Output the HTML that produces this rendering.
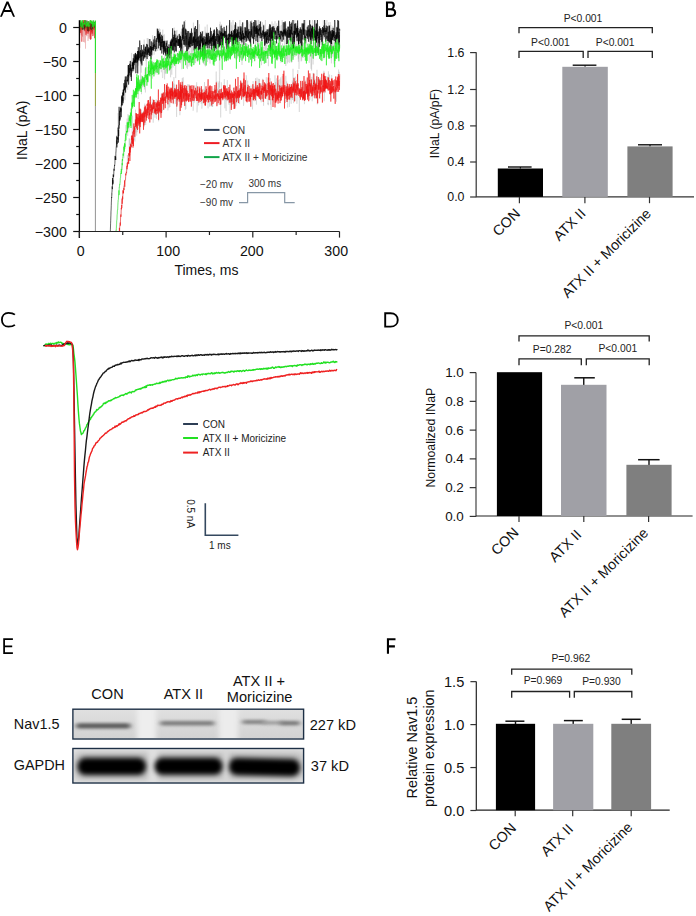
<!DOCTYPE html><html><head><meta charset="utf-8"><title>Figure</title><style>html,body{margin:0;padding:0;background:#fff;width:696px;height:916px;overflow:hidden;}*{font-family:"Liberation Sans", sans-serif;}</style></head><body><svg width="696" height="916" viewBox="0 0 696 916" style="display:block;font-family:&quot;Liberation Sans&quot;, sans-serif">
<rect width="696" height="916" fill="#fff"/>
<path d="M0 16.7 L6.5 1.6 L8.4 1.6 L15 16.7 L13.1 16.7 L11.02 11.95 L3.94 11.95 L1.9 16.7 Z M4.85 10 L10.1 10 L7.46 3.94 Z" fill="#000" fill-rule="evenodd"/>
<g fill="none" stroke-linejoin="round">
<path d="M110.3 231.6 L110.6 224.1 L110.9 214.5 L111.2 202.8 L111.5 197.9 L111.8 193 L112.1 195.4 L112.4 191.9 L112.7 183.9 L113 180.2 L113.3 178.8 L113.6 175.7 L113.9 172.2 L114.2 166.8 L114.5 166 L114.8 165.5 L115.1 156 L115.4 156.3 L115.7 147.4 L116 146.6 L116.3 140.3 L116.6 144.4 L116.9 135 L117.2 140.1 L117.5 130.4 L117.8 131.4 L118.1 113.1 L118.4 123.9 L118.7 125.2 L119 123.8 L119.3 110.3 L119.6 115.8 L119.9 110.2 L120.2 109.5 L120.5 120.4 L120.8 105.2 L121.1 108.4 L121.4 112.6 L121.7 100.5 L122 102.4 L122.3 102 L122.6 100.4 L122.9 89.9 L123.2 96.8 L123.5 104.2 L123.8 83.2 L124.1 98.8 L124.4 92.4 L124.7 85.9 L125 100.2 L125.3 93.4 L125.6 78.4 L125.9 86 L126.2 88.5 L126.5 82.6 L126.8 87.3 L127.1 75 L127.4 85.1 L127.7 89.9 L128 73.8 L128.3 79.3 L128.6 73.3 L128.9 76.3 L129.2 66.3 L129.5 69.9 L129.8 71.3 L130.1 77.7 L130.4 78.6 L130.7 60.4 L131 63.3 L131.3 70.5 L131.6 52.9 L131.9 63.1 L132.2 64.9 L132.5 73 L132.8 68.4 L133.1 60.8 L133.4 59.9 L133.7 59.6 L134 71.4 L134.3 57.5 L134.6 57.7 L134.9 60.7 L135.2 58.3 L135.5 57.8 L135.8 51.7 L136.1 59.1 L136.4 56.4 L136.7 67.5 L137 63.6 L137.3 54.5 L137.6 63.6 L137.9 56.4 L138.2 65.6 L138.5 57.5 L138.8 61.4 L139.1 47.9 L139.4 59.4 L139.7 45.6 L140 43.2 L140.3 55.1 L140.6 79.7 L140.9 57.7 L141.2 72.7 L141.5 51 L141.8 52.5 L142.1 58.2 L142.4 59.9 L142.7 53.9 L143 54.4 L143.3 60.7 L143.6 59.4 L143.9 48 L144.2 39.6 L144.5 55.7 L144.8 47.9 L145.1 56.9 L145.4 48.5 L145.7 60.8 L146 55.2 L146.3 53.9 L146.6 49.1 L146.9 52.1 L147.2 38 L147.5 43.7 L147.8 53.7 L148.1 38.2 L148.4 56.9 L148.7 39.2 L149 56.5 L149.3 45.1 L149.6 56.1 L149.9 51.3 L150.2 39.5 L150.5 58.4 L150.8 59.6 L151.1 48.7 L151.4 47.5 L151.7 47.9 L152 41.5 L152.3 55.9 L152.6 35.2 L152.9 47.2 L153.2 42 L153.5 42.6 L153.8 37.4 L154.1 54.8 L154.4 44.1 L154.7 51.2 L155 44.2 L155.3 38.9 L155.6 40.9 L155.9 38.7 L156.2 41.9 L156.5 39.4 L156.8 39 L157.1 33.5 L157.4 34.4 L157.7 51 L158 34.7 L158.3 31.6 L158.6 40.4 L158.9 47.9 L159.2 28.3 L159.5 40.8 L159.8 35.4 L160.1 29.2 L160.4 45.5 L160.7 40.3 L161 41.4 L161.3 35.7 L161.6 44.4 L161.9 37.8 L162.2 39.9 L162.5 34.2 L162.8 29.6 L163.1 51.8 L163.4 34.9 L163.7 45.8 L164 43.7 L164.3 34.3 L164.6 42.1 L164.9 60.6 L165.2 44.6 L165.5 46 L165.8 47.7 L166.1 56.6 L166.4 53.8 L166.7 51.8 L167 45.4 L167.3 40.2 L167.6 57.3 L167.9 58.2 L168.2 50.8 L168.5 56.2 L168.8 58.6 L169.1 59.3 L169.4 59.5 L169.7 48.8 L170 62 L170.3 41.7 L170.6 56 L170.9 52.4 L171.2 54.5 L171.5 60.9 L171.8 49.8 L172.1 37.9 L172.4 32.9 L172.7 50.3 L173 37.3 L173.3 43.9 L173.6 47.1 L173.9 31.3 L174.2 27.6 L174.5 43.1 L174.8 42 L175.1 40.2 L175.4 41.8 L175.7 35.8 L176 31 L176.3 40.6 L176.6 34.4 L176.9 29.9 L177.2 45 L177.5 40.9 L177.8 44.1 L178.1 34.6 L178.4 37.2 L178.7 34.7 L179 35.7 L179.3 43 L179.6 36.5 L179.9 44.4 L180.2 44 L180.5 55.6 L180.8 31.6 L181.1 47.2 L181.4 40.5 L181.7 41 L182 31.9 L182.3 37.4 L182.6 45.6 L182.9 39.6 L183.2 40.7 L183.5 37.8 L183.8 48.1 L184.1 39.8 L184.4 24.2 L184.7 34.4 L185 21.1 L185.3 20 L185.6 33.7 L185.9 46.8 L186.2 31.1 L186.5 29.5 L186.8 30.7 L187.1 45.2 L187.4 38.3 L187.7 37.6 L188 37.4 L188.3 38.5 L188.6 44.5 L188.9 42.6 L189.2 40.2 L189.5 31.7 L189.8 42.6 L190.1 34.3 L190.4 47.1 L190.7 31.3 L191 39.1 L191.3 40.4 L191.6 31.6 L191.9 52.5 L192.2 50.7 L192.5 37 L192.8 43.7 L193.1 42.9 L193.4 22.6 L193.7 37.5 L194 40.3 L194.3 40.7 L194.6 32.5 L194.9 38.3 L195.2 39 L195.5 48.3 L195.8 42.5 L196.1 40.2 L196.4 44.6 L196.7 35.6 L197 36.9 L197.3 26.8 L197.6 49.8 L197.9 45.8 L198.2 45.5 L198.5 43.9 L198.8 40.7 L199.1 41.6 L199.4 24.2 L199.7 37.7 L200 40 L200.3 47.9 L200.6 43.3 L200.9 38.7 L201.2 34.9 L201.5 34.9 L201.8 49.8 L202.1 41.7 L202.4 38.6 L202.7 35.8 L203 30.9 L203.3 38.3 L203.6 45.3 L203.9 36.5 L204.2 37.3 L204.5 37.2 L204.8 36.6 L205.1 26.7 L205.4 36.5 L205.7 31.7 L206 43.4 L206.3 32.1 L206.6 41.8 L206.9 48.3 L207.2 24.5 L207.5 34.4 L207.8 40.1 L208.1 39 L208.4 32.7 L208.7 43.1 L209 53.9 L209.3 37.9 L209.6 38.1 L209.9 31.9 L210.2 41.8 L210.5 30.9 L210.8 31.9 L211.1 57.1 L211.4 32.7 L211.7 46.8 L212 49.8 L212.3 40.7 L212.6 42.8 L212.9 52.8 L213.2 33.1 L213.5 34.1 L213.8 29 L214.1 38.7 L214.4 48 L214.7 44.3 L215 30.7 L215.3 31.6 L215.6 34.1 L215.9 39.5 L216.2 36 L216.5 38.5 L216.8 39.2 L217.1 34.9 L217.4 37.2 L217.7 38.7 L218 36.3 L218.3 40.2 L218.6 49 L218.9 39.9 L219.2 36.3 L219.5 24.1 L219.8 38.2 L220.1 21.7 L220.4 25.9 L220.7 41.6 L221 40.7 L221.3 34.6 L221.6 24.2 L221.9 34 L222.2 32 L222.5 41.4 L222.8 52.8 L223.1 38.5 L223.4 31 L223.7 28.4 L224 36.5 L224.3 35.8 L224.6 29.4 L224.9 38.8 L225.2 29.5 L225.5 45.1 L225.8 41.8 L226.1 45.4 L226.4 34.3 L226.7 41 L227 36.2 L227.3 33.8 L227.6 33.3 L227.9 26.4 L228.2 25.3 L228.5 40.6 L228.8 33.5 L229.1 36.4 L229.4 42.3 L229.7 22.9 L230 29.7 L230.3 36 L230.6 37.2 L230.9 31.6 L231.2 22.3 L231.5 35.3 L231.8 25.4 L232.1 27.1 L232.4 38.8 L232.7 33.4 L233 20.1 L233.3 43.2 L233.6 37.7 L233.9 42.7 L234.2 30.4 L234.5 31.1 L234.8 25.4 L235.1 51.1 L235.4 36.6 L235.7 44.5 L236 29.1 L236.3 35.4 L236.6 23.1 L236.9 32 L237.2 42 L237.5 26.4 L237.8 42.8 L238.1 37.4 L238.4 29.3 L238.7 31.5 L239 31.7 L239.3 34.2 L239.6 31 L239.9 20 L240.2 32.9 L240.5 28.2 L240.8 26.3 L241.1 34.7 L241.4 40.8 L241.7 24.1 L242 34.5 L242.3 29.8 L242.6 27.6 L242.9 40.1 L243.2 30.1 L243.5 54.7 L243.8 27.6 L244.1 35.7 L244.4 31.7 L244.7 28.1 L245 37.3 L245.3 29.3 L245.6 38.4 L245.9 33.7 L246.2 26.1 L246.5 32.7 L246.8 33.8 L247.1 40.3 L247.4 27.7 L247.7 30.8 L248 22.5 L248.3 39.3 L248.6 26.9 L248.9 21.4 L249.2 34 L249.5 42.4 L249.8 24.2 L250.1 27.7 L250.4 27.8 L250.7 26.7 L251 38 L251.3 20.3 L251.6 20 L251.9 39.4 L252.2 30.4 L252.5 38.9 L252.8 28.4 L253.1 26.4 L253.4 21.7 L253.7 44.4 L254 31.5 L254.3 23.8 L254.6 33.3 L254.9 34.7 L255.2 34.5 L255.5 47.3 L255.8 26.5 L256.1 22.8 L256.4 26.8 L256.7 24.6 L257 31.9 L257.3 39.3 L257.6 26.6 L257.9 20 L258.2 20 L258.5 42.7 L258.8 20 L259.1 37.5 L259.4 27 L259.7 41.9 L260 27.4 L260.3 32.7 L260.6 24.2 L260.9 21.4 L261.2 44.7 L261.5 41.2 L261.8 33 L262.1 29.5 L262.4 22.2 L262.7 33 L263 35.5 L263.3 35.6 L263.6 35.9 L263.9 24.1 L264.2 36.5 L264.5 43.8 L264.8 45.8 L265.1 49.6 L265.4 20 L265.7 30.8 L266 35.2 L266.3 31.7 L266.6 30.9 L266.9 36 L267.2 29.1 L267.5 40.4 L267.8 35.3 L268.1 38 L268.4 35.1 L268.7 26.4 L269 29.5 L269.3 34.5 L269.6 31.9 L269.9 37.2 L270.2 35 L270.5 25.5 L270.8 36 L271.1 26.4 L271.4 32 L271.7 33.5 L272 21.5 L272.3 36.2 L272.6 36.6 L272.9 32.7 L273.2 23.7 L273.5 31.6 L273.8 27.5 L274.1 32.8 L274.4 30.8 L274.7 35.5 L275 21.2 L275.3 36.1 L275.6 36.3 L275.9 34.2 L276.2 32.3 L276.5 38.8 L276.8 23.3 L277.1 38.8 L277.4 37.3 L277.7 38.2 L278 38.7 L278.3 31.4 L278.6 34.3 L278.9 40.3 L279.2 39.4 L279.5 38 L279.8 26.1 L280.1 40.2 L280.4 44.7 L280.7 43.3 L281 37.9 L281.3 25 L281.6 41.9 L281.9 34 L282.2 20 L282.5 37.7 L282.8 24 L283.1 24.4 L283.4 28.5 L283.7 41.6 L284 30 L284.3 35.2 L284.6 44.9 L284.9 43.9 L285.2 32.3 L285.5 31.2 L285.8 23.8 L286.1 28.1 L286.4 35.7 L286.7 35.4 L287 33.4 L287.3 39.7 L287.6 27.5 L287.9 32.5 L288.2 42.8 L288.5 39 L288.8 41.3 L289.1 36.7 L289.4 32.3 L289.7 37 L290 27 L290.3 22 L290.6 38 L290.9 33.5 L291.2 35.4 L291.5 21.3 L291.8 30.9 L292.1 29.2 L292.4 26.9 L292.7 20 L293 31.5 L293.3 40.3 L293.6 36.9 L293.9 30.5 L294.2 34.9 L294.5 39.9 L294.8 20 L295.1 33.7 L295.4 37.7 L295.7 39.1 L296 46.8 L296.3 43.4 L296.6 32 L296.9 37.7 L297.2 41.9 L297.5 21.5 L297.8 36.4 L298.1 42.3 L298.4 58.7 L298.7 34.2 L299 34.9 L299.3 36.4 L299.6 43.9 L299.9 34 L300.2 44.4 L300.5 28.1 L300.8 33.7 L301.1 33.8 L301.4 41.5 L301.7 42.5 L302 24.4 L302.3 32 L302.6 37 L302.9 29.7 L303.2 22.9 L303.5 40.5 L303.8 37.1 L304.1 37.2 L304.4 30.5 L304.7 41.4 L305 32.6 L305.3 41.7 L305.6 20 L305.9 29.2 L306.2 36.7 L306.5 42.7 L306.8 39.3 L307.1 36.3 L307.4 27.9 L307.7 35.2 L308 32.3 L308.3 41.1 L308.6 30.5 L308.9 31.8 L309.2 43.3 L309.5 50.3 L309.8 48 L310.1 34.5 L310.4 35.4 L310.7 44.8 L311 33.6 L311.3 27.6 L311.6 34.7 L311.9 36.3 L312.2 27.4 L312.5 20 L312.8 23.7 L313.1 44.5 L313.4 28.7 L313.7 32.6 L314 25.7 L314.3 37.9 L314.6 30.7 L314.9 37.2 L315.2 26.9 L315.5 31.9 L315.8 27.6 L316.1 42.7 L316.4 34.8 L316.7 29.5 L317 30 L317.3 33.3 L317.6 40 L317.9 24.4 L318.2 28.1 L318.5 32.3 L318.8 51.4 L319.1 42 L319.4 33.8 L319.7 39.6 L320 44.9 L320.3 32.9 L320.6 29.6 L320.9 43.2 L321.2 37.6 L321.5 39 L321.8 37.4 L322.1 47.5 L322.4 44.2 L322.7 38.7 L323 39.5 L323.3 20.2 L323.6 38.9 L323.9 32.8 L324.2 37.4 L324.5 39.2 L324.8 32.4 L325.1 22.9 L325.4 37.7 L325.7 30 L326 34.8 L326.3 30.5 L326.6 32.1 L326.9 20 L327.2 43.4 L327.5 35.7 L327.8 42.7 L328.1 45.1 L328.4 35.1 L328.7 22.3 L329 29.2 L329.3 27.4 L329.6 32.6 L329.9 36.7 L330.2 22.1 L330.5 38.5 L330.8 25 L331.1 38 L331.4 35.6 L331.7 27.9 L332 36.5 L332.3 33.8 L332.6 31 L332.9 25.9 L333.2 37.1 L333.5 50.2 L333.8 51 L334.1 46.7 L334.4 42 L334.7 32.3 L335 46.4 L335.3 36.2 L335.6 36.1 L335.9 34.7 L336.2 37.2 L336.5 32.9 L336.8 35.7 L337.1 28.6 L337.4 32.8 L337.7 49.1 L338 38.6 L338.3 33.6 L338.6 39.4 L338.9 40.6 L339.2 28 L339.5 34.8" stroke="#aaa" stroke-width="0.45" opacity="0.6"/>
<path d="M116 231.3 L116.3 224.2 L116.6 224.4 L116.9 218.3 L117.2 214.3 L117.5 210.1 L117.8 207 L118.1 200.4 L118.4 199.6 L118.7 195.3 L119 191.6 L119.3 189.8 L119.6 186.3 L119.9 184.5 L120.2 183.7 L120.5 177.2 L120.8 177.5 L121.1 175.6 L121.4 171.4 L121.7 166.6 L122 159.6 L122.3 170.1 L122.6 160.1 L122.9 154 L123.2 154.4 L123.5 149.5 L123.8 158.2 L124.1 150.3 L124.4 144.7 L124.7 146.1 L125 143 L125.3 148.7 L125.6 133 L125.9 125.1 L126.2 135 L126.5 131.3 L126.8 129.3 L127.1 118.6 L127.4 131 L127.7 135.9 L128 114.1 L128.3 128.8 L128.6 117.8 L128.9 132.1 L129.2 120.6 L129.5 115.6 L129.8 121.4 L130.1 116.9 L130.4 119.8 L130.7 116.3 L131 108.5 L131.3 109.1 L131.6 119.4 L131.9 104.8 L132.2 101.4 L132.5 105.2 L132.8 94.3 L133.1 94.5 L133.4 97.9 L133.7 96.4 L134 99.1 L134.3 103.9 L134.6 94.4 L134.9 98.8 L135.2 93.2 L135.5 88.1 L135.8 89.6 L136.1 86.2 L136.4 95.5 L136.7 91.3 L137 87.7 L137.3 79.2 L137.6 86.5 L137.9 81.7 L138.2 99 L138.5 84.3 L138.8 79.6 L139.1 88.1 L139.4 86.3 L139.7 79 L140 88.7 L140.3 81.6 L140.6 79 L140.9 80.8 L141.2 75.3 L141.5 94.2 L141.8 78.2 L142.1 87.5 L142.4 87 L142.7 76.7 L143 86.5 L143.3 77.2 L143.6 79.1 L143.9 81.2 L144.2 77.8 L144.5 89.4 L144.8 77.1 L145.1 68.7 L145.4 92.5 L145.7 71.8 L146 71.5 L146.3 56.7 L146.6 78 L146.9 79.7 L147.2 76.4 L147.5 76.6 L147.8 80.7 L148.1 70.5 L148.4 75.7 L148.7 66.4 L149 68.2 L149.3 75.4 L149.6 72 L149.9 61.6 L150.2 70.5 L150.5 74.2 L150.8 53.5 L151.1 70.3 L151.4 65.9 L151.7 60.4 L152 62.6 L152.3 78.6 L152.6 60.9 L152.9 70.4 L153.2 72 L153.5 72.7 L153.8 68.5 L154.1 67 L154.4 69.8 L154.7 73.3 L155 65.4 L155.3 62.8 L155.6 73.7 L155.9 74.5 L156.2 70.5 L156.5 64.7 L156.8 70.5 L157.1 68.6 L157.4 72.9 L157.7 61.2 L158 74.8 L158.3 67.2 L158.6 65.1 L158.9 73.9 L159.2 68.5 L159.5 65.8 L159.8 70.1 L160.1 59.9 L160.4 66.7 L160.7 69.1 L161 64 L161.3 72.2 L161.6 59.9 L161.9 59.6 L162.2 67.8 L162.5 77.9 L162.8 78 L163.1 70.1 L163.4 61.2 L163.7 69.8 L164 66.8 L164.3 57.4 L164.6 79.4 L164.9 66.6 L165.2 73.2 L165.5 67.7 L165.8 74.1 L166.1 66.6 L166.4 70.3 L166.7 58.2 L167 56.9 L167.3 71.4 L167.6 71.5 L167.9 65.4 L168.2 63.7 L168.5 63.3 L168.8 58.8 L169.1 71.2 L169.4 66.3 L169.7 65.4 L170 64.5 L170.3 68.1 L170.6 77.3 L170.9 67.1 L171.2 56.9 L171.5 65.3 L171.8 74.7 L172.1 60.3 L172.4 62.3 L172.7 67 L173 67.5 L173.3 65.3 L173.6 53.4 L173.9 64.7 L174.2 55.4 L174.5 57.1 L174.8 64.2 L175.1 58.9 L175.4 65 L175.7 78.1 L176 64.7 L176.3 63.7 L176.6 54.3 L176.9 55.8 L177.2 53.2 L177.5 55.4 L177.8 52.8 L178.1 54.5 L178.4 57.4 L178.7 53.1 L179 50.5 L179.3 50.6 L179.6 52.1 L179.9 59 L180.2 63.4 L180.5 62.8 L180.8 55.8 L181.1 61.3 L181.4 49.2 L181.7 69.2 L182 63.4 L182.3 56.1 L182.6 50.5 L182.9 58.4 L183.2 46 L183.5 52.7 L183.8 60.5 L184.1 56.7 L184.4 53.2 L184.7 61.5 L185 50.8 L185.3 58.2 L185.6 53.6 L185.9 51.4 L186.2 59.5 L186.5 51.8 L186.8 67.8 L187.1 54.6 L187.4 69.1 L187.7 52 L188 61.6 L188.3 51.8 L188.6 51.2 L188.9 66.5 L189.2 61.5 L189.5 50.8 L189.8 64.7 L190.1 54.1 L190.4 58.9 L190.7 60.2 L191 48 L191.3 48.1 L191.6 66.8 L191.9 60.7 L192.2 54.8 L192.5 50.7 L192.8 46.3 L193.1 47.2 L193.4 57.8 L193.7 45.4 L194 48.7 L194.3 52 L194.6 63.3 L194.9 53.4 L195.2 52.4 L195.5 63.1 L195.8 56.1 L196.1 55.3 L196.4 52 L196.7 46.5 L197 48.7 L197.3 52.6 L197.6 55.9 L197.9 61.7 L198.2 58.8 L198.5 60.4 L198.8 57.1 L199.1 50.7 L199.4 43.6 L199.7 52.6 L200 59.5 L200.3 55 L200.6 53.5 L200.9 47.8 L201.2 51 L201.5 53.7 L201.8 54.7 L202.1 51.3 L202.4 57.6 L202.7 53.7 L203 49.3 L203.3 54.5 L203.6 64.1 L203.9 50.2 L204.2 60.1 L204.5 62 L204.8 65.3 L205.1 50.6 L205.4 66.4 L205.7 55.5 L206 52.8 L206.3 53.4 L206.6 58.2 L206.9 55.6 L207.2 53.9 L207.5 62 L207.8 51 L208.1 48.7 L208.4 58.5 L208.7 57.9 L209 60.2 L209.3 33.9 L209.6 60.2 L209.9 63.4 L210.2 63.4 L210.5 46.7 L210.8 54.3 L211.1 51.1 L211.4 44.1 L211.7 57.1 L212 59.9 L212.3 50.8 L212.6 49 L212.9 54.3 L213.2 64.2 L213.5 58.2 L213.8 48 L214.1 51.9 L214.4 58.4 L214.7 49.1 L215 48.8 L215.3 57.1 L215.6 61.5 L215.9 46.8 L216.2 38.7 L216.5 45.3 L216.8 47.9 L217.1 53 L217.4 57.5 L217.7 53 L218 49.9 L218.3 55.9 L218.6 48.8 L218.9 54.1 L219.2 50.9 L219.5 87.6 L219.8 74.3 L220.1 42.3 L220.4 48.7 L220.7 52 L221 47.5 L221.3 49.2 L221.6 49.9 L221.9 59 L222.2 51.6 L222.5 49.1 L222.8 52.3 L223.1 46.9 L223.4 52.9 L223.7 52 L224 59.4 L224.3 52 L224.6 59.5 L224.9 54.7 L225.2 53 L225.5 41.9 L225.8 46.2 L226.1 57.6 L226.4 61.4 L226.7 54.1 L227 57.8 L227.3 51.3 L227.6 50.7 L227.9 48.7 L228.2 57.8 L228.5 54.1 L228.8 54.7 L229.1 49.5 L229.4 54.1 L229.7 52.8 L230 46.2 L230.3 59.1 L230.6 50.7 L230.9 49.7 L231.2 57.1 L231.5 54.4 L231.8 47.6 L232.1 50.6 L232.4 41.9 L232.7 44.5 L233 35.5 L233.3 54.5 L233.6 37.9 L233.9 52.8 L234.2 37.2 L234.5 56.4 L234.8 48 L235.1 51.2 L235.4 53 L235.7 59.3 L236 51.9 L236.3 54.6 L236.6 46.9 L236.9 53.9 L237.2 51.6 L237.5 58.4 L237.8 50.8 L238.1 50.9 L238.4 55.6 L238.7 53.9 L239 49.2 L239.3 48.3 L239.6 56.1 L239.9 41.6 L240.2 47.4 L240.5 59.7 L240.8 48.3 L241.1 50.3 L241.4 54.5 L241.7 32 L242 65 L242.3 37.2 L242.6 59 L242.9 59.4 L243.2 56.1 L243.5 49.8 L243.8 53.4 L244.1 46.7 L244.4 55.6 L244.7 44.9 L245 49.8 L245.3 56.2 L245.6 40.6 L245.9 49.7 L246.2 52.8 L246.5 44.4 L246.8 49.3 L247.1 53.4 L247.4 43.9 L247.7 52.8 L248 49 L248.3 49.4 L248.6 53.6 L248.9 49.3 L249.2 58 L249.5 48.9 L249.8 57.5 L250.1 51.1 L250.4 56.3 L250.7 48.4 L251 48.8 L251.3 45.9 L251.6 54.8 L251.9 57 L252.2 62.7 L252.5 58.1 L252.8 52.3 L253.1 50 L253.4 53.2 L253.7 50 L254 57.7 L254.3 54.9 L254.6 45.4 L254.9 46.5 L255.2 57.7 L255.5 51.9 L255.8 49.1 L256.1 57.9 L256.4 55.9 L256.7 54.4 L257 47.9 L257.3 39.2 L257.6 55.2 L257.9 43.7 L258.2 47.9 L258.5 47.6 L258.8 56.4 L259.1 51.9 L259.4 52 L259.7 42.8 L260 51.8 L260.3 44.3 L260.6 54.4 L260.9 60.7 L261.2 53.6 L261.5 65.2 L261.8 57.1 L262.1 57.3 L262.4 55 L262.7 53.2 L263 59.6 L263.3 60.3 L263.6 46.9 L263.9 59.5 L264.2 56.6 L264.5 58.3 L264.8 55.6 L265.1 45.6 L265.4 46.1 L265.7 63.2 L266 54.1 L266.3 44.6 L266.6 53.8 L266.9 48.6 L267.2 40.5 L267.5 38.1 L267.8 41.3 L268.1 35.3 L268.4 66.2 L268.7 48.8 L269 51.5 L269.3 53.4 L269.6 39 L269.9 48.9 L270.2 45.9 L270.5 44.2 L270.8 47.2 L271.1 49.5 L271.4 48.9 L271.7 41.9 L272 47.6 L272.3 61.6 L272.6 44.7 L272.9 41.5 L273.2 51.5 L273.5 53.1 L273.8 52.4 L274.1 43.6 L274.4 55.5 L274.7 45.6 L275 44.1 L275.3 47.5 L275.6 51.7 L275.9 54.4 L276.2 53.6 L276.5 49.6 L276.8 55.2 L277.1 58.9 L277.4 55.1 L277.7 42.6 L278 41.7 L278.3 54.1 L278.6 42.6 L278.9 59.3 L279.2 50 L279.5 49.7 L279.8 48 L280.1 58.4 L280.4 36.6 L280.7 55.7 L281 62.7 L281.3 50.1 L281.6 49.5 L281.9 53.7 L282.2 59.7 L282.5 43.4 L282.8 50.3 L283.1 48.6 L283.4 52.8 L283.7 50.3 L284 53 L284.3 47.3 L284.6 49.8 L284.9 46.1 L285.2 46.7 L285.5 49.7 L285.8 66 L286.1 54.9 L286.4 59.1 L286.7 50.1 L287 43.3 L287.3 63.5 L287.6 46.6 L287.9 53.7 L288.2 62.2 L288.5 52.3 L288.8 52.2 L289.1 48.7 L289.4 51.4 L289.7 62.8 L290 39.1 L290.3 51.5 L290.6 53.6 L290.9 45.4 L291.2 43.7 L291.5 62.6 L291.8 49.1 L292.1 62.2 L292.4 44.3 L292.7 50.2 L293 58.2 L293.3 53.3 L293.6 55.9 L293.9 52 L294.2 53.5 L294.5 50.6 L294.8 56.9 L295.1 54 L295.4 44.2 L295.7 45.9 L296 51.9 L296.3 46.8 L296.6 47.9 L296.9 44.3 L297.2 48.2 L297.5 52 L297.8 55.1 L298.1 49.8 L298.4 61.8 L298.7 50.6 L299 69 L299.3 57.2 L299.6 54.2 L299.9 48.4 L300.2 35.5 L300.5 50.2 L300.8 52.2 L301.1 61.4 L301.4 44.5 L301.7 60.7 L302 47.7 L302.3 52.7 L302.6 42 L302.9 49.6 L303.2 47 L303.5 57.8 L303.8 50.5 L304.1 43.2 L304.4 54.5 L304.7 52.9 L305 52.2 L305.3 54.5 L305.6 54.8 L305.9 48.5 L306.2 40.9 L306.5 41.1 L306.8 55.8 L307.1 52.5 L307.4 49.9 L307.7 53.3 L308 50 L308.3 51.6 L308.6 49.2 L308.9 47.2 L309.2 62.9 L309.5 51.9 L309.8 46.8 L310.1 43.6 L310.4 46.3 L310.7 53.9 L311 68.8 L311.3 52.1 L311.6 70.6 L311.9 49.7 L312.2 45.2 L312.5 58.2 L312.8 53 L313.1 64.5 L313.4 49.9 L313.7 49.7 L314 55.5 L314.3 48.7 L314.6 42.4 L314.9 45.2 L315.2 51 L315.5 52.5 L315.8 49.8 L316.1 55.4 L316.4 55.2 L316.7 52.5 L317 50.6 L317.3 48.6 L317.6 52.7 L317.9 54.2 L318.2 49.3 L318.5 51.8 L318.8 47.7 L319.1 41.9 L319.4 41.5 L319.7 53.3 L320 51.5 L320.3 57.8 L320.6 48.9 L320.9 53.2 L321.2 55.2 L321.5 56.1 L321.8 45.1 L322.1 47.1 L322.4 49.4 L322.7 42.3 L323 50.8 L323.3 54.2 L323.6 46.1 L323.9 59.6 L324.2 47.3 L324.5 47.6 L324.8 47.8 L325.1 44.6 L325.4 51.3 L325.7 48.8 L326 57.3 L326.3 51.2 L326.6 51.9 L326.9 47.7 L327.2 41.5 L327.5 48.7 L327.8 44.6 L328.1 54.1 L328.4 48.5 L328.7 58.6 L329 53 L329.3 53.1 L329.6 50.1 L329.9 49.8 L330.2 52.5 L330.5 54.2 L330.8 45 L331.1 52.1 L331.4 63.4 L331.7 49 L332 48.3 L332.3 46.8 L332.6 42.6 L332.9 56.7 L333.2 49.7 L333.5 51.4 L333.8 59.8 L334.1 63.8 L334.4 44.6 L334.7 54.3 L335 52.3 L335.3 50.7 L335.6 50.9 L335.9 48.4 L336.2 57.6 L336.5 52 L336.8 50.4 L337.1 55.1 L337.4 53.7 L337.7 51.5 L338 50.7 L338.3 57.8 L338.6 50.5 L338.9 47.5 L339.2 43.7 L339.5 46.6 L339.8 42.6" stroke="#aaa" stroke-width="0.45" opacity="0.6"/>
<path d="M119.3 232 L119.6 227.3 L119.9 224.8 L120.2 224.6 L120.5 220 L120.8 214.9 L121.1 214.6 L121.4 210.2 L121.7 206.2 L122 203.6 L122.3 199.1 L122.6 196.5 L122.9 194 L123.2 193.2 L123.5 188.6 L123.8 185.9 L124.1 190.5 L124.4 184.5 L124.7 183.1 L125 181 L125.3 179.4 L125.6 179.8 L125.9 175.4 L126.2 171.2 L126.5 173.6 L126.8 167.5 L127.1 170.1 L127.4 155 L127.7 159.7 L128 164.4 L128.3 158.2 L128.6 154 L128.9 156.5 L129.2 138.3 L129.5 151.4 L129.8 138.9 L130.1 145.1 L130.4 142.5 L130.7 146.7 L131 146.8 L131.3 135.5 L131.6 148.3 L131.9 133.8 L132.2 123.5 L132.5 115.7 L132.8 144.5 L133.1 132.8 L133.4 128.5 L133.7 127.1 L134 123.7 L134.3 140.2 L134.6 129 L134.9 141.5 L135.2 126.5 L135.5 109.7 L135.8 132.6 L136.1 123 L136.4 122.9 L136.7 135.7 L137 122.5 L137.3 132.1 L137.6 123 L137.9 117.1 L138.2 125.9 L138.5 116.4 L138.8 129.2 L139.1 127.1 L139.4 119.8 L139.7 123.4 L140 122.6 L140.3 115.8 L140.6 124 L140.9 115.1 L141.2 120.9 L141.5 109.6 L141.8 116.8 L142.1 119.3 L142.4 120.1 L142.7 113.2 L143 112.2 L143.3 121.2 L143.6 110.6 L143.9 118.7 L144.2 126.6 L144.5 118.4 L144.8 103.6 L145.1 115.9 L145.4 122.3 L145.7 125 L146 121.6 L146.3 117.6 L146.6 115.4 L146.9 118 L147.2 108.4 L147.5 110.2 L147.8 112.6 L148.1 115.7 L148.4 114.9 L148.7 110.1 L149 112.4 L149.3 114.8 L149.6 96.9 L149.9 106.2 L150.2 114.1 L150.5 109.5 L150.8 109 L151.1 108.7 L151.4 104.1 L151.7 115.5 L152 112.7 L152.3 98.8 L152.6 111.1 L152.9 102.6 L153.2 122.7 L153.5 106.2 L153.8 105.6 L154.1 108.2 L154.4 106 L154.7 106.1 L155 117.7 L155.3 101.8 L155.6 112 L155.9 114.3 L156.2 99.4 L156.5 118.8 L156.8 111.9 L157.1 114 L157.4 100.3 L157.7 112.4 L158 109.1 L158.3 101.6 L158.6 121.3 L158.9 109.3 L159.2 103.1 L159.5 106.4 L159.8 111.7 L160.1 113.5 L160.4 108.7 L160.7 113.3 L161 114.4 L161.3 93.7 L161.6 98.7 L161.9 94.8 L162.2 101.9 L162.5 111.3 L162.8 105.1 L163.1 92.4 L163.4 97.6 L163.7 106.4 L164 94.8 L164.3 97.4 L164.6 89.5 L164.9 84.2 L165.2 102.9 L165.5 99.9 L165.8 101.5 L166.1 89.8 L166.4 91.2 L166.7 92.4 L167 98.9 L167.3 89.2 L167.6 98.6 L167.9 110.4 L168.2 106.3 L168.5 91.2 L168.8 90.9 L169.1 107.9 L169.4 93.2 L169.7 105.8 L170 107 L170.3 91.8 L170.6 93.4 L170.9 95.7 L171.2 88.4 L171.5 94.3 L171.8 87.6 L172.1 100.4 L172.4 90.8 L172.7 92.1 L173 90.3 L173.3 83.3 L173.6 104.2 L173.9 77 L174.2 89.3 L174.5 98.3 L174.8 84.4 L175.1 99.2 L175.4 103.9 L175.7 88.6 L176 96.5 L176.3 87.1 L176.6 116.9 L176.9 90.2 L177.2 96.9 L177.5 105.2 L177.8 98.8 L178.1 99.1 L178.4 100 L178.7 87 L179 97.1 L179.3 98.6 L179.6 84.2 L179.9 115.2 L180.2 94.2 L180.5 96 L180.8 86.8 L181.1 93.6 L181.4 95.1 L181.7 90.5 L182 94 L182.3 78.1 L182.6 102.8 L182.9 85.1 L183.2 77.3 L183.5 86.2 L183.8 84.9 L184.1 97.3 L184.4 87 L184.7 97 L185 86.9 L185.3 109.9 L185.6 98.2 L185.9 108.9 L186.2 87.9 L186.5 100.5 L186.8 88.1 L187.1 99.4 L187.4 100.3 L187.7 84.3 L188 87.2 L188.3 86.5 L188.6 84.5 L188.9 90.1 L189.2 88.2 L189.5 84.6 L189.8 96.2 L190.1 99.9 L190.4 86.3 L190.7 91.5 L191 96.3 L191.3 94.3 L191.6 91 L191.9 101.3 L192.2 101.8 L192.5 100.4 L192.8 94.9 L193.1 110.8 L193.4 108.8 L193.7 86.1 L194 94.5 L194.3 102.6 L194.6 90.3 L194.9 99 L195.2 96.9 L195.5 91.7 L195.8 95.2 L196.1 85.4 L196.4 92.7 L196.7 82.3 L197 112.4 L197.3 106.9 L197.6 105 L197.9 98.6 L198.2 103.3 L198.5 105.4 L198.8 103.5 L199.1 102.8 L199.4 89.7 L199.7 99.5 L200 92.9 L200.3 88.1 L200.6 87.8 L200.9 99.6 L201.2 103.8 L201.5 86.4 L201.8 108.6 L202.1 106.7 L202.4 93.3 L202.7 92.6 L203 96 L203.3 103.9 L203.6 94 L203.9 88.8 L204.2 99.5 L204.5 82.1 L204.8 98 L205.1 105 L205.4 98.6 L205.7 100.1 L206 100.3 L206.3 102 L206.6 98.1 L206.9 91.1 L207.2 95.7 L207.5 96.6 L207.8 106.3 L208.1 108.4 L208.4 99.9 L208.7 91.7 L209 91.5 L209.3 95.2 L209.6 106.6 L209.9 99.3 L210.2 96.1 L210.5 90.5 L210.8 106.2 L211.1 98.2 L211.4 95.3 L211.7 96.3 L212 107 L212.3 93.7 L212.6 107 L212.9 103.6 L213.2 96.2 L213.5 100.8 L213.8 93.4 L214.1 88.7 L214.4 92.8 L214.7 88.3 L215 98.8 L215.3 94.7 L215.6 98.4 L215.9 94.4 L216.2 71.5 L216.5 96.3 L216.8 81.2 L217.1 95.9 L217.4 88.7 L217.7 95.9 L218 105.1 L218.3 82.7 L218.6 96.7 L218.9 94.6 L219.2 81.2 L219.5 99.6 L219.8 95.2 L220.1 90.9 L220.4 89.4 L220.7 117.5 L221 91.6 L221.3 82.3 L221.6 88.6 L221.9 92.8 L222.2 92.8 L222.5 97 L222.8 95.6 L223.1 99.2 L223.4 92.3 L223.7 85.5 L224 89.6 L224.3 79.2 L224.6 101.7 L224.9 108.3 L225.2 91.7 L225.5 96.2 L225.8 97.8 L226.1 111 L226.4 91.8 L226.7 99.6 L227 101.2 L227.3 80.1 L227.6 97.5 L227.9 97.4 L228.2 92.7 L228.5 100.2 L228.8 104 L229.1 104.8 L229.4 94.8 L229.7 98.1 L230 113.9 L230.3 89 L230.6 98.6 L230.9 103.4 L231.2 98.2 L231.5 107.7 L231.8 97.3 L232.1 101.8 L232.4 104.9 L232.7 94.6 L233 97.4 L233.3 95.6 L233.6 92.8 L233.9 95.5 L234.2 87.1 L234.5 100.6 L234.8 107.3 L235.1 107.4 L235.4 104.1 L235.7 88.3 L236 106.1 L236.3 101.2 L236.6 94 L236.9 103.4 L237.2 86.9 L237.5 101 L237.8 97.4 L238.1 94 L238.4 89.5 L238.7 98.8 L239 92.4 L239.3 102.9 L239.6 104.1 L239.9 85 L240.2 91.5 L240.5 92.7 L240.8 86.3 L241.1 86.3 L241.4 94.7 L241.7 92.3 L242 81.9 L242.3 91.8 L242.6 98.3 L242.9 85.6 L243.2 87.5 L243.5 105.8 L243.8 103.9 L244.1 81.8 L244.4 83.6 L244.7 95.9 L245 84.7 L245.3 91.6 L245.6 90.3 L245.9 97.9 L246.2 75.2 L246.5 77.3 L246.8 84.4 L247.1 100.5 L247.4 92.1 L247.7 80.6 L248 96.7 L248.3 98.1 L248.6 90.9 L248.9 90.1 L249.2 95.3 L249.5 100.9 L249.8 93.2 L250.1 96.4 L250.4 92.4 L250.7 88.3 L251 85.6 L251.3 94.8 L251.6 90.3 L251.9 90.8 L252.2 99.6 L252.5 109.4 L252.8 98.8 L253.1 81.1 L253.4 95 L253.7 86.1 L254 86.3 L254.3 86.1 L254.6 101.2 L254.9 98.6 L255.2 87.6 L255.5 78.2 L255.8 92.5 L256.1 89.5 L256.4 104.6 L256.7 82 L257 77.6 L257.3 90.3 L257.6 92.1 L257.9 92.8 L258.2 96.7 L258.5 94.1 L258.8 78.7 L259.1 88 L259.4 79.1 L259.7 93.6 L260 98.5 L260.3 90.2 L260.6 100.4 L260.9 91.7 L261.2 102.3 L261.5 93.5 L261.8 83.6 L262.1 86.5 L262.4 80.1 L262.7 78.8 L263 93.3 L263.3 97.5 L263.6 105.8 L263.9 91.4 L264.2 90.5 L264.5 84.3 L264.8 98.9 L265.1 97.8 L265.4 87.4 L265.7 96.2 L266 94.7 L266.3 77.2 L266.6 96.3 L266.9 91.9 L267.2 88.6 L267.5 88.7 L267.8 104.4 L268.1 102.9 L268.4 105.2 L268.7 83.4 L269 87.5 L269.3 98.6 L269.6 83.1 L269.9 86.2 L270.2 78.2 L270.5 104.6 L270.8 99.3 L271.1 110 L271.4 86.4 L271.7 89.5 L272 90.1 L272.3 97.2 L272.6 97.4 L272.9 100.2 L273.2 89.4 L273.5 99.8 L273.8 102.2 L274.1 91.4 L274.4 96 L274.7 89.1 L275 75.3 L275.3 95.8 L275.6 81.9 L275.9 99.6 L276.2 80.4 L276.5 78.4 L276.8 94.2 L277.1 93.3 L277.4 92.4 L277.7 82.9 L278 97.5 L278.3 80 L278.6 87 L278.9 84.4 L279.2 87.1 L279.5 95.8 L279.8 79.3 L280.1 96.5 L280.4 93 L280.7 77.4 L281 80.9 L281.3 86.3 L281.6 85.2 L281.9 92 L282.2 76.1 L282.5 95.7 L282.8 95.8 L283.1 89.4 L283.4 80.7 L283.7 90.8 L284 87.1 L284.3 95.6 L284.6 91.3 L284.9 97.2 L285.2 89.1 L285.5 103 L285.8 75.8 L286.1 85.2 L286.4 96 L286.7 81.4 L287 97.7 L287.3 83.9 L287.6 107.6 L287.9 85.6 L288.2 89 L288.5 92.7 L288.8 95.4 L289.1 88.5 L289.4 106.9 L289.7 91.3 L290 84.4 L290.3 98.1 L290.6 96.6 L290.9 99.7 L291.2 103.8 L291.5 84 L291.8 98.7 L292.1 99.4 L292.4 80.6 L292.7 100.1 L293 68.8 L293.3 86.2 L293.6 103.2 L293.9 77 L294.2 85.5 L294.5 91.8 L294.8 93.6 L295.1 100.9 L295.4 76.7 L295.7 89.8 L296 95.6 L296.3 80.2 L296.6 89.4 L296.9 103.8 L297.2 99.3 L297.5 93.2 L297.8 70 L298.1 87.9 L298.4 91.9 L298.7 86.9 L299 88.9 L299.3 112 L299.6 88.3 L299.9 94.2 L300.2 93 L300.5 88.9 L300.8 89 L301.1 91 L301.4 96.8 L301.7 92.8 L302 82.3 L302.3 89.8 L302.6 94.1 L302.9 86.6 L303.2 98.5 L303.5 95.6 L303.8 82.9 L304.1 92.1 L304.4 104.2 L304.7 101.8 L305 90.4 L305.3 97.2 L305.6 85.5 L305.9 79.8 L306.2 94.2 L306.5 91.6 L306.8 93.4 L307.1 89.6 L307.4 91.7 L307.7 95.8 L308 92.4 L308.3 94.9 L308.6 88.6 L308.9 95 L309.2 76.2 L309.5 83.8 L309.8 99.8 L310.1 95.8 L310.4 90.6 L310.7 87.7 L311 79.1 L311.3 90.5 L311.6 93.3 L311.9 76.8 L312.2 101.3 L312.5 85.7 L312.8 90.2 L313.1 73.1 L313.4 95.5 L313.7 72.9 L314 97.7 L314.3 88.2 L314.6 78.7 L314.9 96.4 L315.2 95.2 L315.5 81.9 L315.8 91.2 L316.1 79 L316.4 98.3 L316.7 95.2 L317 69.8 L317.3 104.3 L317.6 86.7 L317.9 86.5 L318.2 79 L318.5 89.4 L318.8 78.9 L319.1 80.2 L319.4 83.7 L319.7 78.3 L320 98.7 L320.3 77.3 L320.6 81.2 L320.9 80.3 L321.2 86.9 L321.5 92.8 L321.8 80.1 L322.1 84.2 L322.4 84.3 L322.7 86.5 L323 92.4 L323.3 90.9 L323.6 81.7 L323.9 70.8 L324.2 101.2 L324.5 92.8 L324.8 88.2 L325.1 88.4 L325.4 82.6 L325.7 79.2 L326 83.7 L326.3 84.4 L326.6 82 L326.9 76.1 L327.2 84.2 L327.5 90.4 L327.8 82.7 L328.1 86.6 L328.4 71.3 L328.7 85.4 L329 85.9 L329.3 77.8 L329.6 74.5 L329.9 89.6 L330.2 80.7 L330.5 90 L330.8 83.4 L331.1 91.1 L331.4 83.6 L331.7 75.1 L332 81.8 L332.3 83.2 L332.6 90.3 L332.9 82.5 L333.2 82.6 L333.5 91.4 L333.8 93.8 L334.1 90.9 L334.4 92.6 L334.7 88.2 L335 90.4 L335.3 99.7 L335.6 88.1 L335.9 85.5 L336.2 85.9 L336.5 101.7 L336.8 83.9 L337.1 81.8 L337.4 81.3 L337.7 83.4 L338 86.1 L338.3 76.2 L338.6 69.5 L338.9 81.3 L339.2 71.7 L339.5 85.7" stroke="#aaa" stroke-width="0.45" opacity="0.6"/>
<path d="M110.3 232 L110.4 229.3 L110.6 223.2 L110.7 220.3 L110.9 215.2 L111 211.2 L111.1 210.2 L111.3 205.4 L111.4 202.1 L111.6 197 L111.7 197.7 L111.8 192.5 L112 191.1 L112.1 186.5 L112.3 187.7 L112.4 189.1 L112.5 178 L112.7 184.6 L112.8 180 L113 183.7 L113.1 180.5 L113.2 174.4 L113.4 177.1 L113.5 175.5 L113.7 176.3 L113.8 173 L113.9 168.8 L114.1 169.4 L114.2 170.7 L114.4 168.2 L114.5 165.3 L114.6 166 L114.8 163.8 L114.9 163.5 L115.1 155.9 L115.2 157.4 L115.3 160 L115.5 156.6 L115.6 157 L115.8 160 L115.9 152.5 L116 152.6 L116.2 148.5 L116.3 146.9 L116.5 145.2 L116.6 140.4 L116.7 136.4 L116.9 147.4 L117 140.4 L117.2 143.9 L117.3 138.5 L117.4 137.2 L117.6 138.8 L117.7 138.1 L117.9 139.9 L118 138.8 L118.1 127.6 L118.3 131.7 L118.4 142.6 L118.6 129.8 L118.7 136.1 L118.8 125.3 L119 128.6 L119.1 106.8 L119.3 125.3 L119.4 117.9 L119.5 116.1 L119.7 121 L119.8 110.9 L120 113.6 L120.1 119.5 L120.2 112.5 L120.4 110 L120.5 107.4 L120.7 112.1 L120.8 108.9 L120.9 110.6 L121.1 108.2 L121.2 117.2 L121.4 104.9 L121.5 96.4 L121.6 105.5 L121.8 104 L121.9 104.2 L122.1 95.2 L122.2 105.4 L122.3 101.1 L122.5 100.4 L122.6 92.5 L122.8 101.1 L122.9 97.4 L123 102.9 L123.2 92.8 L123.3 89.5 L123.5 95.2 L123.6 89.8 L123.7 95.5 L123.9 87.6 L124 83.2 L124.2 90.2 L124.3 90.3 L124.4 87.6 L124.6 85.7 L124.7 90.2 L124.9 79.8 L125 88.9 L125.1 86.2 L125.3 76.5 L125.4 86.1 L125.6 92.6 L125.7 86.7 L125.8 87.4 L126 86.1 L126.1 81.3 L126.3 76.5 L126.4 86.3 L126.5 87.2 L126.7 84.4 L126.8 83.2 L127 82.6 L127.1 80.1 L127.2 81.2 L127.4 79.7 L127.5 81.4 L127.7 74.8 L127.8 75.7 L127.9 80.7 L128.1 75.9 L128.2 65.2 L128.4 76.6 L128.5 65 L128.6 84.6 L128.8 78.7 L128.9 77.9 L129.1 71 L129.2 68 L129.3 72.5 L129.5 72.9 L129.6 63.8 L129.8 72.8 L129.9 75.4 L130 74.3 L130.2 66.5 L130.3 61 L130.5 70.6 L130.6 67.2 L130.7 64.7 L130.9 76.9 L131 76.5 L131.2 69.5 L131.3 73.1 L131.4 81 L131.6 67.7 L131.7 68.4 L131.9 71.3 L132 66.6 L132.1 64.5 L132.3 61.8 L132.4 66 L132.6 62.7 L132.7 69.1 L132.8 63.2 L133 71.2 L133.1 70.2 L133.3 58.2 L133.4 68.6 L133.5 61.2 L133.7 69.3 L133.8 65 L134 54.2 L134.1 65.2 L134.2 59.5 L134.4 63.1 L134.5 63.1 L134.7 60.2 L134.8 62.3 L134.9 55.5 L135.1 62.7 L135.2 53.4 L135.4 62 L135.5 53 L135.6 62.4 L135.8 56.2 L135.9 73.2 L136.1 57.6 L136.2 58.9 L136.3 54.7 L136.5 56 L136.6 56.1 L136.8 62.9 L136.9 53.9 L137 59.7 L137.2 56.5 L137.3 62.1 L137.5 56.2 L137.6 51.1 L137.7 73.4 L137.9 51.2 L138 52 L138.2 59.7 L138.3 47.2 L138.4 59.2 L138.6 53.6 L138.7 50.7 L138.9 60.6 L139 57.3 L139.1 51.5 L139.3 53.4 L139.4 58.1 L139.6 57.6 L139.7 40.5 L139.8 45 L140 49.4 L140.1 51.1 L140.3 57.4 L140.4 57.1 L140.5 50.2 L140.7 61.4 L140.8 53.3 L141 53 L141.1 53.1 L141.2 63.6 L141.4 45 L141.5 56 L141.7 56.8 L141.8 54.7 L141.9 65.4 L142.1 60 L142.2 58.1 L142.4 49.7 L142.5 56.1 L142.6 52.2 L142.8 53.7 L142.9 54.1 L143.1 50.9 L143.2 56.1 L143.3 60.8 L143.5 58.3 L143.6 54.3 L143.8 44.6 L143.9 58.4 L144 58.8 L144.2 52.9 L144.3 51.7 L144.5 56.7 L144.6 55.5 L144.7 57.5 L144.9 48.8 L145 49.6 L145.2 53.7 L145.3 46.6 L145.4 49.5 L145.6 50.9 L145.7 47.1 L145.9 57.3 L146 50.4 L146.1 54.9 L146.3 53.2 L146.4 49.7 L146.6 49 L146.7 43.9 L146.8 48.4 L147 54 L147.1 59.1 L147.3 55.7 L147.4 44.6 L147.5 54.3 L147.7 52 L147.8 49.5 L148 53.4 L148.1 55 L148.2 48.8 L148.4 50.1 L148.5 52.2 L148.7 47.2 L148.8 52.9 L148.9 51.8 L149.1 49 L149.2 48 L149.4 53.4 L149.5 56 L149.6 53.2 L149.8 39 L149.9 54.4 L150.1 51.6 L150.2 53.3 L150.3 56.1 L150.5 46.3 L150.6 49.7 L150.8 47.6 L150.9 46.1 L151 59.2 L151.2 54 L151.3 41.4 L151.5 51.8 L151.6 47.1 L151.7 54.8 L151.9 49.7 L152 48.3 L152.2 49.5 L152.3 50.4 L152.4 48.5 L152.6 47 L152.7 47.2 L152.9 50 L153 42.5 L153.1 47.8 L153.3 46.8 L153.4 45.2 L153.6 50.6 L153.7 40.7 L153.8 39.5 L154 42.5 L154.1 49 L154.3 44.3 L154.4 45.9 L154.5 46.7 L154.7 37.4 L154.8 36 L155 40.4 L155.1 42.9 L155.2 43.3 L155.4 46.9 L155.5 46.4 L155.7 51.3 L155.8 44.1 L155.9 40.6 L156.1 40.2 L156.2 45.1 L156.4 49.1 L156.5 43 L156.6 38.2 L156.8 41.8 L156.9 41.9 L157.1 41 L157.2 36.2 L157.3 28.6 L157.5 37.9 L157.6 38.4 L157.8 38.6 L157.9 29.4 L158 39.6 L158.2 31 L158.3 48.4 L158.5 40.2 L158.6 33.8 L158.7 42.8 L158.9 35.4 L159 41.7 L159.2 39.7 L159.3 33.9 L159.4 42.4 L159.6 33.6 L159.7 45.7 L159.9 39.6 L160 35.8 L160.1 32.2 L160.3 50.3 L160.4 48.9 L160.6 36.7 L160.7 50.1 L160.8 43.7 L161 41.8 L161.1 42.4 L161.3 42 L161.4 47.1 L161.5 44.2 L161.7 34.8 L161.8 53.5 L162 47.7 L162.1 39.1 L162.2 42.9 L162.4 40.6 L162.5 36.2 L162.7 47.1 L162.8 45.9 L162.9 42 L163.1 41.2 L163.2 48.6 L163.4 44.3 L163.5 54.6 L163.6 40.9 L163.8 48.5 L163.9 45.2 L164.1 41.8 L164.2 51.8 L164.3 46.2 L164.5 41.4 L164.6 44.2 L164.8 51.1 L164.9 40.7 L165 53 L165.2 50.2 L165.3 46.2 L165.5 53.7 L165.6 54.5 L165.7 50.2 L165.9 48.2 L166 56 L166.2 54.2 L166.3 42.8 L166.4 46 L166.6 46.5 L166.7 45.7 L166.9 40.7 L167 51.9 L167.1 49.9 L167.3 48.4 L167.4 54.9 L167.6 46.2 L167.7 58.6 L167.8 50.6 L168 47.4 L168.1 49.2 L168.3 53.2 L168.4 50.3 L168.5 56.4 L168.7 47.2 L168.8 52 L169 44.4 L169.1 50.8 L169.2 47.7 L169.4 54.9 L169.5 49.6 L169.7 52.9 L169.8 58.3 L169.9 56.5 L170.1 52.7 L170.2 45.2 L170.4 41.6 L170.5 48.2 L170.6 42.6 L170.8 45.1 L170.9 46.2 L171.1 39.8 L171.2 53.6 L171.3 41.4 L171.5 43.5 L171.6 49 L171.8 38.7 L171.9 49.8 L172 49.7 L172.2 43.5 L172.3 39.9 L172.5 42.2 L172.6 28.3 L172.7 50.5 L172.9 44.5 L173 40.4 L173.2 39.5 L173.3 46.4 L173.4 50.4 L173.6 37 L173.7 40.3 L173.9 34.8 L174 45.8 L174.1 43.1 L174.3 52.5 L174.4 40.9 L174.6 39.8 L174.7 30.7 L174.8 45.8 L175 34.4 L175.1 47.1 L175.3 43.3 L175.4 39.8 L175.5 38 L175.7 47.1 L175.8 50.9 L176 40.6 L176.1 45.9 L176.2 51.6 L176.4 40.3 L176.5 42.1 L176.7 37.6 L176.8 42.7 L176.9 43.1 L177.1 41.6 L177.2 35.7 L177.4 36.1 L177.5 36.8 L177.6 38.1 L177.8 45.9 L177.9 40.5 L178.1 39.2 L178.2 46 L178.3 45.7 L178.5 39.4 L178.6 40.1 L178.8 45.9 L178.9 44.7 L179 39.1 L179.2 43.6 L179.3 33.9 L179.5 47.8 L179.6 38.3 L179.7 46.5 L179.9 40.5 L180 35.6 L180.2 47.2 L180.3 46.9 L180.4 36.1 L180.6 51.4 L180.7 36.8 L180.9 37.4 L181 40.1 L181.1 45.4 L181.3 44.4 L181.4 39.4 L181.6 48.6 L181.7 43.5 L181.8 47.8 L182 53.9 L182.1 33.2 L182.3 28.6 L182.4 38.5 L182.5 35.1 L182.7 40.3 L182.8 24.7 L183 33.6 L183.1 33.9 L183.2 37.8 L183.4 38.8 L183.5 27.5 L183.7 44.7 L183.8 40.1 L183.9 40 L184.1 41.3 L184.2 21.5 L184.4 39.8 L184.5 44.8 L184.6 44.8 L184.8 41.9 L184.9 38.5 L185.1 36.2 L185.2 46.5 L185.3 37.9 L185.5 37.7 L185.6 28.7 L185.8 34.8 L185.9 29.8 L186 44.8 L186.2 39.6 L186.3 35.2 L186.5 37.4 L186.6 51.5 L186.7 45.2 L186.9 33 L187 39.1 L187.2 33 L187.3 31.1 L187.4 40 L187.6 51.2 L187.7 47.3 L187.9 40.7 L188 38.9 L188.1 41.3 L188.3 45.1 L188.4 33 L188.6 31.1 L188.7 49.4 L188.8 41.6 L189 47.5 L189.1 41.2 L189.3 46.6 L189.4 36.8 L189.5 41.7 L189.7 47 L189.8 34.9 L190 32.9 L190.1 44.1 L190.2 36.6 L190.4 33.2 L190.5 43 L190.7 47.4 L190.8 44.5 L190.9 33.9 L191.1 44 L191.2 43.5 L191.4 35.2 L191.5 28.5 L191.6 45.7 L191.8 45 L191.9 43.4 L192.1 32.8 L192.2 34.1 L192.3 46 L192.5 45 L192.6 43.5 L192.8 39.9 L192.9 42.8 L193 38.6 L193.2 39.8 L193.3 37.4 L193.5 42.7 L193.6 36.4 L193.7 45.4 L193.9 44.2 L194 36.9 L194.2 50.4 L194.3 35.6 L194.4 27.7 L194.6 46.6 L194.7 48.2 L194.9 31.8 L195 46.9 L195.1 48.1 L195.3 49.3 L195.4 26 L195.6 39.3 L195.7 42 L195.8 39.3 L196 49 L196.1 39.1 L196.3 48.3 L196.4 44.6 L196.5 29 L196.7 36.8 L196.8 39.6 L197 37.6 L197.1 46.3 L197.2 40.6 L197.4 46.1 L197.5 33.6 L197.7 20.1 L197.8 39.4 L197.9 43.7 L198.1 39.2 L198.2 36.6 L198.4 43.2 L198.5 50.6 L198.6 40.4 L198.8 37.2 L198.9 36.5 L199.1 48.7 L199.2 40.4 L199.3 47.4 L199.5 49.6 L199.6 46.6 L199.8 35.4 L199.9 46.1 L200 45.1 L200.2 43.7 L200.3 46.5 L200.5 31.9 L200.6 54.2 L200.7 37.9 L200.9 36.3 L201 38.3 L201.2 43.3 L201.3 33.6 L201.4 40.8 L201.6 39.5 L201.7 40.5 L201.9 41.8 L202 40.4 L202.1 40.1 L202.3 31.4 L202.4 47 L202.6 38.3 L202.7 55.7 L202.8 37.6 L203 47.1 L203.1 37.7 L203.3 44.5 L203.4 42.9 L203.5 50.4 L203.7 48.1 L203.8 44.9 L204 36.2 L204.1 48.4 L204.2 48.4 L204.4 46.4 L204.5 46.1 L204.7 42.4 L204.8 39.2 L204.9 56.2 L205.1 47.7 L205.2 36.8 L205.4 45.7 L205.5 41.9 L205.6 44.6 L205.8 41.9 L205.9 46.1 L206.1 45.4 L206.2 44.2 L206.3 33.3 L206.5 44.3 L206.6 40.8 L206.8 34.8 L206.9 43.6 L207 33.5 L207.2 44.3 L207.3 48.3 L207.5 37.6 L207.6 44.5 L207.7 41.9 L207.9 42.5 L208 32.8 L208.2 42.2 L208.3 39.6 L208.4 33 L208.6 39.9 L208.7 45.2 L208.9 40.7 L209 42.5 L209.1 48.2 L209.3 39.7 L209.4 43.3 L209.6 39.8 L209.7 41.1 L209.8 36.2 L210 42 L210.1 44.1 L210.3 38.1 L210.4 42.7 L210.5 27.7 L210.7 33.9 L210.8 41.1 L211 46 L211.1 37.3 L211.2 31.1 L211.4 40.8 L211.5 37.4 L211.7 49.7 L211.8 40 L211.9 40.5 L212.1 37.8 L212.2 41.8 L212.4 37.6 L212.5 35.7 L212.6 39.6 L212.8 35.9 L212.9 45.9 L213.1 34.1 L213.2 39 L213.3 36.2 L213.5 33.2 L213.6 48.2 L213.8 30.4 L213.9 47.6 L214 33.6 L214.2 41.1 L214.3 51.2 L214.5 29.6 L214.6 33.3 L214.7 46.4 L214.9 41.1 L215 47.6 L215.2 39.8 L215.3 36.1 L215.4 37.5 L215.6 48 L215.7 39 L215.9 41.6 L216 46.2 L216.1 49.4 L216.3 36.7 L216.4 40.9 L216.6 27.4 L216.7 36.4 L216.8 36.8 L217 35.2 L217.1 30.1 L217.3 29.2 L217.4 34.9 L217.5 33.7 L217.7 44.2 L217.8 35.9 L218 37.8 L218.1 42.1 L218.2 34.6 L218.4 34.2 L218.5 38.5 L218.7 47.5 L218.8 37 L218.9 36 L219.1 30.4 L219.2 40.2 L219.4 36.6 L219.5 46.6 L219.6 35.5 L219.8 40.9 L219.9 41.9 L220.1 45.2 L220.2 31.4 L220.3 45.3 L220.5 37.3 L220.6 33 L220.8 35.6 L220.9 35.1 L221 27.1 L221.2 25.7 L221.3 39 L221.5 36.7 L221.6 31.9 L221.7 36.3 L221.9 47.5 L222 35.8 L222.2 28.3 L222.3 45.1 L222.4 33.1 L222.6 35.8 L222.7 34.2 L222.9 36.2 L223 40.4 L223.1 39.4 L223.3 33.1 L223.4 35.7 L223.6 36.5 L223.7 33.8 L223.8 35.2 L224 31.7 L224.1 26.9 L224.3 36 L224.4 30.8 L224.5 37.8 L224.7 33.6 L224.8 31.6 L225 33 L225.1 33.7 L225.2 35.3 L225.4 36.9 L225.5 35.2 L225.7 31 L225.8 43.2 L225.9 40.7 L226.1 35 L226.2 40.3 L226.4 37.7 L226.5 25.7 L226.6 36.6 L226.8 49.2 L226.9 41.3 L227.1 41.2 L227.2 34.6 L227.3 39.4 L227.5 47.3 L227.6 38.3 L227.8 41.8 L227.9 42.5 L228 39.6 L228.2 44 L228.3 37.7 L228.5 38.9 L228.6 33.8 L228.7 48.8 L228.9 38 L229 37.3 L229.2 43.4 L229.3 33.7 L229.4 36.7 L229.6 20.1 L229.7 36.9 L229.9 35.2 L230 39.3 L230.1 36 L230.3 34.1 L230.4 35.9 L230.6 34.8 L230.7 34.7 L230.8 41.8 L231 40.4 L231.1 37.8 L231.3 31.6 L231.4 39.6 L231.5 30.9 L231.7 37.5 L231.8 36.5 L232 34.1 L232.1 32.7 L232.2 33.3 L232.4 46.3 L232.5 35 L232.7 34.9 L232.8 40.3 L232.9 37.8 L233.1 41.1 L233.2 30.4 L233.4 30.9 L233.5 51.4 L233.6 35.4 L233.8 34.3 L233.9 36.7 L234.1 40.3 L234.2 30.7 L234.3 38 L234.5 29.1 L234.6 39.8 L234.8 30.1 L234.9 33.7 L235 32.1 L235.2 24.7 L235.3 41 L235.5 22.3 L235.6 34.2 L235.7 44 L235.9 34.1 L236 39 L236.2 34.5 L236.3 38.7 L236.4 35.2 L236.6 33.1 L236.7 42.2 L236.9 34.1 L237 28.9 L237.1 33.3 L237.3 38 L237.4 30 L237.6 39 L237.7 38.9 L237.8 45 L238 32 L238.1 38.3 L238.3 26.7 L238.4 32.6 L238.5 35.7 L238.7 37.3 L238.8 34.8 L239 34.9 L239.1 32.5 L239.2 31.8 L239.4 37.3 L239.5 38.5 L239.7 39.1 L239.8 35.6 L239.9 40.9 L240.1 26.4 L240.2 32.5 L240.4 34.3 L240.5 32.1 L240.6 39.9 L240.8 28.4 L240.9 34.6 L241.1 26.6 L241.2 41.2 L241.3 33.9 L241.5 34.2 L241.6 40.1 L241.8 35 L241.9 42.4 L242 37.3 L242.2 38.9 L242.3 32.9 L242.5 30.8 L242.6 34.7 L242.7 22.4 L242.9 36.9 L243 39 L243.2 34.5 L243.3 33 L243.4 39.4 L243.6 34.3 L243.7 39 L243.9 44.9 L244 41.6 L244.1 36.7 L244.3 37.6 L244.4 36.1 L244.6 36.6 L244.7 35.8 L244.8 39.8 L245 27.1 L245.1 33.3 L245.3 37.9 L245.4 31.4 L245.5 34.7 L245.7 27.7 L245.8 37.6 L246 39.5 L246.1 41.8 L246.2 36.9 L246.4 30.9 L246.5 35.7 L246.7 37 L246.8 40.8 L246.9 20.3 L247.1 36 L247.2 20 L247.4 37.4 L247.5 35.8 L247.6 36 L247.8 38 L247.9 35.8 L248.1 30.5 L248.2 35.1 L248.3 39.1 L248.5 33.3 L248.6 34.5 L248.8 28.9 L248.9 40.6 L249 32.9 L249.2 32.2 L249.3 33.2 L249.5 31.3 L249.6 34.1 L249.7 41.2 L249.9 39.2 L250 42 L250.2 42.4 L250.3 31.2 L250.4 37.3 L250.6 42.4 L250.7 46.4 L250.9 21.4 L251 27.9 L251.1 37.1 L251.3 32.3 L251.4 29.2 L251.6 35.4 L251.7 29.6 L251.8 22.9 L252 33.7 L252.1 34.6 L252.3 37.2 L252.4 38.2 L252.5 34.8 L252.7 32.8 L252.8 30.6 L253 26.4 L253.1 32.1 L253.2 38.4 L253.4 37.2 L253.5 43.7 L253.7 33.3 L253.8 22 L253.9 38 L254.1 39.2 L254.2 28.4 L254.4 25.8 L254.5 34.1 L254.6 36.9 L254.8 20 L254.9 31.5 L255.1 29.5 L255.2 27.5 L255.3 26.9 L255.5 33.9 L255.6 31.3 L255.8 29.7 L255.9 20.4 L256 41.1 L256.2 28.3 L256.3 31.8 L256.5 26.6 L256.6 34 L256.7 25.8 L256.9 33.3 L257 31.7 L257.2 37.5 L257.3 28.2 L257.4 29.9 L257.6 31.2 L257.7 42.2 L257.9 25.4 L258 33.6 L258.1 29.3 L258.3 34 L258.4 35.7 L258.6 33 L258.7 34.9 L258.8 32.9 L259 29.1 L259.1 31.4 L259.3 24.1 L259.4 30.1 L259.5 28.3 L259.7 31.1 L259.8 35.9 L260 34.3 L260.1 35.4 L260.2 38.2 L260.4 21.5 L260.5 34.4 L260.7 32.2 L260.8 32.5 L260.9 26.8 L261.1 35.6 L261.2 38.2 L261.4 37.7 L261.5 32.8 L261.6 35.9 L261.8 37.6 L261.9 41.2 L262.1 38.7 L262.2 34 L262.3 34.3 L262.5 34.4 L262.6 34.7 L262.8 31.1 L262.9 36.9 L263 30.2 L263.2 29.8 L263.3 35.4 L263.5 31.6 L263.6 33.8 L263.7 25.4 L263.9 38.9 L264 35.1 L264.2 34.6 L264.3 37.7 L264.4 36.8 L264.6 31.9 L264.7 45.8 L264.9 33.8 L265 40.3 L265.1 44.6 L265.3 33.4 L265.4 36.6 L265.6 32.3 L265.7 33.7 L265.8 35 L266 31.1 L266.1 42.8 L266.3 41.1 L266.4 32.7 L266.5 42.4 L266.7 37.5 L266.8 41.2 L267 44 L267.1 29.5 L267.2 34.8 L267.4 32.1 L267.5 36.8 L267.7 36.3 L267.8 40.1 L267.9 36.9 L268.1 29.5 L268.2 32.5 L268.4 42.9 L268.5 41.6 L268.6 35.3 L268.8 35.7 L268.9 35.3 L269.1 33.9 L269.2 28.6 L269.3 40.7 L269.5 33.1 L269.6 36.6 L269.8 24.1 L269.9 36.9 L270 33.2 L270.2 24.8 L270.3 50.8 L270.5 37.7 L270.6 31.9 L270.7 28.2 L270.9 41.2 L271 36.8 L271.2 38.1 L271.3 33.9 L271.4 31.4 L271.6 38.8 L271.7 30 L271.9 36.7 L272 27 L272.1 30.3 L272.3 27.8 L272.4 40.7 L272.6 26.5 L272.7 29.4 L272.8 38.1 L273 35.9 L273.1 45 L273.3 43.3 L273.4 37.8 L273.5 38 L273.7 26.3 L273.8 30.8 L274 33.2 L274.1 33.8 L274.2 27.9 L274.4 29.9 L274.5 30.4 L274.7 39.1 L274.8 36.1 L274.9 32.3 L275.1 32.3 L275.2 34.7 L275.4 30.5 L275.5 32.7 L275.6 31.3 L275.8 37.4 L275.9 39.4 L276.1 36.4 L276.2 36.6 L276.3 36 L276.5 43.4 L276.6 34.7 L276.8 27.5 L276.9 28.9 L277 37.4 L277.2 39.3 L277.3 37.8 L277.5 38 L277.6 35.4 L277.7 26.2 L277.9 30.8 L278 25.9 L278.2 32.7 L278.3 28.6 L278.4 35.2 L278.6 33.6 L278.7 20.6 L278.9 38.5 L279 38.6 L279.1 35.6 L279.3 36.1 L279.4 38.9 L279.6 33.7 L279.7 38.9 L279.8 36.1 L280 40.4 L280.1 30.9 L280.3 34.6 L280.4 37.8 L280.5 38.8 L280.7 36.1 L280.8 32.9 L281 30.8 L281.1 32.9 L281.2 31.8 L281.4 35.4 L281.5 35.1 L281.7 33.8 L281.8 30.9 L281.9 34.9 L282.1 41.6 L282.2 39.8 L282.4 31.9 L282.5 36.6 L282.6 33 L282.8 33.9 L282.9 33.2 L283.1 31 L283.2 27.5 L283.3 22.2 L283.5 34.8 L283.6 39.7 L283.8 29.8 L283.9 36.2 L284 31.7 L284.2 34.4 L284.3 29.4 L284.5 32.9 L284.6 33.1 L284.7 22.4 L284.9 34.6 L285 32.6 L285.2 21.4 L285.3 36.4 L285.4 30.4 L285.6 34.7 L285.7 35.3 L285.9 31.5 L286 28.5 L286.1 31.4 L286.3 31.6 L286.4 44.1 L286.6 42.5 L286.7 31.5 L286.8 32.4 L287 36.3 L287.1 37.6 L287.3 31.3 L287.4 29.9 L287.5 43.7 L287.7 39.6 L287.8 27.4 L288 26.5 L288.1 31.1 L288.2 36.1 L288.4 37.4 L288.5 32.8 L288.7 26.9 L288.8 35.5 L288.9 37.9 L289.1 34.9 L289.2 32.8 L289.4 37.6 L289.5 21.3 L289.6 29.8 L289.8 35.4 L289.9 29.2 L290.1 40.1 L290.2 37.7 L290.3 30 L290.5 36 L290.6 40.4 L290.8 23.9 L290.9 33.4 L291 41.6 L291.2 26.4 L291.3 28.3 L291.5 27.2 L291.6 34 L291.7 22.7 L291.9 26.4 L292 31.6 L292.2 34.9 L292.3 32.9 L292.4 44.4 L292.6 40.3 L292.7 37.6 L292.9 37.4 L293 20 L293.1 32.9 L293.3 49 L293.4 44.8 L293.6 48 L293.7 36.8 L293.8 38 L294 31 L294.1 42.5 L294.3 31.4 L294.4 30.8 L294.5 44.1 L294.7 23.8 L294.8 35.1 L295 25.3 L295.1 23.8 L295.2 33.2 L295.4 31.7 L295.5 34.5 L295.7 30.3 L295.8 23.3 L295.9 28.4 L296.1 32.1 L296.2 27.8 L296.4 37.6 L296.5 28.3 L296.6 30.8 L296.8 30.3 L296.9 33.9 L297.1 40.9 L297.2 35.4 L297.3 25.8 L297.5 36.7 L297.6 20.4 L297.8 35.4 L297.9 32.7 L298 28.1 L298.2 35.3 L298.3 33.2 L298.5 44.3 L298.6 32.9 L298.7 44.5 L298.9 41.9 L299 32 L299.2 30.9 L299.3 41.2 L299.4 35.8 L299.6 36 L299.7 33.8 L299.9 29.3 L300 33 L300.1 30.3 L300.3 27.3 L300.4 33.4 L300.6 43.2 L300.7 42.7 L300.8 34.5 L301 29.1 L301.1 36.9 L301.3 41.1 L301.4 49.7 L301.5 31.7 L301.7 29.9 L301.8 39.2 L302 46.4 L302.1 28.4 L302.2 23.3 L302.4 32.7 L302.5 33 L302.7 34.5 L302.8 39.5 L302.9 33.8 L303.1 27.2 L303.2 24 L303.4 35 L303.5 28.2 L303.6 33.7 L303.8 23.3 L303.9 31.3 L304.1 26.1 L304.2 20 L304.3 31.1 L304.5 36.1 L304.6 39.8 L304.8 32.8 L304.9 29.5 L305 43.4 L305.2 35.8 L305.3 36.6 L305.5 36.9 L305.6 40.9 L305.7 38.9 L305.9 37.5 L306 37.9 L306.2 30.3 L306.3 31.7 L306.4 34.5 L306.6 34.9 L306.7 34.4 L306.9 36 L307 34.8 L307.1 32.7 L307.3 26.7 L307.4 38.7 L307.6 37.4 L307.7 30.4 L307.8 37.1 L308 36.4 L308.1 35 L308.3 25.3 L308.4 28.5 L308.5 31.1 L308.7 41.8 L308.8 29.9 L309 31.9 L309.1 28.6 L309.2 31.9 L309.4 36.1 L309.5 24.2 L309.7 20.2 L309.8 37.3 L309.9 34 L310.1 31.4 L310.2 39.4 L310.4 39.4 L310.5 24.5 L310.6 33.8 L310.8 40.3 L310.9 31.7 L311.1 44.2 L311.2 39.6 L311.3 33.3 L311.5 29 L311.6 31.5 L311.8 28.1 L311.9 37.2 L312 25.8 L312.2 38.5 L312.3 25.7 L312.5 34.1 L312.6 26.9 L312.7 33 L312.9 39.2 L313 39.2 L313.2 40.9 L313.3 34 L313.4 35 L313.6 28.9 L313.7 37.5 L313.9 33.1 L314 40.5 L314.1 36.8 L314.3 29.1 L314.4 37.7 L314.6 33.3 L314.7 20.7 L314.8 20.1 L315 29.4 L315.1 34.2 L315.3 35 L315.4 40.4 L315.5 30.6 L315.7 52.6 L315.8 36.1 L316 42.4 L316.1 41.2 L316.2 23.8 L316.4 31.7 L316.5 42.5 L316.7 23.5 L316.8 39 L316.9 30.4 L317.1 32.7 L317.2 36 L317.4 20 L317.5 36.3 L317.6 32.4 L317.8 32.2 L317.9 39 L318.1 53.1 L318.2 36.9 L318.3 38 L318.5 34.8 L318.6 31.5 L318.8 36.2 L318.9 42.7 L319 36 L319.2 28.7 L319.3 37.9 L319.5 46.9 L319.6 26.4 L319.7 37.4 L319.9 37.1 L320 40 L320.2 29 L320.3 28.9 L320.4 33.3 L320.6 34.9 L320.7 28.1 L320.9 29 L321 37 L321.1 33.5 L321.3 30.7 L321.4 30.4 L321.6 29.9 L321.7 41.7 L321.8 36.3 L322 33.8 L322.1 38.9 L322.3 45.4 L322.4 39.9 L322.5 27 L322.7 33.5 L322.8 32.1 L323 32.3 L323.1 28.3 L323.2 32.4 L323.4 28.4 L323.5 35.3 L323.7 34.2 L323.8 27.2 L323.9 25.6 L324.1 32 L324.2 37.2 L324.4 36.7 L324.5 34 L324.6 20 L324.8 31.9 L324.9 30.4 L325.1 32.4 L325.2 27.8 L325.3 31.9 L325.5 30.4 L325.6 41.7 L325.8 36.9 L325.9 32.6 L326 33.7 L326.2 33.5 L326.3 25.6 L326.5 31.8 L326.6 28.4 L326.7 38.7 L326.9 37.9 L327 35.8 L327.2 40.8 L327.3 35.4 L327.4 30.1 L327.6 26.3 L327.7 31.6 L327.9 34.8 L328 37.4 L328.1 40.9 L328.3 32.3 L328.4 31.8 L328.6 39.6 L328.7 41.4 L328.8 33.6 L329 25.7 L329.1 42.6 L329.3 37.6 L329.4 35.6 L329.5 25.7 L329.7 42.3 L329.8 39.3 L330 36.7 L330.1 34.5 L330.2 30.7 L330.4 36.4 L330.5 36.6 L330.7 42.5 L330.8 31.5 L330.9 49.8 L331.1 38.2 L331.2 44 L331.4 33.6 L331.5 39.8 L331.6 44 L331.8 38.6 L331.9 30.4 L332.1 35.9 L332.2 40.2 L332.3 30.5 L332.5 30 L332.6 38.3 L332.8 32.2 L332.9 40 L333 31.1 L333.2 27.8 L333.3 31.9 L333.5 36.7 L333.6 31.2 L333.7 35 L333.9 36.6 L334 31 L334.2 41 L334.3 36.9 L334.4 38.1 L334.6 27.6 L334.7 20 L334.9 22.4 L335 35.2 L335.1 35 L335.3 40.2 L335.4 43.6 L335.6 35.4 L335.7 35.2 L335.8 39.1 L336 43.9 L336.1 32.3 L336.3 39.1 L336.4 34.6 L336.5 34 L336.7 39.7 L336.8 31.7 L337 26.9 L337.1 38.8 L337.2 27.9 L337.4 34.1 L337.5 34.4 L337.7 36.8 L337.8 20 L337.9 38.3 L338.1 36.3 L338.2 41.7 L338.4 44.5 L338.5 38.8 L338.6 20.8 L338.8 35.4 L338.9 32 L339.1 49.4 L339.2 35 L339.3 38.5 L339.5 42.3 L339.6 28.8 L339.8 30.6" stroke="#000" stroke-width="0.55"/>
<path d="M116 231.7 L116.1 230 L116.3 230.1 L116.4 228.4 L116.6 224.7 L116.7 220.8 L116.8 220.2 L117 219.2 L117.1 214.9 L117.3 214.1 L117.4 210.8 L117.5 209.9 L117.7 210 L117.8 205.9 L118 202.4 L118.1 202 L118.2 199.9 L118.4 199.4 L118.5 194.7 L118.7 194 L118.8 193.7 L118.9 190.4 L119.1 195.1 L119.2 187 L119.4 187.2 L119.5 185 L119.6 184.6 L119.8 185 L119.9 183.2 L120.1 182.2 L120.2 180.5 L120.3 178.2 L120.5 177.3 L120.6 173.2 L120.8 173.6 L120.9 172.7 L121 171.3 L121.2 171.6 L121.3 168.9 L121.5 173.9 L121.6 171.8 L121.7 168.3 L121.9 166.5 L122 165.7 L122.2 163.1 L122.3 165.2 L122.4 159 L122.6 160.7 L122.7 158.7 L122.9 157 L123 157 L123.1 153.5 L123.3 155.8 L123.4 154.3 L123.6 154.5 L123.7 152 L123.8 146.9 L124 149.7 L124.1 145.8 L124.3 145.5 L124.4 151.7 L124.5 143.2 L124.7 145.5 L124.8 144.1 L125 147 L125.1 140 L125.2 140.6 L125.4 137.3 L125.5 134.8 L125.7 133.6 L125.8 133.7 L125.9 140.4 L126.1 135.9 L126.2 133.7 L126.4 133.7 L126.5 130.9 L126.6 132.3 L126.8 131 L126.9 132.6 L127.1 132.6 L127.2 122.4 L127.3 128.7 L127.5 132 L127.6 122.6 L127.8 124.4 L127.9 125.1 L128 128.2 L128.2 125.5 L128.3 121.8 L128.5 123.4 L128.6 124.9 L128.7 122.4 L128.9 127.4 L129 121.4 L129.2 115.4 L129.3 116 L129.4 120.9 L129.6 117.3 L129.7 119.9 L129.9 118.9 L130 123.2 L130.1 119.6 L130.3 121.3 L130.4 112.5 L130.6 113 L130.7 125.8 L130.8 113.4 L131 128 L131.1 115.3 L131.3 108.6 L131.4 116.1 L131.5 113.3 L131.7 102.7 L131.8 105.4 L132 106.8 L132.1 108.6 L132.2 95 L132.4 99.6 L132.5 106.9 L132.7 102.4 L132.8 107.3 L132.9 103.7 L133.1 105.9 L133.2 104.6 L133.4 89.8 L133.5 98.9 L133.6 103.6 L133.8 99.9 L133.9 93.5 L134.1 96.5 L134.2 96.1 L134.3 98.7 L134.5 106.8 L134.6 91.6 L134.8 97.8 L134.9 94.8 L135 90.8 L135.2 97.1 L135.3 90.7 L135.5 88.5 L135.6 94.9 L135.7 94.5 L135.9 88.2 L136 94.2 L136.2 94.2 L136.3 88.2 L136.4 97.5 L136.6 77 L136.7 90.2 L136.9 74.2 L137 91.3 L137.1 86.3 L137.3 90.1 L137.4 81.7 L137.6 92.2 L137.7 92.7 L137.8 94.2 L138 77.8 L138.1 89.2 L138.3 87.8 L138.4 75.4 L138.5 84 L138.7 86.1 L138.8 91.4 L139 82.7 L139.1 90.5 L139.2 85.3 L139.4 86.7 L139.5 84.1 L139.7 88.9 L139.8 89.2 L139.9 80.2 L140.1 88.6 L140.2 81.6 L140.4 83.3 L140.5 87.8 L140.6 84.2 L140.8 85.4 L140.9 86.1 L141.1 91.9 L141.2 81.1 L141.3 79.5 L141.5 85.6 L141.6 85.9 L141.8 84.2 L141.9 81.5 L142 84.8 L142.2 81.5 L142.3 76.2 L142.5 82.3 L142.6 82.7 L142.7 83.3 L142.9 76.9 L143 77.3 L143.2 81 L143.3 78 L143.4 78.8 L143.6 82.2 L143.7 80.2 L143.9 85.5 L144 79.5 L144.1 84.5 L144.3 81.9 L144.4 87.1 L144.6 77.8 L144.7 77.2 L144.8 82.1 L145 75.2 L145.1 74.9 L145.3 77.3 L145.4 77.8 L145.5 71.3 L145.7 67.4 L145.8 75.3 L146 76.4 L146.1 76.7 L146.2 75.1 L146.4 79.8 L146.5 77 L146.7 74.5 L146.8 75.4 L146.9 85.7 L147.1 77.8 L147.2 79.2 L147.4 74 L147.5 74.9 L147.6 81.8 L147.8 74.1 L147.9 82.2 L148.1 76 L148.2 70.6 L148.3 66.9 L148.5 74.2 L148.6 61.4 L148.8 68.5 L148.9 64.7 L149 75.2 L149.2 70.7 L149.3 70.6 L149.5 72.2 L149.6 71.2 L149.7 74.2 L149.9 76.3 L150 68.9 L150.2 60.1 L150.3 71.8 L150.4 70.1 L150.6 68.2 L150.7 74.1 L150.9 65 L151 57.5 L151.1 73.8 L151.3 88.7 L151.4 61.4 L151.6 65.9 L151.7 69.6 L151.8 62.8 L152 71.1 L152.1 75.1 L152.3 72.3 L152.4 67.5 L152.5 69.1 L152.7 64.4 L152.8 68.1 L153 66.2 L153.1 63.7 L153.2 62.2 L153.4 73.8 L153.5 66.9 L153.7 74.1 L153.8 65.6 L153.9 76.4 L154.1 73.5 L154.2 65.4 L154.4 68.3 L154.5 70.9 L154.6 66.3 L154.8 62.9 L154.9 63.6 L155.1 67.4 L155.2 64.2 L155.3 62.2 L155.5 65.9 L155.6 69.5 L155.8 68.4 L155.9 65 L156 72.4 L156.2 62.7 L156.3 65.5 L156.5 60.9 L156.6 68.8 L156.7 64.9 L156.9 59.3 L157 62.6 L157.2 72.8 L157.3 68.7 L157.4 66.2 L157.6 66.9 L157.7 59.8 L157.9 62.5 L158 60.4 L158.1 62.2 L158.3 63.5 L158.4 66.8 L158.6 68.3 L158.7 68.1 L158.8 74.4 L159 62.5 L159.1 64.1 L159.3 66.3 L159.4 68.1 L159.5 63.3 L159.7 65.6 L159.8 64.1 L160 66.2 L160.1 68.6 L160.2 60.3 L160.4 61.3 L160.5 65.2 L160.7 61 L160.8 65.6 L160.9 63.4 L161.1 66.3 L161.2 69 L161.4 65 L161.5 63.4 L161.6 60.7 L161.8 55.8 L161.9 57.5 L162.1 62.8 L162.2 67.4 L162.3 62.8 L162.5 62.9 L162.6 59.7 L162.8 59.8 L162.9 59 L163 67.2 L163.2 57.9 L163.3 67.6 L163.5 61.4 L163.6 66.7 L163.7 65.8 L163.9 67.8 L164 69.7 L164.2 61.9 L164.3 60.8 L164.4 62.6 L164.6 61.6 L164.7 67.1 L164.9 64.4 L165 64.6 L165.1 66.3 L165.3 63.3 L165.4 68.4 L165.6 58.1 L165.7 65.7 L165.8 66.4 L166 61.8 L166.1 61 L166.3 67.8 L166.4 62.8 L166.5 56.6 L166.7 58.6 L166.8 67.1 L167 53.9 L167.1 68.1 L167.2 73.6 L167.4 63.2 L167.5 65.9 L167.7 61.1 L167.8 62.3 L167.9 61.1 L168.1 66.2 L168.2 59 L168.4 63.2 L168.5 63.3 L168.6 65 L168.8 48 L168.9 50.1 L169.1 59.3 L169.2 61.8 L169.3 63.4 L169.5 63.6 L169.6 70.2 L169.8 65.3 L169.9 64.7 L170 61.3 L170.2 69.4 L170.3 65.6 L170.5 65.5 L170.6 62.1 L170.7 64.6 L170.9 68.2 L171 59.5 L171.2 46 L171.3 65.1 L171.4 64.7 L171.6 60.4 L171.7 60.1 L171.9 64.4 L172 59.4 L172.1 56.8 L172.3 59.3 L172.4 63 L172.6 59.1 L172.7 60 L172.8 62.7 L173 60.1 L173.1 62.2 L173.3 61.1 L173.4 57 L173.5 60.7 L173.7 56.7 L173.8 64.2 L174 57.2 L174.1 59.6 L174.2 53.6 L174.4 58.5 L174.5 55.8 L174.7 65.8 L174.8 60.2 L174.9 62.1 L175.1 53.8 L175.2 55.6 L175.4 59.4 L175.5 55 L175.6 63.9 L175.8 58.3 L175.9 60.3 L176.1 64.1 L176.2 59.4 L176.3 62.7 L176.5 57.2 L176.6 61.2 L176.8 63.8 L176.9 59.8 L177 59.7 L177.2 57.8 L177.3 58.9 L177.5 61.4 L177.6 58.1 L177.7 53 L177.9 59.7 L178 58.4 L178.2 60.6 L178.3 58.8 L178.4 64.1 L178.6 53.8 L178.7 55.2 L178.9 60.2 L179 59.3 L179.1 58.9 L179.3 57.7 L179.4 51.1 L179.6 60.1 L179.7 62.5 L179.8 58.1 L180 52.3 L180.1 60.1 L180.3 54 L180.4 57 L180.5 58.7 L180.7 59.7 L180.8 50.7 L181 56.2 L181.1 59.7 L181.2 53.2 L181.4 53.3 L181.5 58.9 L181.7 55.9 L181.8 54.7 L181.9 53.7 L182.1 56.3 L182.2 56.1 L182.4 55.1 L182.5 50.5 L182.6 54.3 L182.8 53.8 L182.9 56.3 L183.1 60.5 L183.2 61.7 L183.3 68.8 L183.5 56.4 L183.6 54.7 L183.8 56.8 L183.9 53.7 L184 54.3 L184.2 52.8 L184.3 55.2 L184.5 55.1 L184.6 60.5 L184.7 59.1 L184.9 52.7 L185 57.9 L185.2 53.3 L185.3 58.4 L185.4 57.8 L185.6 65.2 L185.7 50.9 L185.9 54.8 L186 54.8 L186.1 59.9 L186.3 57.8 L186.4 55.2 L186.6 52.9 L186.7 57 L186.8 59.6 L187 52.6 L187.1 51 L187.3 60.8 L187.4 59.6 L187.5 60.3 L187.7 52.6 L187.8 55.9 L188 57.6 L188.1 58.5 L188.2 56.6 L188.4 62.7 L188.5 60.9 L188.7 55.5 L188.8 54.7 L188.9 55.2 L189.1 55 L189.2 57.5 L189.4 56.3 L189.5 55.6 L189.6 62.6 L189.8 58.8 L189.9 56.4 L190.1 62.3 L190.2 56.1 L190.3 58.4 L190.5 57.7 L190.6 56.1 L190.8 56.8 L190.9 58.6 L191 53.1 L191.2 65.9 L191.3 58.9 L191.5 59.1 L191.6 59.3 L191.7 66.5 L191.9 60.4 L192 57.8 L192.2 57.7 L192.3 58.5 L192.4 60 L192.6 56.9 L192.7 63 L192.9 53.3 L193 59.8 L193.1 58.8 L193.3 53.2 L193.4 59.4 L193.6 59 L193.7 54.7 L193.8 65.1 L194 59.1 L194.1 55.7 L194.3 55 L194.4 54.1 L194.5 49.1 L194.7 57.3 L194.8 52.2 L195 53.4 L195.1 54.5 L195.2 55.7 L195.4 55.8 L195.5 54.3 L195.7 58.6 L195.8 54.3 L195.9 56.1 L196.1 48.2 L196.2 55 L196.4 58.1 L196.5 55.8 L196.6 57.4 L196.8 56.4 L196.9 51 L197.1 47.3 L197.2 58.4 L197.3 61.2 L197.5 57.6 L197.6 54.8 L197.8 55.5 L197.9 60.2 L198 51.1 L198.2 54.8 L198.3 51.2 L198.5 55.3 L198.6 56.7 L198.7 57.4 L198.9 55.4 L199 50.5 L199.2 56.2 L199.3 58.6 L199.4 59.1 L199.6 64.6 L199.7 58 L199.9 52.4 L200 53.9 L200.1 55.7 L200.3 59.3 L200.4 49.1 L200.6 58.2 L200.7 57.2 L200.8 52.1 L201 56.9 L201.1 53.9 L201.3 54.5 L201.4 53.6 L201.5 56 L201.7 51.2 L201.8 57 L202 47.5 L202.1 53.8 L202.2 53.1 L202.4 60.3 L202.5 56.2 L202.7 53 L202.8 51.4 L202.9 54.7 L203.1 61.8 L203.2 62.6 L203.4 45.3 L203.5 55.2 L203.6 46.6 L203.8 59 L203.9 52.7 L204.1 61.1 L204.2 52.7 L204.3 59.1 L204.5 55.8 L204.6 59.3 L204.8 55.6 L204.9 44.6 L205 52.3 L205.2 49.1 L205.3 57.8 L205.5 56.4 L205.6 54.4 L205.7 56.1 L205.9 55.3 L206 53.2 L206.2 65.5 L206.3 55.5 L206.4 54.2 L206.6 49.7 L206.7 52.4 L206.9 58.5 L207 53.8 L207.1 52.9 L207.3 54.4 L207.4 50.2 L207.6 54 L207.7 48.8 L207.8 51.2 L208 55.1 L208.1 57.5 L208.3 56.3 L208.4 55 L208.5 50.4 L208.7 53.1 L208.8 57 L209 58.4 L209.1 48.5 L209.2 52.2 L209.4 53.7 L209.5 54.2 L209.7 53.2 L209.8 55.8 L209.9 50.6 L210.1 59.2 L210.2 50.1 L210.4 54.7 L210.5 56.3 L210.6 58.1 L210.8 57.7 L210.9 57.8 L211.1 59.3 L211.2 54.3 L211.3 57.3 L211.5 59.9 L211.6 51.7 L211.8 49.3 L211.9 50 L212 59 L212.2 58.8 L212.3 53.4 L212.5 59.9 L212.6 56.3 L212.7 58.6 L212.9 48.6 L213 53 L213.2 54.2 L213.3 64.5 L213.4 55.5 L213.6 53.7 L213.7 56 L213.9 45.7 L214 65.7 L214.1 58 L214.3 58.2 L214.4 52.6 L214.6 56.4 L214.7 62.1 L214.8 61.6 L215 55.7 L215.1 53.5 L215.3 56.1 L215.4 54.7 L215.5 58.7 L215.7 51.1 L215.8 55.9 L216 56.3 L216.1 60.1 L216.2 60.8 L216.4 50.5 L216.5 50.3 L216.7 53.2 L216.8 57.1 L216.9 53.3 L217.1 52.2 L217.2 50.5 L217.4 55 L217.5 55.4 L217.6 54.8 L217.8 53.5 L217.9 44.2 L218.1 54.6 L218.2 50.7 L218.3 51.9 L218.5 52.1 L218.6 54.7 L218.8 54.7 L218.9 50.5 L219 52.3 L219.2 54.6 L219.3 57.3 L219.5 54.5 L219.6 60.4 L219.7 53.5 L219.9 56.1 L220 52.2 L220.2 50.1 L220.3 54.2 L220.4 55.8 L220.6 55.2 L220.7 54.5 L220.9 52.6 L221 51 L221.1 52.9 L221.3 55.8 L221.4 57.5 L221.6 42.3 L221.7 56.4 L221.8 58.4 L222 59.2 L222.1 68.5 L222.3 69.9 L222.4 52.9 L222.5 54.3 L222.7 56.5 L222.8 50.5 L223 51.6 L223.1 55 L223.2 49.6 L223.4 54.4 L223.5 36.6 L223.7 55.7 L223.8 54.5 L223.9 52.4 L224.1 51.3 L224.2 52.9 L224.4 46.6 L224.5 59.2 L224.6 61.6 L224.8 58.6 L224.9 52.9 L225.1 53.8 L225.2 59.7 L225.3 60.6 L225.5 52.6 L225.6 57.8 L225.8 58.1 L225.9 55.1 L226 49.3 L226.2 49.6 L226.3 54.8 L226.5 61.1 L226.6 52.6 L226.7 58.9 L226.9 59.7 L227 48.4 L227.2 50.3 L227.3 57.9 L227.4 55.8 L227.6 40 L227.7 52.1 L227.9 54.1 L228 49.6 L228.1 60.4 L228.3 47.6 L228.4 44.9 L228.6 51.7 L228.7 56.7 L228.8 49.9 L229 58.7 L229.1 48.1 L229.3 52.1 L229.4 48.9 L229.5 48.8 L229.7 46.8 L229.8 49.8 L230 58.2 L230.1 51.1 L230.2 52 L230.4 59.4 L230.5 49.2 L230.7 48.2 L230.8 53.4 L230.9 46.6 L231.1 51.7 L231.2 54.8 L231.4 46.9 L231.5 48.8 L231.6 56 L231.8 46.6 L231.9 37.1 L232.1 50.9 L232.2 48.7 L232.3 46.9 L232.5 54.8 L232.6 46.9 L232.8 50.5 L232.9 47.9 L233 48.4 L233.2 44.2 L233.3 52.5 L233.5 47.5 L233.6 53.5 L233.7 45.1 L233.9 47.5 L234 51.4 L234.2 49.9 L234.3 47.6 L234.4 49.5 L234.6 44.9 L234.7 58.2 L234.9 40.1 L235 50 L235.1 53.8 L235.3 52 L235.4 51.5 L235.6 47.2 L235.7 50.9 L235.8 48.1 L236 49.4 L236.1 49.6 L236.3 37.7 L236.4 68.7 L236.5 50.9 L236.7 52.7 L236.8 46.7 L237 52.5 L237.1 51.6 L237.2 41.9 L237.4 44 L237.5 50.9 L237.7 48.3 L237.8 51.4 L237.9 48.6 L238.1 56.3 L238.2 44 L238.4 46.2 L238.5 47.9 L238.6 46.5 L238.8 49.2 L238.9 51.4 L239.1 41.5 L239.2 52.8 L239.3 56.3 L239.5 62 L239.6 58.6 L239.8 55.5 L239.9 51.1 L240 57.7 L240.2 53.7 L240.3 51.9 L240.5 50.8 L240.6 44 L240.7 47.2 L240.9 52 L241 53.5 L241.2 51.1 L241.3 55.1 L241.4 47.2 L241.6 48.2 L241.7 54.1 L241.9 50.9 L242 60.6 L242.1 55.3 L242.3 54.3 L242.4 47.7 L242.6 51.1 L242.7 44.5 L242.8 50.8 L243 52.5 L243.1 45.1 L243.3 56.9 L243.4 58.4 L243.5 52.9 L243.7 54.3 L243.8 56.7 L244 50.9 L244.1 55.3 L244.2 52.9 L244.4 45.9 L244.5 48.2 L244.7 49.5 L244.8 55.3 L244.9 51.7 L245.1 54.8 L245.2 49.8 L245.4 46.6 L245.5 58.9 L245.6 61.1 L245.8 43.2 L245.9 50.9 L246.1 55.9 L246.2 47.4 L246.3 50.6 L246.5 46.4 L246.6 53.1 L246.8 52.4 L246.9 50.1 L247 49.2 L247.2 46.5 L247.3 49.1 L247.5 56.9 L247.6 51.1 L247.7 56.8 L247.9 49.5 L248 52.1 L248.2 50.5 L248.3 51.3 L248.4 55 L248.6 44.8 L248.7 54.5 L248.9 62.6 L249 60.8 L249.1 51.8 L249.3 50.5 L249.4 54 L249.6 51.7 L249.7 48.3 L249.8 52.5 L250 55 L250.1 53.1 L250.3 54.9 L250.4 59.6 L250.5 49.4 L250.7 43.8 L250.8 44.7 L251 50.9 L251.1 55.1 L251.2 50.6 L251.4 48.4 L251.5 66.3 L251.7 52.1 L251.8 52 L251.9 53.1 L252.1 54.3 L252.2 51.6 L252.4 48.8 L252.5 58.4 L252.6 52.2 L252.8 49.1 L252.9 52.4 L253.1 56.1 L253.2 47.1 L253.3 56.7 L253.5 51.6 L253.6 58.9 L253.8 54.1 L253.9 51.6 L254 56.8 L254.2 56.7 L254.3 51.1 L254.5 53.2 L254.6 50.6 L254.7 61.2 L254.9 47.8 L255 51.7 L255.2 45.1 L255.3 54.6 L255.4 44.7 L255.6 48.7 L255.7 53.7 L255.9 51.5 L256 50.9 L256.1 48.7 L256.3 51 L256.4 46.5 L256.6 53.9 L256.7 55.2 L256.8 54.6 L257 51.4 L257.1 56 L257.3 53.7 L257.4 55.3 L257.5 53.8 L257.7 56.2 L257.8 49.6 L258 42.9 L258.1 54.5 L258.2 51.6 L258.4 58.5 L258.5 44.7 L258.7 54.9 L258.8 48.8 L258.9 52.1 L259.1 48.8 L259.2 52.7 L259.4 51.7 L259.5 55 L259.6 67.9 L259.8 54.5 L259.9 56 L260.1 53.5 L260.2 54.3 L260.3 56.4 L260.5 61.3 L260.6 53.1 L260.8 50.5 L260.9 49.6 L261 41.6 L261.2 54.8 L261.3 48.5 L261.5 55 L261.6 58.4 L261.7 47.1 L261.9 55.4 L262 52.2 L262.2 53.7 L262.3 41.5 L262.4 52.5 L262.6 53.1 L262.7 57.9 L262.9 60.9 L263 54.3 L263.1 51.5 L263.3 60.6 L263.4 52 L263.6 52.5 L263.7 53 L263.8 53.9 L264 55 L264.1 50.3 L264.3 63.7 L264.4 59.1 L264.5 57.8 L264.7 53.9 L264.8 53.5 L265 51.7 L265.1 56.7 L265.2 50.9 L265.4 53.5 L265.5 51.6 L265.7 51.2 L265.8 62.8 L265.9 53.3 L266.1 51.1 L266.2 53.3 L266.4 53.6 L266.5 51.4 L266.6 50.8 L266.8 52.2 L266.9 55 L267.1 56 L267.2 52.3 L267.3 50.9 L267.5 51.7 L267.6 58.6 L267.8 54.3 L267.9 48 L268 51.5 L268.2 49.6 L268.3 50 L268.5 45 L268.6 46.8 L268.7 46 L268.9 48.5 L269 56 L269.2 54.2 L269.3 47.8 L269.4 46.9 L269.6 47.8 L269.7 44.3 L269.9 50.5 L270 50.1 L270.1 47.4 L270.3 54 L270.4 50.8 L270.6 48.9 L270.7 56.7 L270.8 52.8 L271 50.4 L271.1 56.5 L271.3 54.1 L271.4 47.2 L271.5 50.3 L271.7 39.9 L271.8 63.2 L272 56.5 L272.1 64 L272.2 45.3 L272.4 51.6 L272.5 42.7 L272.7 58.5 L272.8 49.9 L272.9 48.9 L273.1 54.9 L273.2 50.3 L273.4 49.3 L273.5 53.7 L273.6 49.7 L273.8 32.3 L273.9 50.5 L274.1 53.8 L274.2 52.8 L274.3 53.6 L274.5 51.5 L274.6 57.8 L274.8 50.3 L274.9 57 L275 41 L275.2 68.3 L275.3 50.7 L275.5 55.1 L275.6 49.8 L275.7 52.6 L275.9 46 L276 49.9 L276.2 52.4 L276.3 51.5 L276.4 46 L276.6 59.6 L276.7 48.8 L276.9 58.9 L277 51.4 L277.1 60.4 L277.3 54.9 L277.4 54.7 L277.6 51.2 L277.7 52.3 L277.8 54.2 L278 45.6 L278.1 56.1 L278.3 48.3 L278.4 51.7 L278.5 43 L278.7 54.6 L278.8 45.2 L279 53.7 L279.1 53.8 L279.2 37 L279.4 52.8 L279.5 56.5 L279.7 50.7 L279.8 54.2 L279.9 55.1 L280.1 51.3 L280.2 53 L280.4 52.5 L280.5 57.4 L280.6 61.1 L280.8 51 L280.9 59 L281.1 56.4 L281.2 45.4 L281.3 54 L281.5 56.7 L281.6 56 L281.8 49.4 L281.9 61.9 L282 48 L282.2 48.4 L282.3 51 L282.5 52.3 L282.6 62.1 L282.7 53.4 L282.9 55.8 L283 47.9 L283.2 48 L283.3 47.3 L283.4 57.8 L283.6 47.1 L283.7 45.9 L283.9 51.2 L284 55.6 L284.1 45.4 L284.3 50.5 L284.4 55.9 L284.6 56.1 L284.7 53.3 L284.8 64 L285 51 L285.1 50.4 L285.3 51.7 L285.4 49.3 L285.5 48.7 L285.7 51.7 L285.8 52.1 L286 49.3 L286.1 55.4 L286.2 44.9 L286.4 54.1 L286.5 53.9 L286.7 56.1 L286.8 50.7 L286.9 45.9 L287.1 47.7 L287.2 54.8 L287.4 49.6 L287.5 49 L287.6 48.4 L287.8 50.3 L287.9 49.6 L288.1 44.9 L288.2 47.8 L288.3 53.6 L288.5 55.1 L288.6 40.2 L288.8 47.9 L288.9 54.2 L289 48.9 L289.2 45.3 L289.3 49.2 L289.5 52 L289.6 55.1 L289.7 48.1 L289.9 51.8 L290 49 L290.2 52.4 L290.3 53.4 L290.4 51.4 L290.6 46.9 L290.7 49.4 L290.9 49.1 L291 37.5 L291.1 53.7 L291.3 61.5 L291.4 48.9 L291.6 47.9 L291.7 49.1 L291.8 49.8 L292 44.5 L292.1 49.6 L292.3 55.7 L292.4 49.5 L292.5 44.3 L292.7 48.9 L292.8 44.8 L293 59.8 L293.1 54.2 L293.2 52.9 L293.4 48.9 L293.5 48.4 L293.7 48 L293.8 51.5 L293.9 48.1 L294.1 48.8 L294.2 41.8 L294.4 47.7 L294.5 47.6 L294.6 48.7 L294.8 55.1 L294.9 45.7 L295.1 46.2 L295.2 52.7 L295.3 47 L295.5 50 L295.6 50.9 L295.8 50.3 L295.9 47.5 L296 53.3 L296.2 55.5 L296.3 46.4 L296.5 48.9 L296.6 53.2 L296.7 49 L296.9 46.3 L297 48.4 L297.2 53 L297.3 46.4 L297.4 51.4 L297.6 51.9 L297.7 48.2 L297.9 52.6 L298 52.6 L298.1 54 L298.3 53.4 L298.4 44.5 L298.6 52.9 L298.7 51.8 L298.8 53.4 L299 46.8 L299.1 52.9 L299.3 50.9 L299.4 45.1 L299.5 54.3 L299.7 47 L299.8 48.4 L300 50.9 L300.1 53.6 L300.2 50.8 L300.4 48.9 L300.5 50.7 L300.7 52.8 L300.8 49.4 L300.9 52.1 L301.1 52.3 L301.2 45.9 L301.4 52 L301.5 51.6 L301.6 50.6 L301.8 53.9 L301.9 56.1 L302.1 53 L302.2 44.9 L302.3 57.3 L302.5 49.7 L302.6 49.2 L302.8 51.3 L302.9 48.9 L303 55.8 L303.2 51.5 L303.3 50.5 L303.5 53.2 L303.6 53.2 L303.7 54.4 L303.9 53 L304 50.1 L304.2 50.8 L304.3 42.7 L304.4 45.3 L304.6 54 L304.7 49.1 L304.9 57 L305 57.1 L305.1 38.1 L305.3 51.6 L305.4 60.7 L305.6 47.5 L305.7 51.8 L305.8 49.6 L306 49.6 L306.1 51.7 L306.3 50.5 L306.4 63.5 L306.5 47.5 L306.7 52.6 L306.8 48.6 L307 53.3 L307.1 60.9 L307.2 48.7 L307.4 51.2 L307.5 47.6 L307.7 47.3 L307.8 54.5 L307.9 43.7 L308.1 52.3 L308.2 53.3 L308.4 48.3 L308.5 54.4 L308.6 53.8 L308.8 45.7 L308.9 52.7 L309.1 52.3 L309.2 48.2 L309.3 53 L309.5 53.7 L309.6 48.6 L309.8 44.1 L309.9 52.8 L310 48.5 L310.2 44.9 L310.3 49.9 L310.5 50.1 L310.6 50 L310.7 56.4 L310.9 40.7 L311 52.7 L311.2 45.2 L311.3 49.3 L311.4 47.2 L311.6 52.5 L311.7 50.3 L311.9 48 L312 45.7 L312.1 48.3 L312.3 54.1 L312.4 45.9 L312.6 51.6 L312.7 51.3 L312.8 48.1 L313 54 L313.1 50.3 L313.3 58.7 L313.4 57.1 L313.5 49.7 L313.7 27.2 L313.8 46.5 L314 48.9 L314.1 52.7 L314.2 49.2 L314.4 48.3 L314.5 49.1 L314.7 51.1 L314.8 52.8 L314.9 49.2 L315.1 48 L315.2 48.9 L315.4 56.1 L315.5 40.7 L315.6 43.9 L315.8 50 L315.9 48.8 L316.1 52.9 L316.2 53.4 L316.3 55.9 L316.5 45.9 L316.6 51.1 L316.8 49 L316.9 52.7 L317 50 L317.2 52.8 L317.3 47.3 L317.5 51.1 L317.6 48.7 L317.7 49.6 L317.9 49.1 L318 47.4 L318.2 55.3 L318.3 52 L318.4 55 L318.6 47.7 L318.7 44.2 L318.9 49 L319 54.9 L319.1 54.7 L319.3 55.5 L319.4 56.3 L319.6 58.8 L319.7 54.4 L319.8 52.6 L320 49.2 L320.1 54.2 L320.3 50.2 L320.4 49.2 L320.5 53.9 L320.7 52.6 L320.8 60.2 L321 49.4 L321.1 56.5 L321.2 53.2 L321.4 51.5 L321.5 49.4 L321.7 47.9 L321.8 46.6 L321.9 61.1 L322.1 46.2 L322.2 53.5 L322.4 50.1 L322.5 48.9 L322.6 49.1 L322.8 41.6 L322.9 53.9 L323.1 52.7 L323.2 50.3 L323.3 45.3 L323.5 44 L323.6 58 L323.8 46.6 L323.9 44 L324 53.6 L324.2 44.1 L324.3 52 L324.5 57.7 L324.6 49.9 L324.7 52.5 L324.9 43.5 L325 43.5 L325.2 47.1 L325.3 47.8 L325.4 51.1 L325.6 49.4 L325.7 44.5 L325.9 39.8 L326 49.4 L326.1 47.2 L326.3 50.8 L326.4 65.3 L326.6 48.3 L326.7 50.1 L326.8 45 L327 51.4 L327.1 50 L327.3 49.5 L327.4 52.1 L327.5 44.7 L327.7 50.9 L327.8 50.7 L328 54.8 L328.1 42.5 L328.2 49 L328.4 57.3 L328.5 47.7 L328.7 47.8 L328.8 56.3 L328.9 58.7 L329.1 50.1 L329.2 46.9 L329.4 46.7 L329.5 58.4 L329.6 45.7 L329.8 46.3 L329.9 50.4 L330.1 49.7 L330.2 51.3 L330.3 49.7 L330.5 45.4 L330.6 52.2 L330.8 50.5 L330.9 51.4 L331 49.1 L331.2 58.2 L331.3 50.8 L331.5 50.1 L331.6 53.6 L331.7 54.4 L331.9 49.4 L332 54 L332.2 46.2 L332.3 49.9 L332.4 51.8 L332.6 53.3 L332.7 52 L332.9 49.5 L333 47 L333.1 50.3 L333.3 45.7 L333.4 50.1 L333.6 49.9 L333.7 46.4 L333.8 50.7 L334 48.3 L334.1 51.6 L334.3 50.3 L334.4 53.6 L334.5 54.9 L334.7 67.2 L334.8 51.9 L335 61 L335.1 47.9 L335.2 42.8 L335.4 49.3 L335.5 45.9 L335.7 58.6 L335.8 42.3 L335.9 46.5 L336.1 50.3 L336.2 50.9 L336.4 43.6 L336.5 47.9 L336.6 58.8 L336.8 51.9 L336.9 49.4 L337.1 39.1 L337.2 45.6 L337.3 50.9 L337.5 49.7 L337.6 50.6 L337.8 52.7 L337.9 49.7 L338 52.5 L338.2 42.6 L338.3 58.2 L338.5 48.4 L338.6 46.9 L338.7 53.5 L338.9 61.2 L339 52.6 L339.2 46.5 L339.3 49.9 L339.4 51.4 L339.6 44.6 L339.7 48.3" stroke="#19ef19" stroke-width="0.55"/>
<path d="M119.3 230.6 L119.4 227.9 L119.6 232 L119.7 227.4 L119.9 226.2 L120 224.6 L120.1 223.3 L120.3 222.5 L120.4 225.6 L120.6 216.2 L120.7 216.5 L120.8 214.5 L121 216.7 L121.1 211.8 L121.3 208 L121.4 209.3 L121.5 206.5 L121.7 205 L121.8 208.1 L122 201.2 L122.1 198.6 L122.2 203.8 L122.4 198.8 L122.5 196.4 L122.7 199.3 L122.8 198.4 L122.9 190.3 L123.1 193.3 L123.2 193.6 L123.4 190.7 L123.5 193 L123.6 188.2 L123.8 188.3 L123.9 188.2 L124.1 189.9 L124.2 186.8 L124.3 184.5 L124.5 184.3 L124.6 180.4 L124.8 186.8 L124.9 181.4 L125 180.7 L125.2 180.7 L125.3 180.2 L125.5 179 L125.6 176.3 L125.7 173.7 L125.9 175.3 L126 173.4 L126.2 172.8 L126.3 172.9 L126.4 172.4 L126.6 173.2 L126.7 169.6 L126.9 165.8 L127 169.1 L127.1 168.9 L127.3 162.8 L127.4 166.7 L127.6 164.9 L127.7 162.3 L127.8 162.9 L128 162.7 L128.1 162.4 L128.3 162.8 L128.4 159 L128.5 158.1 L128.7 164 L128.8 153.2 L129 154.7 L129.1 153.6 L129.2 156.2 L129.4 156.2 L129.5 147.6 L129.7 155.3 L129.8 146.6 L129.9 161 L130.1 146.9 L130.2 152.5 L130.4 146.8 L130.5 149.6 L130.6 143.8 L130.8 146.4 L130.9 145.3 L131.1 144.9 L131.2 147.2 L131.3 147.1 L131.5 140.8 L131.6 135.7 L131.8 139.8 L131.9 138.2 L132 143.4 L132.2 141.8 L132.3 135.5 L132.5 140.2 L132.6 143.9 L132.7 136.7 L132.9 131.6 L133 147.6 L133.2 138.7 L133.3 138.6 L133.4 146 L133.6 130.3 L133.7 131.9 L133.9 123.4 L134 134.2 L134.1 133.5 L134.3 127.2 L134.4 126.4 L134.6 129.4 L134.7 128.6 L134.8 136.8 L135 127.2 L135.1 127.1 L135.3 127 L135.4 119.5 L135.5 124.5 L135.7 121.8 L135.8 127 L136 114.9 L136.1 113 L136.2 126 L136.4 113.7 L136.5 116 L136.7 128.4 L136.8 116.6 L136.9 122.9 L137.1 124.1 L137.2 117.3 L137.4 114.1 L137.5 130 L137.6 124.3 L137.8 124 L137.9 117.6 L138.1 122.9 L138.2 114.2 L138.3 113.8 L138.5 115 L138.6 116.9 L138.8 125.5 L138.9 118.1 L139 121.1 L139.2 102 L139.3 123.9 L139.5 115.7 L139.6 122.4 L139.7 133.4 L139.9 121 L140 108.6 L140.2 127.1 L140.3 109.4 L140.4 122.1 L140.6 118.1 L140.7 119.6 L140.9 112.6 L141 122.1 L141.1 120.7 L141.3 114.2 L141.4 113.8 L141.6 120.9 L141.7 121.7 L141.8 120.1 L142 114.5 L142.1 116.7 L142.3 121.4 L142.4 113.9 L142.5 122.1 L142.7 116.9 L142.8 112.8 L143 117.3 L143.1 117.9 L143.2 112.9 L143.4 117.6 L143.5 129.8 L143.7 116.2 L143.8 111.7 L143.9 125.3 L144.1 120.5 L144.2 115.3 L144.4 107.3 L144.5 107.8 L144.6 117.3 L144.8 112.9 L144.9 122.6 L145.1 105.7 L145.2 105.6 L145.3 114.1 L145.5 113.6 L145.6 106.6 L145.8 108.9 L145.9 116.5 L146 110.3 L146.2 115.4 L146.3 120.6 L146.5 113.4 L146.6 112.1 L146.7 108.8 L146.9 117.8 L147 104.3 L147.2 105.8 L147.3 103.5 L147.4 103.5 L147.6 115.4 L147.7 107.4 L147.9 113 L148 100.4 L148.1 108.6 L148.3 110 L148.4 100 L148.6 107 L148.7 107.3 L148.8 119.2 L149 113.8 L149.1 112.9 L149.3 103.9 L149.4 113.6 L149.5 115.3 L149.7 113 L149.8 122.5 L150 102.4 L150.1 103.9 L150.2 107.8 L150.4 96.4 L150.5 109.2 L150.7 111.4 L150.8 108.8 L150.9 109.3 L151.1 119.3 L151.2 112.4 L151.4 105.2 L151.5 104.9 L151.6 114.5 L151.8 108.9 L151.9 104.5 L152.1 109.9 L152.2 106.7 L152.3 109.2 L152.5 108.5 L152.6 111.7 L152.8 112.8 L152.9 104 L153 102.6 L153.2 108.9 L153.3 106 L153.5 101.7 L153.6 99.8 L153.7 109.2 L153.9 105.7 L154 100 L154.2 104.2 L154.3 103.5 L154.4 113.4 L154.6 109.5 L154.7 108.3 L154.9 102 L155 107.5 L155.1 111.8 L155.3 109.4 L155.4 113.7 L155.6 108.5 L155.7 111.5 L155.8 110 L156 103.6 L156.1 114.7 L156.3 110 L156.4 111 L156.5 102.6 L156.7 102.5 L156.8 107.1 L157 103.6 L157.1 110.7 L157.2 109.4 L157.4 113.5 L157.5 109.8 L157.7 100.7 L157.8 110.6 L157.9 102.4 L158.1 102 L158.2 105.8 L158.4 89.5 L158.5 110.5 L158.6 119.8 L158.8 107.7 L158.9 112.3 L159.1 103.8 L159.2 106.2 L159.3 101.9 L159.5 102.4 L159.6 111.2 L159.8 106.7 L159.9 106.2 L160 100.1 L160.2 112.5 L160.3 103.4 L160.5 100.9 L160.6 97.9 L160.7 106.8 L160.9 107.1 L161 117.8 L161.2 97.2 L161.3 100.1 L161.4 109.9 L161.6 113 L161.7 98.7 L161.9 101.1 L162 93.5 L162.1 96.6 L162.3 96 L162.4 99.9 L162.6 93.7 L162.7 103.9 L162.8 98.9 L163 97.8 L163.1 103.5 L163.3 97.3 L163.4 92.6 L163.5 95.3 L163.7 109.8 L163.8 99.4 L164 101.1 L164.1 97.3 L164.2 97.1 L164.4 100.4 L164.5 84.1 L164.7 90.6 L164.8 93.7 L164.9 95 L165.1 103.4 L165.2 108.2 L165.4 98.8 L165.5 96.4 L165.6 98.9 L165.8 103 L165.9 97.5 L166.1 92.5 L166.2 95.1 L166.3 95.8 L166.5 85 L166.6 96.7 L166.8 86.6 L166.9 98.4 L167 98.2 L167.2 83.4 L167.3 97.1 L167.5 95.1 L167.6 91.3 L167.7 102.4 L167.9 104.3 L168 96.5 L168.2 88.6 L168.3 86.7 L168.4 88.6 L168.6 89.3 L168.7 99.9 L168.9 92.2 L169 93.9 L169.1 98.3 L169.3 94 L169.4 94.1 L169.6 89.4 L169.7 90.2 L169.8 93.5 L170 87.6 L170.1 101.6 L170.3 94 L170.4 90.5 L170.5 98.4 L170.7 88.5 L170.8 99.2 L171 94.1 L171.1 103.1 L171.2 91.2 L171.4 91.7 L171.5 89.6 L171.7 87.8 L171.8 95.5 L171.9 89.1 L172.1 96.3 L172.2 91.3 L172.4 99.5 L172.5 81.5 L172.6 96.5 L172.8 94.5 L172.9 94.3 L173.1 91.4 L173.2 103.4 L173.3 92.6 L173.5 92.5 L173.6 93.7 L173.8 93.5 L173.9 96 L174 98.7 L174.2 89.9 L174.3 92.8 L174.5 88.3 L174.6 97.1 L174.7 90.8 L174.9 91.6 L175 98.7 L175.2 95.1 L175.3 97.1 L175.4 94.5 L175.6 88.7 L175.7 96.3 L175.9 90.2 L176 96.5 L176.1 93.6 L176.3 92.7 L176.4 96.4 L176.6 84.7 L176.7 89.3 L176.8 106.6 L177 102.8 L177.1 92.6 L177.3 100.3 L177.4 96.4 L177.5 89.3 L177.7 90.2 L177.8 92.9 L178 98.6 L178.1 98 L178.2 93.8 L178.4 88.9 L178.5 98.9 L178.7 89.3 L178.8 80.1 L178.9 99 L179.1 98.2 L179.2 101.6 L179.4 95 L179.5 90.8 L179.6 99.9 L179.8 93.9 L179.9 93.8 L180.1 92.2 L180.2 111 L180.3 82.3 L180.5 97 L180.6 84.6 L180.8 98.8 L180.9 87.1 L181 98.6 L181.2 107.7 L181.3 94 L181.5 89.4 L181.6 105.2 L181.7 93.5 L181.9 84.9 L182 102 L182.2 81.8 L182.3 88.9 L182.4 89.6 L182.6 93 L182.7 86.1 L182.9 100.2 L183 101.5 L183.1 96 L183.3 93.5 L183.4 88.2 L183.6 98.6 L183.7 93 L183.8 99.5 L184 101.5 L184.1 96.9 L184.3 85.8 L184.4 91.5 L184.5 102.7 L184.7 105.9 L184.8 103.5 L185 85 L185.1 95.7 L185.2 95.2 L185.4 88.3 L185.5 92.7 L185.7 100.6 L185.8 98.3 L185.9 92.8 L186.1 97.3 L186.2 101.6 L186.4 89.9 L186.5 96.5 L186.6 85.8 L186.8 95.5 L186.9 100.9 L187.1 93.9 L187.2 99.7 L187.3 98.7 L187.5 95.1 L187.6 92.2 L187.8 90.7 L187.9 94.8 L188 94.8 L188.2 100.4 L188.3 93 L188.5 95.2 L188.6 102.1 L188.7 95 L188.9 95.8 L189 101.5 L189.2 94 L189.3 95.4 L189.4 96.7 L189.6 91.9 L189.7 87 L189.9 85.6 L190 91.8 L190.1 98.7 L190.3 98.1 L190.4 101.6 L190.6 97.8 L190.7 90.1 L190.8 85.8 L191 90.8 L191.1 91.8 L191.3 89.1 L191.4 106.6 L191.5 89.4 L191.7 96.6 L191.8 97.7 L192 85.2 L192.1 91.9 L192.2 100.4 L192.4 98.5 L192.5 94.8 L192.7 89.3 L192.8 91.2 L192.9 95 L193.1 101 L193.2 97.1 L193.4 94.1 L193.5 95.5 L193.6 98.1 L193.8 85.5 L193.9 92.3 L194.1 94.5 L194.2 100.7 L194.3 99.7 L194.5 90.4 L194.6 93.8 L194.8 91.2 L194.9 92.6 L195 95.4 L195.2 93.2 L195.3 92.3 L195.5 89.8 L195.6 87.8 L195.7 94.4 L195.9 96.3 L196 98.1 L196.2 90.9 L196.3 91.3 L196.4 101 L196.6 96.7 L196.7 99 L196.9 92.2 L197 91.8 L197.1 89.8 L197.3 100.5 L197.4 89.5 L197.6 86.4 L197.7 91.2 L197.8 101 L198 94.4 L198.1 95.5 L198.3 94.9 L198.4 94.3 L198.5 93.7 L198.7 93 L198.8 102.6 L199 93.8 L199.1 100.6 L199.2 86.6 L199.4 97.5 L199.5 89 L199.7 88.5 L199.8 96.2 L199.9 100.3 L200.1 101.9 L200.2 102 L200.4 94 L200.5 99.4 L200.6 92.4 L200.8 92.9 L200.9 96.8 L201.1 95.1 L201.2 99.9 L201.3 86.2 L201.5 101.1 L201.6 92.6 L201.8 98.8 L201.9 93.8 L202 89.5 L202.2 95 L202.3 98.8 L202.5 96.2 L202.6 93 L202.7 94 L202.9 99.3 L203 99.9 L203.2 93 L203.3 99.5 L203.4 103 L203.6 100.5 L203.7 92.5 L203.9 92.2 L204 97.9 L204.1 100.4 L204.3 98.6 L204.4 94.5 L204.6 92 L204.7 102.6 L204.8 95.3 L205 105.5 L205.1 90.5 L205.3 94.5 L205.4 93.1 L205.5 105.5 L205.7 102.2 L205.8 93.5 L206 86.3 L206.1 101.5 L206.2 96.6 L206.4 90.3 L206.5 88.9 L206.7 98.3 L206.8 95 L206.9 96.5 L207.1 98 L207.2 94.5 L207.4 95 L207.5 99.6 L207.6 96 L207.8 95.2 L207.9 99.8 L208.1 79.3 L208.2 102.6 L208.3 98.6 L208.5 92.6 L208.6 96.1 L208.8 102 L208.9 98.8 L209 87.3 L209.2 91 L209.3 96.8 L209.5 85.8 L209.6 100 L209.7 95.8 L209.9 99.1 L210 96.1 L210.2 94.5 L210.3 97.7 L210.4 85.6 L210.6 101.5 L210.7 99.4 L210.9 94.4 L211 92.4 L211.1 90.8 L211.3 98 L211.4 97.2 L211.6 97.7 L211.7 105.5 L211.8 86.2 L212 93.5 L212.1 92.9 L212.3 101.3 L212.4 94.6 L212.5 91.2 L212.7 97.1 L212.8 98 L213 104 L213.1 96.9 L213.2 93.5 L213.4 93 L213.5 91.3 L213.7 97.7 L213.8 99.4 L213.9 94.8 L214.1 94.9 L214.2 102.3 L214.4 96.2 L214.5 98.3 L214.6 90.4 L214.8 92.8 L214.9 85 L215.1 88.9 L215.2 100.7 L215.3 101.9 L215.5 94.1 L215.6 89.7 L215.8 98.6 L215.9 100.9 L216 94.3 L216.2 99.5 L216.3 82.5 L216.5 88.7 L216.6 90 L216.7 93.3 L216.9 106.2 L217 97.9 L217.2 94 L217.3 96.7 L217.4 96.2 L217.6 93.1 L217.7 94.5 L217.9 93.9 L218 99.1 L218.1 103.2 L218.3 102.6 L218.4 94.3 L218.6 98.7 L218.7 92.4 L218.8 90.6 L219 96.3 L219.1 98.9 L219.3 95.9 L219.4 100.4 L219.5 100.4 L219.7 100 L219.8 95.7 L220 89.2 L220.1 104.8 L220.2 93.3 L220.4 99.3 L220.5 98 L220.7 93.6 L220.8 104.4 L220.9 98.4 L221.1 94.8 L221.2 92.8 L221.4 90.4 L221.5 88.7 L221.6 98 L221.8 93.2 L221.9 93 L222.1 97.9 L222.2 93.7 L222.3 98.9 L222.5 92.5 L222.6 93 L222.8 100.2 L222.9 92 L223 93.7 L223.2 97.5 L223.3 94.9 L223.5 86.5 L223.6 88.4 L223.7 85.2 L223.9 88.2 L224 98.7 L224.2 89.8 L224.3 87.7 L224.4 91.1 L224.6 94.8 L224.7 85.3 L224.9 96.8 L225 97.3 L225.1 90.6 L225.3 97.4 L225.4 85.7 L225.6 90.7 L225.7 92.6 L225.8 90.6 L226 99.5 L226.1 92 L226.3 88.5 L226.4 94.7 L226.5 94.7 L226.7 95.9 L226.8 92.4 L227 95 L227.1 88.4 L227.2 96.6 L227.4 91.8 L227.5 91.1 L227.7 100.2 L227.8 90.8 L227.9 94.5 L228.1 97.6 L228.2 92.9 L228.4 98.9 L228.5 91.9 L228.6 99.6 L228.8 87.1 L228.9 88.4 L229.1 95.2 L229.2 99.3 L229.3 102.7 L229.5 90.5 L229.6 95 L229.8 92.7 L229.9 84.7 L230 99.1 L230.2 94 L230.3 102.6 L230.5 97.5 L230.6 93.8 L230.7 92.9 L230.9 95.1 L231 98.2 L231.2 93.7 L231.3 109.9 L231.4 103.3 L231.6 90.6 L231.7 96.7 L231.9 101.9 L232 98.5 L232.1 94.7 L232.3 93 L232.4 92.3 L232.6 97.9 L232.7 93.8 L232.8 97.5 L233 93.4 L233.1 104.2 L233.3 98 L233.4 94 L233.5 95.8 L233.7 103.4 L233.8 87.8 L234 97 L234.1 109 L234.2 100.5 L234.4 91 L234.5 96 L234.7 94 L234.8 108.6 L234.9 91.9 L235.1 94 L235.2 93.9 L235.4 88.3 L235.5 78.8 L235.6 94 L235.8 97.7 L235.9 93 L236.1 97.6 L236.2 98.7 L236.3 98.3 L236.5 86.3 L236.6 102.2 L236.8 98.9 L236.9 98.4 L237 94.3 L237.2 94.2 L237.3 91.3 L237.5 95.9 L237.6 98.2 L237.7 91 L237.9 97.7 L238 77 L238.2 96.5 L238.3 90.2 L238.4 101.1 L238.6 103.1 L238.7 94.5 L238.9 90.7 L239 91.1 L239.1 96 L239.3 90.2 L239.4 97.5 L239.6 94 L239.7 97.4 L239.8 90.5 L240 88.4 L240.1 89.6 L240.3 94.8 L240.4 88.5 L240.5 95.8 L240.7 80.6 L240.8 89 L241 91.1 L241.1 82.7 L241.2 88.6 L241.4 84.2 L241.5 99.6 L241.7 99.1 L241.8 94.7 L241.9 86.9 L242.1 83.1 L242.2 88.1 L242.4 91.4 L242.5 90.9 L242.6 91.4 L242.8 96.5 L242.9 89.1 L243.1 90.3 L243.2 87.4 L243.3 88.6 L243.5 96.4 L243.6 93 L243.8 78.6 L243.9 97.3 L244 72.5 L244.2 89.3 L244.3 95.9 L244.5 91.9 L244.6 93.9 L244.7 95.7 L244.9 93 L245 85.4 L245.2 93.7 L245.3 91.1 L245.4 80.2 L245.6 90.5 L245.7 94.6 L245.9 92.5 L246 92.3 L246.1 101.2 L246.3 94.3 L246.4 97.8 L246.6 94.9 L246.7 101.4 L246.8 91.5 L247 99.2 L247.1 102.3 L247.3 91.8 L247.4 93.6 L247.5 87.1 L247.7 95.4 L247.8 97.6 L248 89.4 L248.1 84.8 L248.2 94 L248.4 92.3 L248.5 95 L248.7 96 L248.8 101.6 L248.9 101.5 L249.1 95.8 L249.2 86 L249.4 97.1 L249.5 95.7 L249.6 94.3 L249.8 101.6 L249.9 94.9 L250.1 92.4 L250.2 96.7 L250.3 88.5 L250.5 99.4 L250.6 95 L250.8 106.7 L250.9 97.9 L251 96.3 L251.2 95.2 L251.3 88.5 L251.5 93.6 L251.6 97 L251.7 92.8 L251.9 95.7 L252 96.7 L252.2 96.5 L252.3 90.3 L252.4 94.3 L252.6 91.8 L252.7 86.7 L252.9 84.2 L253 97.3 L253.1 100.1 L253.3 99.9 L253.4 88.8 L253.6 100.3 L253.7 93.2 L253.8 89.3 L254 95.3 L254.1 88.9 L254.3 93.4 L254.4 98.8 L254.5 89.6 L254.7 90.8 L254.8 97 L255 92 L255.1 93.4 L255.2 93.2 L255.4 87.6 L255.5 100.3 L255.7 81.2 L255.8 91.3 L255.9 90.3 L256.1 92.8 L256.2 87.8 L256.4 91.9 L256.5 90.1 L256.6 95.6 L256.8 87.5 L256.9 86.7 L257.1 87 L257.2 92.6 L257.3 85 L257.5 95.9 L257.6 90.4 L257.8 96.3 L257.9 90 L258 96 L258.2 86.7 L258.3 87.2 L258.5 94.7 L258.6 89.3 L258.7 97.3 L258.9 88.6 L259 94.4 L259.2 88.2 L259.3 83.2 L259.4 98.8 L259.6 90.8 L259.7 89.2 L259.9 89.3 L260 83.4 L260.1 93.7 L260.3 96.8 L260.4 98 L260.6 99.7 L260.7 93.6 L260.8 91 L261 94.1 L261.1 85.5 L261.3 94.9 L261.4 94.6 L261.5 92.8 L261.7 90.7 L261.8 94.1 L262 88.3 L262.1 98.8 L262.2 88.6 L262.4 88.9 L262.5 89.8 L262.7 86.1 L262.8 86.9 L262.9 90.3 L263.1 79.8 L263.2 101.8 L263.4 93.6 L263.5 93.1 L263.6 87.3 L263.8 92.7 L263.9 91.7 L264.1 92.6 L264.2 85.4 L264.3 91.2 L264.5 82.4 L264.6 91.1 L264.8 87.3 L264.9 88.9 L265 90.4 L265.2 96 L265.3 98 L265.5 92 L265.6 83.5 L265.7 99 L265.9 84.6 L266 88.7 L266.2 90.2 L266.3 90.7 L266.4 92.5 L266.6 93.1 L266.7 96.4 L266.9 89.8 L267 95.5 L267.1 90.2 L267.3 90.1 L267.4 92.3 L267.6 92.8 L267.7 90.3 L267.8 89.7 L268 83.3 L268.1 89 L268.3 77.5 L268.4 84.4 L268.5 86.9 L268.7 94.6 L268.8 73 L269 99.9 L269.1 88.4 L269.2 82.3 L269.4 92 L269.5 92.2 L269.7 91.5 L269.8 100.2 L269.9 84.9 L270.1 90.9 L270.2 90 L270.4 85.9 L270.5 90.3 L270.6 95.2 L270.8 84.9 L270.9 91.4 L271.1 94.1 L271.2 92.6 L271.3 81.6 L271.5 91.3 L271.6 88.3 L271.8 96.1 L271.9 89.5 L272 96.5 L272.2 83.7 L272.3 100.2 L272.5 85.7 L272.6 98.8 L272.7 100.2 L272.9 86 L273 107 L273.2 85.3 L273.3 83 L273.4 85.8 L273.6 98 L273.7 93.3 L273.9 89.1 L274 92.6 L274.1 92.5 L274.3 92.1 L274.4 85.2 L274.6 92.1 L274.7 94.8 L274.8 84.8 L275 107.4 L275.1 99.3 L275.3 93.1 L275.4 102.7 L275.5 89.8 L275.7 88.7 L275.8 90.4 L276 89.8 L276.1 102.5 L276.2 93.3 L276.4 92.9 L276.5 94.9 L276.7 100.8 L276.8 93.6 L276.9 91.3 L277.1 94.1 L277.2 98.9 L277.4 94.7 L277.5 99.6 L277.6 94.4 L277.8 75.5 L277.9 95.8 L278.1 103.6 L278.2 92.9 L278.3 100.7 L278.5 91.3 L278.6 94.6 L278.8 93.9 L278.9 98 L279 91.6 L279.2 95.8 L279.3 97.5 L279.5 90 L279.6 85.3 L279.7 89.2 L279.9 92.2 L280 103.1 L280.2 92 L280.3 95.9 L280.4 88.1 L280.6 91.5 L280.7 97 L280.9 101 L281 85.8 L281.1 98.8 L281.3 99.9 L281.4 87.8 L281.6 93.8 L281.7 87.5 L281.8 97.6 L282 95.1 L282.1 87.3 L282.3 96.3 L282.4 93.2 L282.5 92.4 L282.7 96.1 L282.8 89.2 L283 85.4 L283.1 93.8 L283.2 73.9 L283.4 92.2 L283.5 87.9 L283.7 88.6 L283.8 88.1 L283.9 70.7 L284.1 88.6 L284.2 88.9 L284.4 92.8 L284.5 108.5 L284.6 89.8 L284.8 85 L284.9 95.8 L285.1 86.5 L285.2 88.3 L285.3 90.9 L285.5 92.9 L285.6 93.3 L285.8 94.4 L285.9 92.7 L286 98.7 L286.2 97.6 L286.3 90.8 L286.5 92.2 L286.6 86.4 L286.7 96.4 L286.9 91.6 L287 102 L287.2 89.3 L287.3 100 L287.4 87.6 L287.6 83.7 L287.7 87.3 L287.9 93.4 L288 96.1 L288.1 86.5 L288.3 95.6 L288.4 88.4 L288.6 88.6 L288.7 90 L288.8 99.4 L289 92.2 L289.1 93 L289.3 84.1 L289.4 94.9 L289.5 88.2 L289.7 99.6 L289.8 92.4 L290 88 L290.1 86.8 L290.2 88 L290.4 94.2 L290.5 87.2 L290.7 97.4 L290.8 91.6 L290.9 86.9 L291.1 87.9 L291.2 84.5 L291.4 84.1 L291.5 96.5 L291.6 95.1 L291.8 85.7 L291.9 88.3 L292.1 98 L292.2 86.8 L292.3 91.2 L292.5 92.6 L292.6 89 L292.8 89.1 L292.9 88.4 L293 90.4 L293.2 82.6 L293.3 90.5 L293.5 91.2 L293.6 84.2 L293.7 92.6 L293.9 86.2 L294 78.1 L294.2 81.5 L294.3 91.5 L294.4 93.8 L294.6 101.4 L294.7 83.5 L294.9 89.7 L295 95.1 L295.1 90.3 L295.3 81.2 L295.4 92.5 L295.6 89.2 L295.7 89.7 L295.8 90.7 L296 93.2 L296.1 89.7 L296.3 84.7 L296.4 89.6 L296.5 90.6 L296.7 95.4 L296.8 83.4 L297 88.5 L297.1 84.9 L297.2 90.4 L297.4 86.7 L297.5 74.2 L297.7 94.6 L297.8 86.8 L297.9 85.3 L298.1 83.2 L298.2 85.5 L298.4 84.7 L298.5 90.2 L298.6 91.6 L298.8 95.9 L298.9 92.9 L299.1 88.2 L299.2 93.9 L299.3 90.4 L299.5 93 L299.6 94 L299.8 89.3 L299.9 97.4 L300 95.3 L300.2 89.4 L300.3 93.6 L300.5 99.7 L300.6 84 L300.7 80.9 L300.9 88.8 L301 94.5 L301.2 96.6 L301.3 88.8 L301.4 91.8 L301.6 96.5 L301.7 95.4 L301.9 87.2 L302 93.6 L302.1 97.7 L302.3 89.5 L302.4 80.9 L302.6 88.8 L302.7 100.2 L302.8 96.8 L303 99.6 L303.1 91.7 L303.3 93.3 L303.4 98.9 L303.5 91 L303.7 98.1 L303.8 92.3 L304 76.1 L304.1 94.7 L304.2 96.3 L304.4 100.8 L304.5 90.7 L304.7 100.5 L304.8 88.5 L304.9 88.2 L305.1 81.5 L305.2 96.7 L305.4 99.9 L305.5 94.2 L305.6 91.9 L305.8 94.4 L305.9 84 L306.1 92.2 L306.2 92.8 L306.3 88.9 L306.5 86.4 L306.6 91.6 L306.8 93.7 L306.9 83.9 L307 90.3 L307.2 93.1 L307.3 77.5 L307.5 92.9 L307.6 99.6 L307.7 84.9 L307.9 97.1 L308 89.3 L308.2 93.5 L308.3 89.6 L308.4 70.5 L308.6 81.6 L308.7 101.2 L308.9 83.1 L309 87.8 L309.1 96 L309.3 91.2 L309.4 90.6 L309.6 79.9 L309.7 86.2 L309.8 73.4 L310 80.4 L310.1 90.5 L310.3 92.5 L310.4 84.6 L310.5 85 L310.7 90.3 L310.8 92.5 L311 83.1 L311.1 94 L311.2 92.6 L311.4 79.5 L311.5 82.1 L311.7 90.5 L311.8 91.4 L311.9 96.5 L312.1 89.8 L312.2 96 L312.4 86.6 L312.5 90.7 L312.6 87.6 L312.8 88.4 L312.9 95 L313.1 84.7 L313.2 91.3 L313.3 85.8 L313.5 82.8 L313.6 84 L313.8 73.7 L313.9 77.9 L314 86.6 L314.2 93.1 L314.3 92.4 L314.5 80.4 L314.6 83 L314.7 86.6 L314.9 98.3 L315 86.9 L315.2 95.3 L315.3 87.3 L315.4 89.9 L315.6 84.3 L315.7 89.8 L315.9 83.3 L316 88.9 L316.1 84.6 L316.3 93.2 L316.4 98.3 L316.6 92.5 L316.7 87.9 L316.8 76.3 L317 94.6 L317.1 97.8 L317.3 94.6 L317.4 90.9 L317.5 92.5 L317.7 103.3 L317.8 85 L318 85.9 L318.1 93.4 L318.2 88.9 L318.4 77 L318.5 88.8 L318.7 89.6 L318.8 83.1 L318.9 89.6 L319.1 89.5 L319.2 79.5 L319.4 90.4 L319.5 98.3 L319.6 96 L319.8 86.2 L319.9 80.8 L320.1 87.4 L320.2 88.6 L320.3 80.3 L320.5 82.9 L320.6 93.5 L320.8 87.6 L320.9 91.6 L321 86.5 L321.2 91.9 L321.3 84.5 L321.5 84.4 L321.6 82.6 L321.7 73.8 L321.9 85.1 L322 80.1 L322.2 84.6 L322.3 87.6 L322.4 102.6 L322.6 88.9 L322.7 85.2 L322.9 86.9 L323 92.6 L323.1 86 L323.3 86.9 L323.4 74.5 L323.6 80.8 L323.7 91.4 L323.8 81.8 L324 72.8 L324.1 91.1 L324.3 80.1 L324.4 91 L324.5 85.6 L324.7 83 L324.8 75.9 L325 92.4 L325.1 76.3 L325.2 79.2 L325.4 89.2 L325.5 79.2 L325.7 87.6 L325.8 85 L325.9 88.3 L326.1 79.9 L326.2 82.2 L326.4 87.2 L326.5 80.7 L326.6 88.6 L326.8 86.6 L326.9 88.2 L327.1 86.3 L327.2 87.8 L327.3 82.7 L327.5 89.1 L327.6 87.1 L327.8 86.9 L327.9 80.9 L328 77.2 L328.2 85.7 L328.3 90.5 L328.5 80.9 L328.6 77.7 L328.7 83 L328.9 87.5 L329 90.2 L329.2 83.7 L329.3 80 L329.4 85.7 L329.6 89.6 L329.7 88.7 L329.9 94 L330 83.5 L330.1 90.4 L330.3 94.5 L330.4 81.2 L330.6 81.8 L330.7 89.3 L330.8 101.6 L331 88.7 L331.1 86.3 L331.3 93 L331.4 86.1 L331.5 78.8 L331.7 82.1 L331.8 93.4 L332 78.4 L332.1 79.5 L332.2 90.6 L332.4 87 L332.5 92.3 L332.7 81.1 L332.8 82.7 L332.9 84.8 L333.1 80.2 L333.2 85.4 L333.4 85.6 L333.5 90.6 L333.6 86 L333.8 98.6 L333.9 89.2 L334.1 91.7 L334.2 91.3 L334.3 87.7 L334.5 84.2 L334.6 84 L334.8 79.5 L334.9 86.2 L335 86 L335.2 103.9 L335.3 86.9 L335.5 89.6 L335.6 92.4 L335.7 76.5 L335.9 82.7 L336 84.7 L336.2 86.5 L336.3 80.3 L336.4 90.3 L336.6 90.5 L336.7 88.6 L336.9 89.5 L337 80.6 L337.1 92 L337.3 83.4 L337.4 76.7 L337.6 86.8 L337.7 88.3 L337.8 82.8 L338 77.9 L338.1 80.5 L338.3 85.6 L338.4 74 L338.5 91.8 L338.7 91.5 L338.8 85.6 L339 75.8 L339.1 85.8 L339.2 81 L339.4 90 L339.5 89.5 L339.7 74.2" stroke="#f01010" stroke-width="0.55"/>
</g>
<clipPath id="nb"><rect x="79.9" y="20.2" width="15.6" height="30"/></clipPath>
<g clip-path="url(#nb)" fill="none">
<path d="M80 47.8 L80.1 32.6 L80.2 29 L80.4 32.4 L80.5 24.5 L80.6 27.2 L80.7 34.3 L80.8 34.4 L81 30.8 L81.1 26 L81.2 28.9 L81.3 35.4 L81.4 28.5 L81.6 31.9 L81.7 32.6 L81.8 28.7 L81.9 31 L82 23.7 L82.2 28.6 L82.3 31 L82.4 33.4 L82.5 36.1 L82.6 29 L82.8 32.8 L82.9 37 L83 27.8 L83.1 27.8 L83.2 30.7 L83.4 30.9 L83.5 27.9 L83.6 41.9 L83.7 30.8 L83.8 33.5 L84 31.3 L84.1 42 L84.2 22 L84.3 29.5 L84.4 31.6 L84.6 35.6 L84.7 30.7 L84.8 26.9 L84.9 42.6 L85 33.5 L85.2 29.8 L85.3 29.9 L85.4 29.9 L85.5 48.6 L85.6 24 L85.8 31.4 L85.9 28.4 L86 32.8 L86.1 32.2 L86.2 26.7 L86.4 36.2 L86.5 33.9 L86.6 27.3 L86.7 26.7 L86.8 28.1 L87 32.2 L87.1 35.9 L87.2 27.3 L87.3 27.8 L87.4 32.9 L87.6 30.6 L87.7 30.6 L87.8 30.4 L87.9 29.6 L88 41 L88.2 34.7 L88.3 29.5 L88.4 35.8 L88.5 38.4 L88.6 32.7 L88.8 32.1 L88.9 28.9 L89 31.3 L89.1 31.7 L89.2 36 L89.4 27.1 L89.5 38.8 L89.6 28.8 L89.7 37.1 L89.8 22.9 L90 30 L90.1 27.6 L90.2 26.4 L90.3 31.4 L90.4 35.5 L90.6 25.4 L90.7 31.7 L90.8 30.2 L90.9 33.4 L91 30.8 L91.2 28.3 L91.3 34.3 L91.4 32.5 L91.5 26.7 L91.6 22.9 L91.8 28 L91.9 31.6 L92 33.9 L92.1 28.5 L92.2 29.3 L92.4 23.6 L92.5 29 L92.6 31.2 L92.7 28.4 L92.8 30.4 L93 26.9 L93.1 27.2 L93.2 31.9 L93.3 24.6 L93.4 33.4 L93.6 35.5 L93.7 28.5 L93.8 28.8 L93.9 33.8 L94 25.6 L94.2 28.4 L94.3 29.5 L94.4 29.8 L94.5 28.5 L94.6 26.2 L94.8 30.8 L94.9 34.7 L95 33.8 L95.1 29.6 L95.2 30.6 L95.4 26.5 L95.5 29.7" stroke="#eaa8a8" stroke-width="0.5"/>
<path d="M80 24.7 L80.2 30.5 L80.4 23.2 L80.6 22.5 L80.8 28 L81 22.9 L81.2 21.6 L81.4 24.5 L81.6 27.6 L81.8 25.4 L82 23.7 L82.2 29.5 L82.4 29.4 L82.6 19.8 L82.8 21.2 L83 21.9 L83.2 24.2 L83.4 25.5 L83.6 24.7 L83.8 25.1 L84 26.4 L84.2 20.8 L84.4 19.5 L84.6 25.9 L84.8 28.9 L85 25.5 L85.2 23.6 L85.4 26.7 L85.6 23.9 L85.8 20.7 L86 23.7 L86.2 27.4 L86.4 26 L86.6 27.1 L86.8 23.3 L87 26.7 L87.2 29.5 L87.4 23.9 L87.6 23.4 L87.8 28.9 L88 25.3 L88.2 21.2 L88.4 23.6 L88.6 29.2 L88.8 26.1 L89 30.9 L89.2 27 L89.4 25.8 L89.6 28.3 L89.8 23 L90 28.4 L90.2 24.7 L90.4 24.2 L90.6 26.2 L90.8 23.5 L91 21.4 L91.2 22.1 L91.4 26.6 L91.6 25.9 L91.8 25.2 L92 27.3 L92.2 22.1 L92.4 23.7 L92.6 30.2 L92.8 21.9 L93 29.1 L93.2 24.1 L93.4 26.7 L93.6 25.8 L93.8 24.2 L94 25.4 L94.2 28.1 L94.4 22.8 L94.6 22 L94.8 27.8 L95 23.7 L95.2 24.5 L95.4 24.4" stroke="#22e022" stroke-width="0.9"/>
<path d="M80 24.3 L80.2 27.6 L80.5 32.8 L80.8 27.4 L81 26 L81.2 29.2 L81.5 26.1 L81.8 41.7 L82 36.5 L82.2 29.8 L82.5 22.2 L82.8 27.2 L83 25.6 L83.2 25.7 L83.5 20 L83.8 27.3 L84 27 L84.2 26.6 L84.5 23.9 L84.8 31.2 L85 25.8 L85.2 19.6 L85.5 25 L85.8 33.1 L86 34.9 L86.2 24.6 L86.5 28.8 L86.8 32 L87 33.6 L87.2 27.5 L87.5 30.8 L87.8 27.6 L88 21.6 L88.2 33.6 L88.5 29.2 L88.8 31.4 L89 28.6 L89.2 25.7 L89.5 27.4 L89.8 31 L90 23.9 L90.2 36.3 L90.5 39.6 L90.8 19.5 L91 39.2 L91.2 27.6 L91.5 32.2 L91.8 30.4 L92 28.7 L92.2 33.5 L92.5 30 L92.8 36.1 L93 31 L93.2 25.7 L93.5 28.8 L93.8 29.6 L94 27 L94.2 24.2 L94.5 38.2 L94.8 29.3 L95 29.4 L95.2 22.4 L95.5 32" stroke="#e21c1c" stroke-width="0.6" opacity="0.85"/>
<path d="M80 22.6 L80.3 19.5 L80.6 26.6 L80.9 23.5 L81.2 26.6 L81.5 22.9 L81.8 25.1 L82.1 25.3 L82.4 29.8 L82.7 23.5 L83 22.5 L83.3 26.9 L83.6 29.4 L83.9 23.4 L84.2 30.3 L84.5 26.6 L84.8 28.3 L85.1 20.2 L85.4 26.9 L85.7 25.7 L86 27.3 L86.3 24.2 L86.6 26.1 L86.9 19.5 L87.2 26.5 L87.5 31.2 L87.8 27.2 L88.1 26.8 L88.4 27.7 L88.7 31.4 L89 24.2 L89.3 21.5 L89.6 22.7 L89.9 24.2 L90.2 26.8 L90.5 29.4 L90.8 24 L91.1 23 L91.4 29.6 L91.7 30.2 L92 23.9 L92.3 29.1 L92.6 25.9 L92.9 24.8 L93.2 26.1 L93.5 23.5 L93.8 20.6 L94.1 21.6 L94.4 23.9 L94.7 27.5 L95 27.8 L95.3 29.4" stroke="#2a1a10" stroke-width="0.5" opacity="0.8"/>
<path d="M80 22.3 L80.2 26.5 L80.5 25.9 L80.8 25.5 L81 19.5 L81.2 24.2 L81.5 27.3 L81.8 27.5 L82 26.2 L82.2 26 L82.5 21.8 L82.8 26.7 L83 27.6 L83.2 24.4 L83.5 24.6 L83.8 23.2 L84 23.9 L84.2 22.8 L84.5 24.5 L84.8 23.1 L85 20.1 L85.2 22.1 L85.5 24.4 L85.8 23.9 L86 26.7 L86.2 25.6 L86.5 26.3 L86.8 23.4 L87 25.9 L87.2 21.9 L87.5 22 L87.8 25.5 L88 24 L88.2 21.7 L88.5 25.6 L88.8 26.7 L89 25.2 L89.2 26.4 L89.5 25.5 L89.8 25.5 L90 21.7 L90.2 19.5 L90.5 22.7 L90.8 19.5 L91 22.3 L91.2 21 L91.5 23.7 L91.8 21.9 L92 23.5 L92.2 21.5 L92.5 22.9 L92.8 26.8 L93 21.2 L93.2 19.6 L93.5 26.6 L93.8 25.2 L94 23.4 L94.2 22.6 L94.5 24.1 L94.8 22.7 L95 25.6 L95.2 22.8 L95.5 22.1" stroke="#22e022" stroke-width="0.7"/>
</g>
<line x1="95.4" y1="20.5" x2="95.4" y2="73" stroke="#22dd22" stroke-width="1.1"/>
<line x1="95.4" y1="73" x2="95.4" y2="106" stroke="#8a9a30" stroke-width="1.0"/>
<line x1="95.4" y1="106" x2="95.4" y2="231.5" stroke="#777" stroke-width="0.8"/>
<line x1="79.4" y1="20.2" x2="79.4" y2="238" stroke="#000" stroke-width="1.3"/>
<line x1="79.4" y1="231.5" x2="339.5" y2="231.5" stroke="#222" stroke-width="1.2"/>
<line x1="73.2" y1="27.5" x2="79.4" y2="27.5" stroke="#111" stroke-width="1.2"/>
<text x="66.8" y="33.1" font-size="14.2" text-anchor="end" fill="#111" >0</text>
<line x1="76.2" y1="44.5" x2="79.4" y2="44.5" stroke="#111" stroke-width="1.2"/>
<line x1="73.2" y1="61.5" x2="79.4" y2="61.5" stroke="#111" stroke-width="1.2"/>
<text x="66.8" y="67.1" font-size="14.2" text-anchor="end" fill="#111" >−50</text>
<line x1="76.2" y1="78.5" x2="79.4" y2="78.5" stroke="#111" stroke-width="1.2"/>
<line x1="73.2" y1="95.5" x2="79.4" y2="95.5" stroke="#111" stroke-width="1.2"/>
<text x="66.8" y="101.1" font-size="14.2" text-anchor="end" fill="#111" >−100</text>
<line x1="76.2" y1="112.5" x2="79.4" y2="112.5" stroke="#111" stroke-width="1.2"/>
<line x1="73.2" y1="129.5" x2="79.4" y2="129.5" stroke="#111" stroke-width="1.2"/>
<text x="66.8" y="135.1" font-size="14.2" text-anchor="end" fill="#111" >−150</text>
<line x1="76.2" y1="146.5" x2="79.4" y2="146.5" stroke="#111" stroke-width="1.2"/>
<line x1="73.2" y1="163.5" x2="79.4" y2="163.5" stroke="#111" stroke-width="1.2"/>
<text x="66.8" y="169.1" font-size="14.2" text-anchor="end" fill="#111" >−200</text>
<line x1="76.2" y1="180.5" x2="79.4" y2="180.5" stroke="#111" stroke-width="1.2"/>
<line x1="73.2" y1="197.5" x2="79.4" y2="197.5" stroke="#111" stroke-width="1.2"/>
<text x="66.8" y="203.1" font-size="14.2" text-anchor="end" fill="#111" >−250</text>
<line x1="76.2" y1="214.5" x2="79.4" y2="214.5" stroke="#111" stroke-width="1.2"/>
<line x1="73.2" y1="231.50000000000003" x2="79.4" y2="231.50000000000003" stroke="#111" stroke-width="1.2"/>
<text x="66.8" y="237.10000000000002" font-size="14.2" text-anchor="end" fill="#111" >−300</text>
<line x1="79.4" y1="231.5" x2="79.4" y2="237.6" stroke="#222" stroke-width="1.2"/>
<text x="80.6" y="256.2" font-size="14.2" text-anchor="middle" fill="#111" >0</text>
<line x1="122.75" y1="231.5" x2="122.75" y2="235" stroke="#222" stroke-width="1.2"/>
<line x1="166.10000000000002" y1="231.5" x2="166.10000000000002" y2="237.6" stroke="#222" stroke-width="1.2"/>
<text x="168.2" y="256.2" font-size="14.2" text-anchor="middle" fill="#111" >100</text>
<line x1="209.45000000000002" y1="231.5" x2="209.45000000000002" y2="235" stroke="#222" stroke-width="1.2"/>
<line x1="252.8" y1="231.5" x2="252.8" y2="237.6" stroke="#222" stroke-width="1.2"/>
<text x="251.8" y="256.2" font-size="14.2" text-anchor="middle" fill="#111" >200</text>
<line x1="296.15" y1="231.5" x2="296.15" y2="235" stroke="#222" stroke-width="1.2"/>
<line x1="339.5" y1="231.5" x2="339.5" y2="237.6" stroke="#222" stroke-width="1.2"/>
<text x="336.2" y="256.2" font-size="14.2" text-anchor="middle" fill="#111" >300</text>
<text x="206.45000000000002" y="274.6" font-size="14" text-anchor="middle" fill="#111" >Times, ms</text>
<text x="26.8" y="130.3" font-size="14" text-anchor="middle" fill="#111" transform="rotate(-90 26.8 130.3)">INaL (pA)</text>
<line x1="204" y1="129.9" x2="219.5" y2="129.9" stroke="#2d3e55" stroke-width="2"/>
<text x="222.5" y="133.9" font-size="10.2" text-anchor="start" fill="#333" >CON</text>
<line x1="204" y1="143.1" x2="219.5" y2="143.1" stroke="#ee1c24" stroke-width="2"/>
<text x="222.5" y="147.1" font-size="10.2" text-anchor="start" fill="#333" >ATX II</text>
<line x1="204" y1="157.1" x2="219.5" y2="157.1" stroke="#12a54a" stroke-width="2"/>
<text x="222.5" y="161.1" font-size="10.2" text-anchor="start" fill="#333" >ATX II + Moricizine</text>
<text x="200" y="187.5" font-size="10" text-anchor="start" fill="#333" >−20 mv</text>
<text x="200" y="206.4" font-size="10" text-anchor="start" fill="#333" >−90 mv</text>
<text x="248.4" y="186.9" font-size="10" text-anchor="start" fill="#333" >300 ms</text>
<polyline points="239,202.6 247.6,202.6 247.6,192.6 284.7,192.6 284.7,202.6 294.7,202.6" fill="none" stroke="#8797a6" stroke-width="1.2"/>
<path d="M387 2.45 L391.2 2.45 C393.2 2.45 393.75 4.0 393.75 5.4 C393.75 7.3 392.5 9.3 390.4 9.3 L387 9.3 M390.4 9.3 C393.3 9.3 395.15 10.6 395.15 12.5 C395.15 14.6 393.6 15.85 391.0 15.85 L387 15.85 M387 1.4 L387 16.9" fill="none" stroke="#000" stroke-width="2.1"/>
<line x1="476.2" y1="52.2" x2="476.2" y2="197.2" stroke="#333" stroke-width="1.2"/>
<line x1="476.2" y1="196.9" x2="694" y2="196.9" stroke="#333" stroke-width="1.2"/>
<line x1="470.1" y1="197.0" x2="476.2" y2="197.0" stroke="#333" stroke-width="1.2"/>
<text x="464.5" y="201.4" font-size="12.4" text-anchor="end" fill="#111" >0.0</text>
<line x1="470.1" y1="162.0" x2="476.2" y2="162.0" stroke="#333" stroke-width="1.2"/>
<text x="464.5" y="166.4" font-size="12.4" text-anchor="end" fill="#111" >0.4</text>
<line x1="470.1" y1="125.9" x2="476.2" y2="125.9" stroke="#333" stroke-width="1.2"/>
<text x="464.5" y="130.3" font-size="12.4" text-anchor="end" fill="#111" >0.8</text>
<line x1="470.1" y1="89.5" x2="476.2" y2="89.5" stroke="#333" stroke-width="1.2"/>
<text x="464.5" y="93.9" font-size="12.4" text-anchor="end" fill="#111" >1.2</text>
<line x1="470.1" y1="52.6" x2="476.2" y2="52.6" stroke="#333" stroke-width="1.2"/>
<text x="464.5" y="57.0" font-size="12.4" text-anchor="end" fill="#111" >1.6</text>
<text x="438.6" y="123.5" font-size="12.2" text-anchor="middle" fill="#111" transform="rotate(-90 438.6 123.5)">INaL (pA/pF)</text>
<line x1="520.4" y1="168.5" x2="520.4" y2="167" stroke="#111" stroke-width="1.2"/>
<line x1="508" y1="167" x2="531.6" y2="167" stroke="#111" stroke-width="1.4"/>
<rect x="497.8" y="168.5" width="45.19999999999999" height="28.400000000000006" fill="#000"/>
<line x1="585.05" y1="66.8" x2="585.05" y2="65.2" stroke="#111" stroke-width="1.2"/>
<line x1="572.7" y1="65.2" x2="596.4" y2="65.2" stroke="#111" stroke-width="1.4"/>
<rect x="562.3" y="66.8" width="45.5" height="130.10000000000002" fill="#a0a0a6"/>
<line x1="650.0" y1="146.4" x2="650.0" y2="144.8" stroke="#111" stroke-width="1.2"/>
<line x1="638" y1="144.8" x2="662" y2="144.8" stroke="#111" stroke-width="1.4"/>
<rect x="627.4" y="146.4" width="45.200000000000045" height="50.5" fill="#7f7f7f"/>
<line x1="519.4" y1="196.9" x2="519.4" y2="203.2" stroke="#333" stroke-width="1.2"/>
<line x1="584.9" y1="196.9" x2="584.9" y2="203.2" stroke="#333" stroke-width="1.2"/>
<line x1="649.5" y1="196.9" x2="649.5" y2="203.2" stroke="#333" stroke-width="1.2"/>
<polyline points="519,33.2 519,27.6 652.3,27.6 652.3,33.2" fill="none" stroke="#222" stroke-width="1.3"/>
<polyline points="519,57.9 519,51.4 583.2,51.4 583.2,57.9" fill="none" stroke="#222" stroke-width="1.3"/>
<polyline points="588,57.9 588,51.4 652.3,51.4 652.3,57.9" fill="none" stroke="#222" stroke-width="1.3"/>
<text x="583" y="22.2" font-size="10.3" text-anchor="middle" fill="#222" >P&lt;0.001</text>
<text x="550.4" y="46" font-size="10.3" text-anchor="middle" fill="#222" >P&lt;0.001</text>
<text x="615.1" y="46" font-size="10.3" text-anchor="middle" fill="#222" >P&lt;0.001</text>
<text x="521" y="214.5" font-size="14.3" text-anchor="end" fill="#111" transform="rotate(-45 521 214.5)">CON</text>
<text x="586.5" y="214.5" font-size="14.3" text-anchor="end" fill="#111" transform="rotate(-45 586.5 214.5)">ATX II</text>
<text x="652" y="214.5" font-size="14.3" text-anchor="end" fill="#111" transform="rotate(-45 652 214.5)">ATX II + Moricizine</text>
<path d="M14.9 314.6 C13.5 313.4 11.2 312.8 8.4 312.8 C4.5 312.8 1.9 315.8 1.9 319.75 C1.9 323.7 4.5 326.7 8.4 326.7 C11.2 326.7 13.5 326.1 14.9 324.9" fill="none" stroke="#000" stroke-width="1.8"/>
<g fill="none" stroke-width="1.4" stroke-linejoin="round">
<path d="M43.4 345.7 L43.9 345.6 L44.4 345.6 L44.9 345.4 L45.4 344.5 L45.9 344 L46.4 344.6 L46.9 343.9 L47.4 344.3 L47.9 344.5 L48.4 344.2 L48.9 343.3 L49.4 344.2 L49.9 344 L50.4 343.3 L50.9 343.4 L51.4 344 L51.9 343.5 L52.4 343.5 L52.9 343.7 L53.4 343.4 L53.9 344.2 L54.4 343.6 L54.9 343.2 L55.4 343.1 L55.9 342.9 L56.4 343.4 L56.9 342.4 L57.4 343.1 L57.9 342.5 L58.4 341.9 L58.9 342.8 L59.4 342.5 L59.9 342.4 L60.4 342.1 L60.9 342.4 L61.4 342.4 L61.9 343.3 L62.4 343.6 L62.9 343.3 L63.4 343.6 L63.9 343.8 L64.4 344 L64.9 343.9 L65.4 343.7 L65.9 343.8 L66.4 344.1 L66.9 344 L67.4 344 L67.9 344.6 L68.4 344.4 L68.9 344.7 L69.4 344.1 L69.9 344.8 L70.4 344.6 L70.9 344.6 L71.4 344.5 L71.9 344.6 L72.4 344.8 L72.9 345.2 L73.4 348.5 L73.9 353.5 L74.4 357.1 L74.9 361.3 L75.4 367.6 L75.9 374.3 L76.4 381.3 L76.9 388.7 L77.4 395.5 L77.9 404.1 L78.4 411.6 L78.9 418 L79.4 423.4 L79.9 427 L80.4 430.7 L80.9 432.5 L81.4 434.5 L81.9 433.9 L82.4 433.5 L82.9 433.3 L83.4 432.2 L83.9 430.7 L84.4 430.5 L84.9 429.6 L85.4 428.1 L85.9 427.4 L86.4 426.6 L86.9 424.6 L87.4 424.2 L87.9 423.1 L88.4 422.4 L88.9 421.1 L89.4 420.2 L89.9 419.8 L90.4 419.5 L90.9 417.5 L91.4 417.6 L91.9 416.5 L92.4 415.9 L92.9 415.4 L93.4 414.1 L93.9 414 L94.4 412.5 L94.9 412.1 L95.4 411.9 L95.9 411.4 L96.4 410.2 L96.9 409.5 L97.4 409.9 L97.9 409.4 L98.4 409.1 L98.9 408.3 L99.4 407.4 L99.9 407.8 L100.4 407.3 L100.9 406.6 L101.4 406.8 L101.9 405.7 L102.4 405.8 L102.9 404.8 L103.4 403.5 L103.9 403.8 L104.4 402.9 L104.9 403.4 L105.4 403.5 L105.9 402.2 L106.4 402.7 L106.9 402 L107.4 402.1 L107.9 401.5 L108.4 400.8 L108.9 401.1 L109.4 400.7 L109.9 400.8 L110.4 400.9 L110.9 400 L111.4 400.4 L111.9 399.6 L112.4 399.6 L112.9 399.2 L113.4 398.7 L113.9 398.8 L114.4 398.3 L114.9 398.5 L115.4 397.7 L115.9 397.5 L116.4 397.9 L116.9 397.6 L117.4 397.4 L117.9 397.1 L118.4 397.1 L118.9 396.7 L119.4 396.6 L119.9 395.8 L120.4 396.1 L120.9 395.4 L121.4 395.1 L121.9 395.3 L122.4 395.4 L122.9 395 L123.4 395.4 L123.9 394.9 L124.4 394.6 L124.9 394.3 L125.4 393.6 L125.9 393.9 L126.4 393.7 L126.9 394.2 L127.4 393.1 L127.9 393.1 L128.4 392.8 L128.9 392.9 L129.4 392 L129.9 392.6 L130.4 392.3 L130.9 392.2 L131.4 392.9 L131.9 391.7 L132.4 391.7 L132.9 391.4 L133.4 391.6 L133.9 391.8 L134.4 391.5 L134.9 390.8 L135.4 390 L135.9 390.5 L136.4 389.6 L136.9 389.6 L137.4 389.6 L137.9 389.2 L138.4 389.4 L138.9 389.1 L139.4 388.8 L139.9 389 L140.4 388.4 L140.9 389 L141.4 388.5 L141.9 388 L142.4 388.1 L142.9 387.5 L143.4 387.4 L143.9 387.8 L144.4 386.7 L144.9 387.2 L145.4 387.6 L145.9 385.9 L146.4 387.4 L146.9 385.7 L147.4 385.4 L147.9 385.2 L148.4 385.4 L148.9 385.4 L149.4 384.8 L149.9 385.2 L150.4 385.4 L150.9 384.7 L151.4 384.9 L151.9 385 L152.4 385.2 L152.9 384.5 L153.4 384.6 L153.9 384.4 L154.4 384.1 L154.9 383.9 L155.4 384 L155.9 384 L156.4 383.2 L156.9 383.4 L157.4 383.5 L157.9 383.4 L158.4 383.2 L158.9 383.6 L159.4 383.3 L159.9 382.3 L160.4 383.2 L160.9 382.3 L161.4 382.1 L161.9 382.6 L162.4 382 L162.9 381.4 L163.4 382.1 L163.9 381.9 L164.4 381.8 L164.9 381 L165.4 381.7 L165.9 381 L166.4 381.5 L166.9 380.6 L167.4 380.6 L167.9 380.1 L168.4 380.4 L168.9 380.9 L169.4 380.5 L169.9 380.1 L170.4 380.6 L170.9 380.1 L171.4 380.2 L171.9 379.9 L172.4 379.6 L172.9 379.6 L173.4 379.6 L173.9 379.7 L174.4 379.4 L174.9 379.4 L175.4 378.5 L175.9 378.2 L176.4 378.9 L176.9 378.7 L177.4 378.7 L177.9 378.1 L178.4 378.4 L178.9 377.9 L179.4 378.2 L179.9 378.1 L180.4 378 L180.9 378.1 L181.4 377.7 L181.9 377.8 L182.4 377.9 L182.9 378.1 L183.4 377.6 L183.9 377.7 L184.4 377.5 L184.9 377.8 L185.4 377.9 L185.9 376.8 L186.4 377.2 L186.9 377 L187.4 377.3 L187.9 375.8 L188.4 376.4 L188.9 375.9 L189.4 376.9 L189.9 376.4 L190.4 376.5 L190.9 376.3 L191.4 376.2 L191.9 376.1 L192.4 375.7 L192.9 375.1 L193.4 375.8 L193.9 375.6 L194.4 375.3 L194.9 375.2 L195.4 375.8 L195.9 375 L196.4 374.8 L196.9 375.3 L197.4 375.5 L197.9 374.4 L198.4 374.4 L198.9 374.3 L199.4 374.8 L199.9 374.7 L200.4 375 L200.9 374.4 L201.4 374.3 L201.9 374.1 L202.4 374.7 L202.9 374 L203.4 373.9 L203.9 374.1 L204.4 374.1 L204.9 374.2 L205.4 373.8 L205.9 374.6 L206.4 374.6 L206.9 373.5 L207.4 373.9 L207.9 373.5 L208.4 373.7 L208.9 373.3 L209.4 373.6 L209.9 373.7 L210.4 373.7 L210.9 373.1 L211.4 372.8 L211.9 372.8 L212.4 373.9 L212.9 373.3 L213.4 373.4 L213.9 373.8 L214.4 372.9 L214.9 373.4 L215.4 372.9 L215.9 373.2 L216.4 372.4 L216.9 372.9 L217.4 373 L217.9 373 L218.4 372.4 L218.9 372.8 L219.4 373.2 L219.9 372.8 L220.4 373.1 L220.9 372.9 L221.4 372.7 L221.9 372.5 L222.4 372.6 L222.9 372.2 L223.4 372.7 L223.9 372.6 L224.4 372.8 L224.9 373.2 L225.4 372.6 L225.9 372.5 L226.4 372.3 L226.9 372.5 L227.4 372.6 L227.9 372 L228.4 371.6 L228.9 371.5 L229.4 372.3 L229.9 372.1 L230.4 372.1 L230.9 371.2 L231.4 371.6 L231.9 371.2 L232.4 371.3 L232.9 371.5 L233.4 371.4 L233.9 372.2 L234.4 371.1 L234.9 371.3 L235.4 371.2 L235.9 371.4 L236.4 371.6 L236.9 371 L237.4 370.7 L237.9 371.1 L238.4 371.3 L238.9 370.8 L239.4 371.5 L239.9 370.7 L240.4 370.8 L240.9 370.8 L241.4 371.6 L241.9 371.2 L242.4 371 L242.9 370.4 L243.4 370.4 L243.9 370.5 L244.4 371.3 L244.9 371.1 L245.4 370.6 L245.9 370.3 L246.4 369.9 L246.9 370.3 L247.4 370.6 L247.9 370.6 L248.4 370.5 L248.9 370 L249.4 370.4 L249.9 370.2 L250.4 370.5 L250.9 370.2 L251.4 370.3 L251.9 370.1 L252.4 369.8 L252.9 370.3 L253.4 369.5 L253.9 370 L254.4 369.6 L254.9 369.6 L255.4 369.7 L255.9 369.4 L256.4 369.2 L256.9 369.2 L257.4 369 L257.9 369.4 L258.4 369.4 L258.9 369.2 L259.4 368.7 L259.9 369.2 L260.4 369.5 L260.9 368.7 L261.4 368.7 L261.9 369.3 L262.4 368.9 L262.9 369.2 L263.4 368.7 L263.9 368.2 L264.4 368.7 L264.9 368.6 L265.4 368.7 L265.9 368.2 L266.4 368.3 L266.9 369.2 L267.4 368.2 L267.9 368.9 L268.4 367.9 L268.9 368.3 L269.4 368.3 L269.9 368.4 L270.4 368.1 L270.9 367.8 L271.4 368 L271.9 367.4 L272.4 367 L272.9 367.3 L273.4 368.3 L273.9 368 L274.4 368.3 L274.9 367.8 L275.4 367 L275.9 367.2 L276.4 367.6 L276.9 367.1 L277.4 367 L277.9 366.9 L278.4 367 L278.9 366.5 L279.4 367.3 L279.9 366.8 L280.4 367.5 L280.9 367.6 L281.4 366.9 L281.9 367.3 L282.4 367.2 L282.9 366.9 L283.4 366.7 L283.9 367.1 L284.4 366.9 L284.9 366.5 L285.4 366.3 L285.9 366.5 L286.4 366.7 L286.9 366.6 L287.4 366.1 L287.9 366.2 L288.4 366.3 L288.9 366 L289.4 366.1 L289.9 365.7 L290.4 365.7 L290.9 366.1 L291.4 366 L291.9 365.7 L292.4 366.6 L292.9 365.7 L293.4 365.9 L293.9 365.7 L294.4 365.4 L294.9 365.8 L295.4 365.9 L295.9 365.4 L296.4 365.6 L296.9 366.3 L297.4 365 L297.9 365.2 L298.4 365.4 L298.9 365.1 L299.4 364.8 L299.9 364.8 L300.4 364.9 L300.9 364.8 L301.4 364.9 L301.9 365.4 L302.4 364.9 L302.9 364.6 L303.4 364.9 L303.9 364.9 L304.4 364.2 L304.9 364.3 L305.4 364.1 L305.9 364.6 L306.4 364.7 L306.9 364.3 L307.4 364.8 L307.9 364.1 L308.4 364.1 L308.9 364.2 L309.4 364.2 L309.9 364.7 L310.4 363.7 L310.9 364.2 L311.4 364 L311.9 364.3 L312.4 363.4 L312.9 363.4 L313.4 364.4 L313.9 364.2 L314.4 364.1 L314.9 363.6 L315.4 364 L315.9 363.6 L316.4 363.1 L316.9 363.4 L317.4 363.3 L317.9 363 L318.4 363.1 L318.9 363 L319.4 363.4 L319.9 363.5 L320.4 363.5 L320.9 363.5 L321.4 362.7 L321.9 363.2 L322.4 363.3 L322.9 363.1 L323.4 362.5 L323.9 361.8 L324.4 362.8 L324.9 362.5 L325.4 363 L325.9 362.1 L326.4 362.8 L326.9 362.4 L327.4 362.1 L327.9 362.3 L328.4 362.4 L328.9 362.7 L329.4 362.6 L329.9 362.7 L330.4 362.5 L330.9 362 L331.4 362 L331.9 362.2 L332.4 361.9 L332.9 361.4 L333.4 361.2 L333.9 362.2 L334.4 361.9 L334.9 362.5 L335.4 361.6 L335.9 362.1 L336.4 361.7 L336.9 361.8 L337.4 361.6" stroke="#22e022"/>
<path d="M43.4 345.9 L43.9 345.7 L44.4 345.5 L44.9 345.6 L45.4 345.5 L45.9 345.6 L46.4 345.6 L46.9 345.5 L47.4 345.4 L47.9 345.6 L48.4 345.1 L48.9 345.7 L49.4 345.7 L49.9 344.8 L50.4 345.3 L50.9 345.6 L51.4 345 L51.9 345.7 L52.4 345.8 L52.9 345.7 L53.4 345.8 L53.9 345.5 L54.4 345.7 L54.9 345.7 L55.4 345.5 L55.9 345.5 L56.4 345.1 L56.9 345.2 L57.4 345.8 L57.9 345.8 L58.4 345.3 L58.9 345.1 L59.4 345 L59.9 345.8 L60.4 345.5 L60.9 345.7 L61.4 345.4 L61.9 345.4 L62.4 344.9 L62.9 344.4 L63.4 344.3 L63.9 344.5 L64.4 343.7 L64.9 344 L65.4 343.6 L65.9 343.9 L66.4 343.3 L66.9 343.2 L67.4 343.6 L67.9 342.5 L68.4 343.5 L68.9 343.2 L69.4 342.9 L69.9 343.2 L70.4 343.1 L70.9 343.7 L71.4 343.9 L71.9 344.3 L72.4 344.2 L72.9 350.5 L73.4 358.9 L73.9 385.5 L74.4 417.2 L74.9 447.3 L75.4 476.5 L75.9 503.6 L76.4 520.7 L76.9 537.1 L77.4 545 L77.9 542.3 L78.4 540.5 L78.9 534.7 L79.4 527.3 L79.9 520.3 L80.4 513.5 L80.9 506.2 L81.4 499.2 L81.9 493 L82.4 486.2 L82.9 479.5 L83.4 473.3 L83.9 466.4 L84.4 460.6 L84.9 455.4 L85.4 450.7 L85.9 445.3 L86.4 440.3 L86.9 436.8 L87.4 432.5 L87.9 428.5 L88.4 424.9 L88.9 420.9 L89.4 416.5 L89.9 412.8 L90.4 409.9 L90.9 406.9 L91.4 404.3 L91.9 401.2 L92.4 398.9 L92.9 396.8 L93.4 394.2 L93.9 392 L94.4 390.3 L94.9 388.6 L95.4 387.1 L95.9 385.9 L96.4 384.8 L96.9 383.3 L97.4 382.5 L97.9 381.3 L98.4 380.1 L98.9 379.6 L99.4 378.5 L99.9 377.8 L100.4 377.4 L100.9 376.7 L101.4 375.8 L101.9 375.1 L102.4 374.5 L102.9 373.7 L103.4 372.9 L103.9 372.9 L104.4 372.7 L104.9 371.9 L105.4 371.3 L105.9 371.2 L106.4 370.6 L106.9 369.8 L107.4 369.5 L107.9 368.9 L108.4 369.1 L108.9 368.2 L109.4 368.6 L109.9 367.9 L110.4 367.9 L110.9 367.4 L111.4 367.4 L111.9 367.3 L112.4 367 L112.9 366.2 L113.4 366.2 L113.9 366.1 L114.4 366.3 L114.9 365.4 L115.4 365.3 L115.9 365 L116.4 365 L116.9 365 L117.4 364.4 L117.9 364.8 L118.4 364.6 L118.9 364.3 L119.4 364.1 L119.9 364.4 L120.4 363.3 L120.9 363.2 L121.4 363.7 L121.9 362.7 L122.4 362.9 L122.9 362.7 L123.4 362.4 L123.9 362.3 L124.4 362.4 L124.9 362.4 L125.4 362.3 L125.9 362.3 L126.4 362 L126.9 361.9 L127.4 362 L127.9 361.6 L128.4 361.3 L128.9 361.7 L129.4 360.9 L129.9 361.5 L130.4 361.5 L130.9 360.8 L131.4 360.5 L131.9 360.7 L132.4 360.9 L132.9 360.5 L133.4 360.9 L133.9 360.7 L134.4 360.2 L134.9 360.5 L135.4 359.9 L135.9 360.1 L136.4 360.2 L136.9 360.4 L137.4 360.2 L137.9 360.3 L138.4 359.5 L138.9 360.6 L139.4 359.5 L139.9 359.7 L140.4 359.9 L140.9 359.6 L141.4 359.7 L141.9 359 L142.4 359 L142.9 359.1 L143.4 359 L143.9 359.1 L144.4 358.9 L144.9 358.6 L145.4 358.9 L145.9 358.4 L146.4 358.5 L146.9 358.7 L147.4 358.3 L147.9 358.5 L148.4 358.6 L148.9 358.7 L149.4 358.6 L149.9 358.4 L150.4 358.3 L150.9 357.8 L151.4 357.9 L151.9 357.8 L152.4 357.9 L152.9 358 L153.4 357.7 L153.9 357.8 L154.4 358.2 L154.9 357.8 L155.4 357.3 L155.9 357.7 L156.4 357.7 L156.9 357.6 L157.4 358.2 L157.9 357.9 L158.4 358.1 L158.9 357.4 L159.4 357.7 L159.9 357.6 L160.4 357.5 L160.9 357.2 L161.4 357.5 L161.9 356.9 L162.4 357.6 L162.9 358 L163.4 357.7 L163.9 356.7 L164.4 357.3 L164.9 357 L165.4 357 L165.9 357 L166.4 357.4 L166.9 357.2 L167.4 356.8 L167.9 357.1 L168.4 357 L168.9 357.4 L169.4 356.5 L169.9 356.8 L170.4 356.6 L170.9 356.8 L171.4 356.2 L171.9 356.5 L172.4 356.6 L172.9 356.5 L173.4 356.4 L173.9 356.5 L174.4 356.4 L174.9 356.3 L175.4 356.4 L175.9 356.4 L176.4 356.5 L176.9 355.9 L177.4 356.2 L177.9 356.6 L178.4 355.9 L178.9 356.3 L179.4 356.1 L179.9 356.5 L180.4 356.5 L180.9 356.2 L181.4 356 L181.9 355.7 L182.4 355.9 L182.9 355.8 L183.4 356 L183.9 356.3 L184.4 356.4 L184.9 356 L185.4 355.9 L185.9 355.8 L186.4 355.9 L186.9 355.7 L187.4 356.2 L187.9 355.5 L188.4 355.7 L188.9 355.5 L189.4 355.9 L189.9 356.1 L190.4 355.7 L190.9 355.6 L191.4 355.5 L191.9 355.6 L192.4 355.3 L192.9 355.8 L193.4 355.8 L193.9 355.6 L194.4 355.5 L194.9 355.2 L195.4 355.7 L195.9 354.9 L196.4 355 L196.9 355.7 L197.4 355.1 L197.9 354.9 L198.4 354.7 L198.9 355.3 L199.4 355.3 L199.9 355.1 L200.4 354.6 L200.9 354.9 L201.4 354.8 L201.9 355.2 L202.4 355.3 L202.9 355 L203.4 355 L203.9 355.2 L204.4 355.3 L204.9 354.5 L205.4 354.9 L205.9 354.5 L206.4 354.6 L206.9 355 L207.4 354.4 L207.9 354.6 L208.4 355 L208.9 354.8 L209.4 354.2 L209.9 354.6 L210.4 354.5 L210.9 354.3 L211.4 355.1 L211.9 354.5 L212.4 354.5 L212.9 354.7 L213.4 354.5 L213.9 354.1 L214.4 354.4 L214.9 354.5 L215.4 354.4 L215.9 354.6 L216.4 354.6 L216.9 354.5 L217.4 354.3 L217.9 354.3 L218.4 354.8 L218.9 353.9 L219.4 354.5 L219.9 354.3 L220.4 354 L220.9 354.2 L221.4 354.3 L221.9 353.8 L222.4 354.2 L222.9 354.2 L223.4 353.9 L223.9 354.1 L224.4 354.4 L224.9 354.1 L225.4 353.8 L225.9 353.6 L226.4 353.5 L226.9 354.2 L227.4 353.9 L227.9 353.9 L228.4 353.8 L228.9 353.7 L229.4 354.3 L229.9 354 L230.4 354.2 L230.9 353.5 L231.4 353.9 L231.9 353.9 L232.4 353.4 L232.9 353.5 L233.4 353.5 L233.9 353.9 L234.4 353.7 L234.9 353.4 L235.4 353.8 L235.9 353.4 L236.4 353.6 L236.9 353.5 L237.4 353.3 L237.9 353.7 L238.4 353.5 L238.9 352.9 L239.4 353.4 L239.9 353.8 L240.4 352.9 L240.9 353.6 L241.4 353.4 L241.9 353 L242.4 353.3 L242.9 353 L243.4 352.9 L243.9 353.4 L244.4 353.3 L244.9 352.8 L245.4 353.1 L245.9 353.2 L246.4 352.8 L246.9 353.4 L247.4 352.9 L247.9 353.2 L248.4 353.2 L248.9 352.8 L249.4 353.1 L249.9 353.1 L250.4 353.1 L250.9 352.9 L251.4 353.2 L251.9 353.1 L252.4 353.3 L252.9 353.2 L253.4 352.5 L253.9 352.7 L254.4 352.9 L254.9 353.1 L255.4 352.6 L255.9 352.8 L256.4 352.8 L256.9 352.7 L257.4 353 L257.9 352.5 L258.4 352.8 L258.9 352.5 L259.4 352.7 L259.9 352.4 L260.4 352.5 L260.9 352.8 L261.4 352.3 L261.9 352.6 L262.4 352.7 L262.9 352.5 L263.4 352.4 L263.9 352.5 L264.4 352.2 L264.9 352.6 L265.4 352.6 L265.9 352.8 L266.4 352.4 L266.9 352.6 L267.4 352.2 L267.9 352.4 L268.4 352.1 L268.9 352.3 L269.4 352.2 L269.9 352.5 L270.4 351.7 L270.9 352.1 L271.4 352.1 L271.9 352.3 L272.4 351.9 L272.9 352 L273.4 352.4 L273.9 351.9 L274.4 351.9 L274.9 352.3 L275.4 351.5 L275.9 352.1 L276.4 352 L276.9 352 L277.4 351.5 L277.9 351.6 L278.4 351.7 L278.9 351.7 L279.4 352 L279.9 351.7 L280.4 352.1 L280.9 351.8 L281.4 351.9 L281.9 351.6 L282.4 351.6 L282.9 351.8 L283.4 351.9 L283.9 351.5 L284.4 352 L284.9 351.6 L285.4 352 L285.9 351.3 L286.4 351.5 L286.9 351.7 L287.4 351.5 L287.9 351.4 L288.4 351.6 L288.9 351.7 L289.4 351.3 L289.9 351.6 L290.4 351.3 L290.9 351.2 L291.4 351.7 L291.9 351.2 L292.4 351.2 L292.9 351.5 L293.4 351 L293.9 351 L294.4 351.2 L294.9 351.2 L295.4 351.4 L295.9 351.1 L296.4 351 L296.9 350.8 L297.4 351 L297.9 351 L298.4 351.4 L298.9 350.7 L299.4 350.6 L299.9 350.6 L300.4 350.9 L300.9 351.1 L301.4 351.4 L301.9 350.5 L302.4 351 L302.9 350.7 L303.4 351.3 L303.9 350.9 L304.4 351.2 L304.9 350.8 L305.4 351.1 L305.9 350.9 L306.4 350.6 L306.9 351 L307.4 350.6 L307.9 350.1 L308.4 350.7 L308.9 350.4 L309.4 350.8 L309.9 351 L310.4 350.7 L310.9 350.7 L311.4 350.3 L311.9 350.3 L312.4 350.4 L312.9 351 L313.4 350.4 L313.9 350.5 L314.4 350 L314.9 350.3 L315.4 350.4 L315.9 350.3 L316.4 350.3 L316.9 350.4 L317.4 350.4 L317.9 350 L318.4 349.9 L318.9 350.4 L319.4 350.4 L319.9 349.9 L320.4 350.4 L320.9 349.8 L321.4 350.1 L321.9 350.4 L322.4 349.7 L322.9 350.1 L323.4 350 L323.9 349.8 L324.4 350.2 L324.9 349.8 L325.4 349.8 L325.9 349.7 L326.4 350.1 L326.9 350.1 L327.4 350.2 L327.9 349.8 L328.4 349.7 L328.9 350.2 L329.4 349.7 L329.9 350 L330.4 350.2 L330.9 350 L331.4 349.3 L331.9 349.5 L332.4 349.5 L332.9 349.9 L333.4 349.5 L333.9 349.8 L334.4 349.7 L334.9 349.6 L335.4 349.6 L335.9 349.4 L336.4 349.9 L336.9 349.6 L337.4 349.9" stroke="#1a1a1a"/>
<path d="M45 345.6 L45.5 345.4 L46 346.3 L46.5 345.5 L47 345.9 L47.5 345.8 L48 345.9 L48.5 345.8 L49 345.6 L49.5 345.5 L50 346 L50.5 345.7 L51 346.4 L51.5 345.9 L52 346.3 L52.5 345.8 L53 346.2 L53.5 345.7 L54 345.6 L54.5 345.8 L55 345.8 L55.5 346.7 L56 345.5 L56.5 345.7 L57 346.1 L57.5 345.8 L58 345.9 L58.5 346.1 L59 345.9 L59.5 345.7 L60 345.5 L60.5 345.9 L61 346.1 L61.5 346 L62 346.3 L62.5 345.8 L63 346 L63.5 345.6 L64 345.3 L64.5 345.5 L65 343.6 L65.5 343.1 L66 342.3 L66.5 341.5 L67 341.3 L67.5 341.5 L68 341.4 L68.5 341.5 L69 341.8 L69.5 341.6 L70 342 L70.5 342.1 L71 342.3 L71.5 342.5 L72 343.9 L72.5 348.8 L73 353.6 L73.5 370.3 L74 414.7 L74.5 475.7 L75 506.3 L75.5 521.9 L76 532.1 L76.5 541.2 L77 547.9 L77.5 549.7 L78 547.3 L78.5 543.8 L79 537.5 L79.5 531.6 L80 526 L80.5 520.8 L81 514.7 L81.5 510.4 L82 504.3 L82.5 499.4 L83 494 L83.5 489.6 L84 484 L84.5 481.2 L85 478.7 L85.5 475.9 L86 472.5 L86.5 469.9 L87 466.8 L87.5 465.4 L88 462.5 L88.5 461.9 L89 459.2 L89.5 456.7 L90 455.5 L90.5 453.9 L91 452.9 L91.5 451.7 L92 450.8 L92.5 448.6 L93 448.1 L93.5 447.6 L94 446 L94.5 445.9 L95 445.2 L95.5 444 L96 442.8 L96.5 442.9 L97 442.1 L97.5 442.2 L98 441 L98.5 440.7 L99 440.1 L99.5 439.4 L100 438.4 L100.5 438 L101 437.7 L101.5 437 L102 436.5 L102.5 436.3 L103 435.6 L103.5 435.4 L104 434.8 L104.5 434.4 L105 433.7 L105.5 433 L106 433.3 L106.5 432.9 L107 432.4 L107.5 431.5 L108 431.6 L108.5 431 L109 430.7 L109.5 430.2 L110 429.9 L110.5 429.6 L111 429.6 L111.5 428.9 L112 428.9 L112.5 428.4 L113 427.8 L113.5 428 L114 427.7 L114.5 427.4 L115 426.1 L115.5 427.1 L116 426.4 L116.5 425.8 L117 426.4 L117.5 425.5 L118 425.4 L118.5 424.9 L119 423.9 L119.5 424.7 L120 423.6 L120.5 424 L121 423.4 L121.5 422.8 L122 422.1 L122.5 422.4 L123 421.9 L123.5 422 L124 421.3 L124.5 421.6 L125 420.9 L125.5 420.6 L126 421.1 L126.5 420.5 L127 419.7 L127.5 419.7 L128 418.8 L128.5 418.8 L129 418.7 L129.5 418.2 L130 417.8 L130.5 418.1 L131 417.4 L131.5 417 L132 416.8 L132.5 416.6 L133 416.8 L133.5 416.4 L134 415.6 L134.5 416.3 L135 416 L135.5 415.3 L136 414.9 L136.5 415 L137 414.6 L137.5 414.7 L138 414.3 L138.5 414.5 L139 413.4 L139.5 413.5 L140 413.5 L140.5 413.1 L141 412.9 L141.5 412.4 L142 413.1 L142.5 412.3 L143 412.3 L143.5 411.6 L144 411.5 L144.5 411.4 L145 411.7 L145.5 411.4 L146 411.4 L146.5 411 L147 410.8 L147.5 410 L148 409.7 L148.5 410.1 L149 409.2 L149.5 409.4 L150 408.8 L150.5 408.5 L151 408.6 L151.5 408.1 L152 408.1 L152.5 408.3 L153 407.8 L153.5 408 L154 407.3 L154.5 407.4 L155 406.8 L155.5 407.3 L156 406.1 L156.5 406.6 L157 406.5 L157.5 405.3 L158 405.4 L158.5 405.3 L159 405.5 L159.5 405.3 L160 405.1 L160.5 405.2 L161 405.5 L161.5 404.3 L162 404.5 L162.5 404.3 L163 404.4 L163.5 403.2 L164 403.2 L164.5 403.1 L165 403 L165.5 403.2 L166 402.8 L166.5 402.1 L167 402.3 L167.5 401.8 L168 401.9 L168.5 401.9 L169 401.5 L169.5 402 L170 402.1 L170.5 401.4 L171 400.5 L171.5 401.3 L172 401.3 L172.5 400.4 L173 400.4 L173.5 400.4 L174 399.9 L174.5 400.1 L175 399.7 L175.5 399.1 L176 399 L176.5 398.9 L177 398.7 L177.5 399.1 L178 398.7 L178.5 398.3 L179 398.5 L179.5 398.1 L180 398.3 L180.5 398.3 L181 397.7 L181.5 397.3 L182 397 L182.5 397.7 L183 397.1 L183.5 396.7 L184 396.7 L184.5 396.2 L185 396.8 L185.5 396.4 L186 396 L186.5 395.5 L187 396.5 L187.5 395.7 L188 394.8 L188.5 395.2 L189 395.2 L189.5 395.1 L190 394.5 L190.5 395.1 L191 394.7 L191.5 394.4 L192 394 L192.5 393.5 L193 393.8 L193.5 393.7 L194 393.3 L194.5 393.6 L195 393.6 L195.5 393 L196 392.9 L196.5 392.9 L197 393.2 L197.5 393 L198 391.9 L198.5 392.1 L199 392.9 L199.5 391.8 L200 392.3 L200.5 391.8 L201 392 L201.5 391.4 L202 391.4 L202.5 391.4 L203 391.1 L203.5 391 L204 391.4 L204.5 390.8 L205 391.1 L205.5 390.4 L206 390.4 L206.5 390.6 L207 390.5 L207.5 390.5 L208 390.1 L208.5 390 L209 389.7 L209.5 389.3 L210 389.5 L210.5 389.9 L211 389.4 L211.5 389.4 L212 389.6 L212.5 388.9 L213 389.1 L213.5 388.8 L214 389.2 L214.5 388.3 L215 388.5 L215.5 388.3 L216 388.3 L216.5 388.1 L217 388.8 L217.5 388 L218 387.9 L218.5 387.4 L219 387.3 L219.5 387.4 L220 387.2 L220.5 387.6 L221 387.2 L221.5 387.1 L222 387.1 L222.5 386.7 L223 386.5 L223.5 386.6 L224 386.8 L224.5 386.6 L225 386.2 L225.5 386.9 L226 386.4 L226.5 386.4 L227 386.6 L227.5 385.7 L228 386.2 L228.5 385.9 L229 385.8 L229.5 385.2 L230 385.3 L230.5 385.4 L231 385.3 L231.5 385.7 L232 385 L232.5 385.1 L233 384.9 L233.5 384.5 L234 384.7 L234.5 384.7 L235 385.1 L235.5 384.9 L236 384.2 L236.5 384 L237 384.2 L237.5 383.9 L238 384.8 L238.5 384.2 L239 383.8 L239.5 383.5 L240 383.3 L240.5 383.5 L241 382.6 L241.5 383.2 L242 383.1 L242.5 383.6 L243 382.5 L243.5 383.2 L244 382.7 L244.5 383 L245 382.4 L245.5 382.7 L246 382.7 L246.5 383.2 L247 382 L247.5 382.1 L248 382 L248.5 381.8 L249 381.9 L249.5 381.8 L250 381.6 L250.5 381.1 L251 381.6 L251.5 381 L252 381.3 L252.5 381.6 L253 380.8 L253.5 381 L254 381 L254.5 380.9 L255 380.7 L255.5 380.7 L256 380.8 L256.5 380.2 L257 380.4 L257.5 380.6 L258 380.1 L258.5 379.8 L259 380.3 L259.5 380.2 L260 380.2 L260.5 379.8 L261 379.5 L261.5 380.1 L262 379.9 L262.5 379.7 L263 379.2 L263.5 379.3 L264 378.9 L264.5 378.8 L265 379 L265.5 379 L266 379 L266.5 378.8 L267 379.3 L267.5 378.2 L268 378.9 L268.5 378.2 L269 378.6 L269.5 377.9 L270 378.8 L270.5 378.5 L271 377.4 L271.5 378.2 L272 377.8 L272.5 377.9 L273 377.6 L273.5 377.4 L274 377 L274.5 377.1 L275 377.2 L275.5 376.6 L276 376.7 L276.5 376.9 L277 377 L277.5 376.6 L278 377.1 L278.5 376.4 L279 376.7 L279.5 376.8 L280 376.1 L280.5 376.6 L281 376.1 L281.5 375.8 L282 376.4 L282.5 376.4 L283 375.7 L283.5 376 L284 375.9 L284.5 375.5 L285 376.1 L285.5 375.3 L286 375 L286.5 375.2 L287 375 L287.5 374.8 L288 374.8 L288.5 374.4 L289 374.9 L289.5 374.2 L290 374.9 L290.5 374.7 L291 374.3 L291.5 374.3 L292 374.1 L292.5 374.3 L293 374.8 L293.5 374.3 L294 374 L294.5 374.7 L295 373.9 L295.5 373.9 L296 374.6 L296.5 374.1 L297 374.3 L297.5 374 L298 374 L298.5 374 L299 373.9 L299.5 374.3 L300 373.2 L300.5 372.8 L301 373.4 L301.5 373 L302 373.5 L302.5 373 L303 373.4 L303.5 373.6 L304 373.1 L304.5 373 L305 373.4 L305.5 372.9 L306 373 L306.5 373 L307 372.6 L307.5 373.2 L308 372.5 L308.5 373.1 L309 372.9 L309.5 372.4 L310 372.6 L310.5 372.9 L311 372.5 L311.5 373.3 L312 372.2 L312.5 372.8 L313 371.9 L313.5 372.3 L314 372.6 L314.5 371.7 L315 372.3 L315.5 371.9 L316 371.7 L316.5 371.9 L317 371.9 L317.5 371.9 L318 371.8 L318.5 371.7 L319 371.1 L319.5 372.3 L320 372.4 L320.5 371.9 L321 371.6 L321.5 371.3 L322 371.7 L322.5 371.7 L323 371.2 L323.5 371.4 L324 371.7 L324.5 371.5 L325 371.3 L325.5 371.3 L326 371 L326.5 371.2 L327 371.2 L327.5 370.9 L328 371 L328.5 371.3 L329 371.3 L329.5 370.2 L330 370.4 L330.5 371.1 L331 370.9 L331.5 370.9 L332 370.3 L332.5 370.7 L333 370.8 L333.5 370.7 L334 370.3 L334.5 370.3 L335 370.5 L335.5 370.4 L336 370.7 L336.5 369.6 L337 370.1" stroke="#ee2222"/>
</g>
<line x1="183.1" y1="424" x2="198" y2="424" stroke="#2d3e55" stroke-width="2"/>
<text x="202.7" y="427.7" font-size="10" text-anchor="start" fill="#222" >CON</text>
<line x1="183.1" y1="438" x2="198" y2="438" stroke="#22e022" stroke-width="2"/>
<text x="202.7" y="441.7" font-size="10" text-anchor="start" fill="#222" >ATX II + Moricizine</text>
<line x1="183.1" y1="452.6" x2="198" y2="452.6" stroke="#ee2222" stroke-width="2"/>
<text x="202.7" y="456.3" font-size="10" text-anchor="start" fill="#222" >ATX II</text>
<polyline points="205.3,503.2 205.3,535.3 238.4,535.3" fill="none" stroke="#34485f" stroke-width="1.6"/>
<text x="186.7" y="499.2" font-size="10" text-anchor="start" fill="#222" transform="rotate(90 186.7 499.2)">0.5 nA</text>
<text x="209" y="549" font-size="10" text-anchor="start" fill="#222" >1 ms</text>
<path d="M385.2 313.2 L390.5 313.2 C395 313.2 397.75 316.2 397.75 319.9 C397.75 323.6 395 326.6 390.5 326.6 L385.2 326.6 Z" fill="none" stroke="#000" stroke-width="1.9"/>
<line x1="476" y1="372.4" x2="476" y2="516.4" stroke="#444" stroke-width="1.2"/>
<line x1="476" y1="516" x2="692.6" y2="516" stroke="#222" stroke-width="1.2"/>
<line x1="469.7" y1="516.4" x2="476" y2="516.4" stroke="#333" stroke-width="1.2"/>
<text x="463.8" y="521.0" font-size="13.4" text-anchor="end" fill="#111" >0.0</text>
<line x1="469.7" y1="487.64" x2="476" y2="487.64" stroke="#333" stroke-width="1.2"/>
<text x="463.8" y="492.24" font-size="13.4" text-anchor="end" fill="#111" >0.2</text>
<line x1="469.7" y1="458.88" x2="476" y2="458.88" stroke="#333" stroke-width="1.2"/>
<text x="463.8" y="463.48" font-size="13.4" text-anchor="end" fill="#111" >0.4</text>
<line x1="469.7" y1="430.12" x2="476" y2="430.12" stroke="#333" stroke-width="1.2"/>
<text x="463.8" y="434.72" font-size="13.4" text-anchor="end" fill="#111" >0.6</text>
<line x1="469.7" y1="401.35999999999996" x2="476" y2="401.35999999999996" stroke="#333" stroke-width="1.2"/>
<text x="463.8" y="405.96" font-size="13.4" text-anchor="end" fill="#111" >0.8</text>
<line x1="469.7" y1="372.59999999999997" x2="476" y2="372.59999999999997" stroke="#333" stroke-width="1.2"/>
<text x="463.8" y="377.2" font-size="13.4" text-anchor="end" fill="#111" >1.0</text>
<text x="435" y="437.7" font-size="12.3" text-anchor="middle" fill="#111" transform="rotate(-90 435 437.7)">Normoalized INaP</text>
<rect x="496.9" y="372.2" width="45.200000000000045" height="143.8" fill="#000"/>
<line x1="583.75" y1="387.8" x2="583.75" y2="377.8" stroke="#111" stroke-width="1.4"/>
<line x1="574.3" y1="377.8" x2="594.8" y2="377.8" stroke="#111" stroke-width="1.5"/>
<rect x="561" y="384.8" width="45.5" height="131.2" fill="#a0a0a6"/>
<line x1="649.0" y1="467.8" x2="649.0" y2="459.7" stroke="#111" stroke-width="1.4"/>
<line x1="638.1" y1="459.7" x2="659.6" y2="459.7" stroke="#111" stroke-width="1.5"/>
<rect x="626.4" y="464.8" width="45.200000000000045" height="51.19999999999999" fill="#7f7f7f"/>
<line x1="519" y1="516" x2="519" y2="522" stroke="#333" stroke-width="1.2"/>
<line x1="583.8" y1="516" x2="583.8" y2="522" stroke="#333" stroke-width="1.2"/>
<line x1="648.6" y1="516" x2="648.6" y2="522" stroke="#333" stroke-width="1.2"/>
<polyline points="519,341.5 519,335.8 649.2,335.8 649.2,341.5" fill="none" stroke="#222" stroke-width="1.3"/>
<polyline points="519,365.2 519,358.9 581.3,358.9 581.3,365.2" fill="none" stroke="#222" stroke-width="1.3"/>
<polyline points="586.3,365.2 586.3,358.9 649.2,358.9 649.2,365.2" fill="none" stroke="#222" stroke-width="1.3"/>
<text x="583.8" y="328.8" font-size="10.3" text-anchor="middle" fill="#222" >P&lt;0.001</text>
<text x="552.2" y="353" font-size="10.3" text-anchor="middle" fill="#222" >P=0.282</text>
<text x="617.8" y="351.8" font-size="10.3" text-anchor="middle" fill="#222" >P&lt;0.001</text>
<text x="519.5" y="533.5" font-size="14.3" text-anchor="end" fill="#111" transform="rotate(-45 519.5 533.5)">CON</text>
<text x="582.4" y="535.6" font-size="14.3" text-anchor="end" fill="#111" transform="rotate(-45 582.4 535.6)">ATX II</text>
<text x="649.2" y="533.8" font-size="14.3" text-anchor="end" fill="#111" transform="rotate(-45 649.2 533.8)">ATX II + Moricizine</text>
<path d="M12.9 639.1 L4.1 639.1 L4.1 653.0 L12.9 653.0 M4.1 646.3 L12.2 646.3" fill="none" stroke="#000" stroke-width="1.75"/>
<text x="107.5" y="698.8" font-size="14.6" text-anchor="middle" fill="#111" >CON</text>
<text x="183.4" y="698.8" font-size="14.6" text-anchor="middle" fill="#111" >ATX II</text>
<text x="259" y="685.9" font-size="14.6" text-anchor="middle" fill="#111" >ATX II +</text>
<text x="259.6" y="701.6" font-size="14.6" text-anchor="middle" fill="#111" >Moricizine</text>
<text x="13.8" y="728.7" font-size="14.4" text-anchor="start" fill="#111" >Nav1.5</text>
<text x="13.8" y="770.3" font-size="14.4" text-anchor="start" fill="#111" >GAPDH</text>
<text x="309.7" y="729.7" font-size="14.6" text-anchor="start" fill="#111" >227 kD</text>
<text x="310.8" y="771" font-size="14.6" text-anchor="start" fill="#111" >37 kD</text>
<defs><filter id="b1" x="-20%" y="-200%" width="140%" height="500%"><feGaussianBlur stdDeviation="2.4 1.5"/></filter><filter id="b2" x="-20%" y="-100%" width="140%" height="300%"><feGaussianBlur stdDeviation="2.9 2.5"/></filter><filter id="b2b" x="-20%" y="-100%" width="140%" height="300%"><feGaussianBlur stdDeviation="5 4"/></filter><filter id="b3" x="-50%" y="-50%" width="200%" height="200%"><feGaussianBlur stdDeviation="2.5"/></filter><linearGradient id="g1" x1="0" y1="0" x2="0" y2="1"><stop offset="0" stop-color="#e0e0e0"/><stop offset="1" stop-color="#d2d2d2"/></linearGradient><linearGradient id="g2" x1="0" y1="0" x2="0" y2="1"><stop offset="0" stop-color="#ececec"/><stop offset="0.5" stop-color="#c8c8c8"/><stop offset="1" stop-color="#e6e6e6"/></linearGradient><clipPath id="c1"><rect x="73.4" y="709.8" width="229.6" height="28.6"/></clipPath><clipPath id="c2"><rect x="73.4" y="749.2" width="229.6" height="33.2"/></clipPath></defs>
<g clip-path="url(#c1)">
<rect x="73" y="709" width="231" height="30" fill="url(#g1)"/>
<rect x="137" y="705" width="19" height="40" fill="#eeeeee" filter="url(#b3)"/>
<rect x="219" y="705" width="19" height="40" fill="#ececec" filter="url(#b3)"/>
<rect x="76" y="723.3" width="54.5" height="5.2" rx="2.5" fill="#5c5c5c" filter="url(#b1)"/>
<rect x="160" y="721" width="54.5" height="4.4" rx="2.2" fill="#7c7c7c" filter="url(#b1)"/>
<rect x="242" y="720" width="24" height="4" rx="2" fill="#808080" filter="url(#b1)"/>
<rect x="262" y="721" width="22" height="3.6" rx="1.8" fill="#9a9a9a" filter="url(#b1)"/>
<rect x="280" y="721" width="20" height="4.2" rx="2" fill="#767676" filter="url(#b1)"/>
</g>
<rect x="72.9" y="709.2" width="230.7" height="29.8" fill="none" stroke="#1d2f45" stroke-width="1.4"/>
<g clip-path="url(#c2)">
<rect x="73" y="748" width="231" height="36" fill="#e8e8e8"/>
<rect x="74" y="752" width="230" height="28" fill="#b8b8b8" filter="url(#b2b)"/>
<rect x="148" y="745" width="10" height="42" fill="#e0e0e0" filter="url(#b3)"/>
<rect x="223" y="745" width="6" height="42" fill="#d8d8d8" filter="url(#b3)"/>
<rect x="77.5" y="757.8" width="68.5" height="17.2" rx="8" fill="#040404" filter="url(#b2)"/>
<rect x="154.5" y="757.8" width="68" height="17" rx="8" fill="#040404" filter="url(#b2)"/>
<rect x="229" y="758.5" width="71" height="17.2" rx="8" fill="#060606" filter="url(#b2)" transform="rotate(1.2 264 767)"/>
</g>
<rect x="72.9" y="748.5" width="230.7" height="34.5" fill="none" stroke="#1d2f45" stroke-width="1.4"/>
<path d="M395.5 639.25 L387.95 639.25 L387.95 653.75 M387.95 646.4 L394.9 646.4" fill="none" stroke="#000" stroke-width="2.1"/>
<line x1="476.3" y1="681.6" x2="476.3" y2="810.5" stroke="#222" stroke-width="1.2"/>
<line x1="476.3" y1="810.2" x2="669.7" y2="810.2" stroke="#222" stroke-width="1.2"/>
<line x1="470.4" y1="810.5" x2="476.3" y2="810.5" stroke="#333" stroke-width="1.2"/>
<text x="464.3" y="815.7" font-size="14.6" text-anchor="end" fill="#111" >0.0</text>
<line x1="470.4" y1="767.55" x2="476.3" y2="767.55" stroke="#333" stroke-width="1.2"/>
<text x="464.3" y="772.75" font-size="14.6" text-anchor="end" fill="#111" >0.5</text>
<line x1="470.4" y1="724.6" x2="476.3" y2="724.6" stroke="#333" stroke-width="1.2"/>
<text x="464.3" y="729.8000000000001" font-size="14.6" text-anchor="end" fill="#111" >1.0</text>
<line x1="470.4" y1="681.65" x2="476.3" y2="681.65" stroke="#333" stroke-width="1.2"/>
<text x="464.3" y="686.85" font-size="14.6" text-anchor="end" fill="#111" >1.5</text>
<text x="416.9" y="747.6" font-size="14.4" text-anchor="middle" fill="#111" transform="rotate(-90 416.9 747.6)">Relative Nav1.5</text>
<text x="433.7" y="748.2" font-size="14.4" text-anchor="middle" fill="#111" transform="rotate(-90 433.7 748.2)">protein expression</text>
<line x1="515.5" y1="725.8" x2="515.5" y2="721.2" stroke="#111" stroke-width="1.4"/>
<line x1="505.4" y1="721.2" x2="524.4" y2="721.2" stroke="#111" stroke-width="1.5"/>
<rect x="495.9" y="723.8" width="39.200000000000045" height="86.40000000000009" fill="#000"/>
<line x1="573.2" y1="725.8" x2="573.2" y2="720.6" stroke="#111" stroke-width="1.4"/>
<line x1="563.9" y1="720.6" x2="582.8" y2="720.6" stroke="#111" stroke-width="1.5"/>
<rect x="553.1" y="723.8" width="40.19999999999993" height="86.40000000000009" fill="#a0a0a6"/>
<line x1="631.2" y1="725.8" x2="631.2" y2="719.3" stroke="#111" stroke-width="1.4"/>
<line x1="621.7" y1="719.3" x2="640.7" y2="719.3" stroke="#111" stroke-width="1.5"/>
<rect x="611.3" y="723.8" width="39.80000000000007" height="86.40000000000009" fill="#7f7f7f"/>
<line x1="515.2" y1="810.2" x2="515.2" y2="816.2" stroke="#333" stroke-width="1.2"/>
<line x1="572.7" y1="810.2" x2="572.7" y2="816.2" stroke="#333" stroke-width="1.2"/>
<line x1="631.2" y1="810.2" x2="631.2" y2="816.2" stroke="#333" stroke-width="1.2"/>
<polyline points="511.7,674.8 511.7,669.1 631.8,669.1 631.8,674.8" fill="none" stroke="#222" stroke-width="1.3"/>
<polyline points="511.7,697.8 511.7,691.5 569.6,691.5 569.6,697.8" fill="none" stroke="#222" stroke-width="1.3"/>
<polyline points="574.3,697.8 574.3,691.5 631.8,691.5 631.8,697.8" fill="none" stroke="#222" stroke-width="1.3"/>
<text x="570.8" y="661.5" font-size="10.3" text-anchor="middle" fill="#222" >P=0.962</text>
<text x="543" y="684.2" font-size="10.3" text-anchor="middle" fill="#222" >P=0.969</text>
<text x="601.5" y="685.2" font-size="10.3" text-anchor="middle" fill="#222" >P=0.930</text>
<text x="517" y="829" font-size="14.3" text-anchor="end" fill="#111" transform="rotate(-45 517 829)">CON</text>
<text x="574" y="830" font-size="14.3" text-anchor="end" fill="#111" transform="rotate(-45 574 830)">ATX II</text>
<text x="633.5" y="828" font-size="14.3" text-anchor="end" fill="#111" transform="rotate(-45 633.5 828)">ATX II + Moricizine</text>
</svg></body></html>
